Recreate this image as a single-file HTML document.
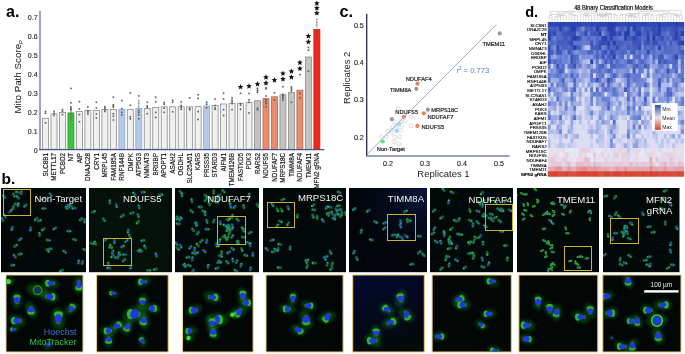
<!DOCTYPE html>
<html><head><meta charset="utf-8"><style>
html,body{margin:0;padding:0;background:#fff;width:685px;height:354px;overflow:hidden}
svg{display:block}
text{font-family:"Liberation Sans", Arial, sans-serif}
.t{stroke:#222;stroke-width:0.18px}
</style></head><body>
<svg width="685" height="354" viewBox="0 0 685 354">
<rect width="685" height="354" fill="#fff"/>
<defs><g id="c1"><ellipse rx="3.4" ry="2.0" fill="#22b022" opacity="0.45"/><ellipse cx="1.5" rx="1.1" ry="0.95" fill="#2ad82a"/><ellipse cx="-1.5" rx="0.8" ry="0.65" fill="#26c026"/><ellipse rx="1.4" ry="1.0" fill="#2a3cf4"/></g><g id="c2"><ellipse rx="3.4" ry="2.0" fill="#22b022" opacity="0.45"/><ellipse cx="1.5" rx="0.9" ry="0.8" fill="#2ad82a"/><ellipse cx="-1.5" rx="0.95" ry="0.8" fill="#26c026"/><ellipse rx="1.4" ry="1.0" fill="#2a3cf4"/></g><g id="c3"><ellipse rx="3.4" ry="2.0" fill="#22b022" opacity="0.45"/><ellipse cx="1.5" rx="1.25" ry="1.05" fill="#2ad82a"/><ellipse cx="-1.5" rx="0.5" ry="0.45" fill="#26c026"/><ellipse rx="1.4" ry="1.0" fill="#2a3cf4"/></g><g id="g"><ellipse rx="3.0" ry="1.6" fill="#22b022" opacity="0.4"/><ellipse rx="2.3" ry="1.15" fill="#2cc82c"/><ellipse rx="1.0" ry="0.85" fill="#2a40e0"/></g></defs>
<text x="1.6" y="184.2" font-size="15.5" font-weight="bold">b.</text>
<defs><filter id="bl05" x="-50%" y="-50%" width="200%" height="200%"><feGaussianBlur stdDeviation="0.4"/></filter><filter id="bl1" x="-50%" y="-50%" width="200%" height="200%"><feGaussianBlur stdDeviation="0.7"/></filter><filter id="bl2" x="-50%" y="-50%" width="200%" height="200%"><feGaussianBlur stdDeviation="1.6"/></filter></defs>
<defs><radialGradient id="tmg" cx="0.9" cy="0.05" r="0.8"><stop offset="0" stop-color="#0a1438"/><stop offset="0.5" stop-color="#040a1c"/><stop offset="1" stop-color="#02060a"/></radialGradient><linearGradient id="tmg2" x1="0" y1="0" x2="0.3" y2="1"><stop offset="0" stop-color="#040a30"/><stop offset="0.6" stop-color="#03081c"/><stop offset="1" stop-color="#030a0c"/></linearGradient></defs>
<defs><radialGradient id="gg"><stop offset="0" stop-color="#3cff3c" stop-opacity="0.9"/><stop offset="1" stop-color="#20c020" stop-opacity="0"/></radialGradient></defs>
<rect x="1" y="188" width="85.0" height="84.2" fill="#030808"/>
<g clip-path="url(#ct0)">
<use href="#c1" transform="translate(15.7,245.7) rotate(324) scale(0.85)"/>
<use href="#c1" transform="translate(54.7,228.4) rotate(147) scale(0.85)"/>
<use href="#c3" transform="translate(19.9,254.2) rotate(346) scale(0.85)"/>
<use href="#c2" transform="translate(69.1,231.1) rotate(5) scale(0.85)"/>
<use href="#c2" transform="translate(43.9,208.4) rotate(177) scale(0.85)"/>
<use href="#c1" transform="translate(2.3,219.5) rotate(240) scale(0.85)"/>
<use href="#c1" transform="translate(50.6,194.7) rotate(58) scale(0.85)"/>
<use href="#c2" transform="translate(67.9,208.1) rotate(158) scale(0.85)"/>
<use href="#c2" transform="translate(21.3,192.5) rotate(279) scale(0.85)"/>
<use href="#c2" transform="translate(84.8,249.7) rotate(21) scale(0.85)"/>
<use href="#c2" transform="translate(74.6,239.6) rotate(19) scale(0.85)"/>
<use href="#c1" transform="translate(4.8,216.0) rotate(237) scale(0.85)"/>
<use href="#c1" transform="translate(43.3,198.5) rotate(151) scale(0.85)"/>
<use href="#c2" transform="translate(81.0,219.3) rotate(142) scale(0.85)"/>
<use href="#c1" transform="translate(14.8,256.2) rotate(232) scale(0.85)"/>
<use href="#c3" transform="translate(12.4,265.3) rotate(354) scale(0.85)"/>
<use href="#c1" transform="translate(39.6,234.4) rotate(262) scale(0.85)"/>
<use href="#c3" transform="translate(30.5,228.8) rotate(91) scale(0.85)"/>
<use href="#c3" transform="translate(17.5,192.1) rotate(189) scale(0.85)"/>
<use href="#c1" transform="translate(73.9,208.3) rotate(172) scale(0.85)"/>
<use href="#c2" transform="translate(66.8,206.1) rotate(324) scale(0.85)"/>
<use href="#c2" transform="translate(82.4,262.5) rotate(286) scale(0.85)"/>
<use href="#c2" transform="translate(64.6,251.7) rotate(216) scale(0.85)"/>
<use href="#c2" transform="translate(50.2,249.0) rotate(174) scale(0.85)"/>
<use href="#c3" transform="translate(12.2,228.2) rotate(111) scale(0.85)"/>
<use href="#c1" transform="translate(70.6,205.5) rotate(212) scale(0.85)"/>
<use href="#c1" transform="translate(78.6,262.0) rotate(277) scale(0.85)"/>
<use href="#c1" transform="translate(36.0,219.0) rotate(138) scale(0.85)"/>
<use href="#c1" transform="translate(39.5,220.7) rotate(343) scale(0.85)"/>
<use href="#c2" transform="translate(84.6,220.8) rotate(95) scale(0.85)"/>
<use href="#c3" transform="translate(4.2,196.7) rotate(232) scale(0.85)"/>
<use href="#c3" transform="translate(61.6,270.6) rotate(152) scale(0.85)"/>
<use href="#c1" transform="translate(43.2,229.4) rotate(146) scale(0.85)"/>
<use href="#c1" transform="translate(47.7,250.5) rotate(48) scale(0.85)"/>
<use href="#c1" transform="translate(20.4,239.1) rotate(143) scale(0.85)"/>
<use href="#c2" transform="translate(48.2,240.2) rotate(9) scale(0.85)"/>
<use href="#c1" transform="translate(18.3,204.8) rotate(283) scale(0.85)"/>
<use href="#c3" transform="translate(10.4,211.3) rotate(312) scale(0.85)"/>
<use href="#c2" transform="translate(13.2,207.5) rotate(101) scale(0.85)"/>
<use href="#c2" transform="translate(16.2,204.2) rotate(194) scale(0.85)"/>
<use href="#c1" transform="translate(25.4,205.7) rotate(143) scale(0.85)"/>
<use href="#c1" transform="translate(17.8,197.2) rotate(224) scale(0.85)"/>
<use href="#c2" transform="translate(13.9,195.1) rotate(66) scale(0.85)"/>
</g>
<clipPath id="ct0"><rect x="1" y="188" width="85.0" height="84.2"/></clipPath>
<rect x="3.5" y="189.5" width="27" height="26" fill="none" stroke="#c9b230" stroke-width="1"/>
<rect x="6" y="275" width="77.0" height="77.0" fill="#020705" stroke="#e8cf78" stroke-width="1"/>
<clipPath id="cb0"><rect x="6.5" y="275.5" width="76.0" height="76.0"/></clipPath>
<g clip-path="url(#cb0)">
<ellipse cx="8.3" cy="281.5" rx="6.8" ry="4.2" fill="#1c9c1c" opacity="0.3" filter="url(#bl2)" transform="rotate(-18,8.3,281.5)"/>
<circle cx="8.3" cy="281.5" r="2.6" fill="#36e036" filter="url(#bl1)"/>
<ellipse cx="50.7" cy="283.3" rx="8.6" ry="5.3" fill="#1c9c1c" opacity="0.3" filter="url(#bl2)" transform="rotate(195,50.7,283.3)"/>
<ellipse cx="47.6" cy="283.3" rx="2.5" ry="3.5" fill="#36d036" opacity="0.85" filter="url(#bl1)" transform="rotate(180,47.6,283.3)"/>
<ellipse cx="54.0" cy="283.3" rx="1.2" ry="2.0" fill="#2cc02c" opacity="0.55" filter="url(#bl1)" transform="rotate(180,54.0,283.3)"/>
<ellipse cx="50.7" cy="283.3" rx="3.3" ry="2.2" fill="#2434e8" transform="rotate(0,50.7,283.3)" filter="url(#bl05)"/>
<ellipse cx="37.6" cy="290.2" rx="10.9" ry="6.7" fill="#1c9c1c" opacity="0.3" filter="url(#bl2)" transform="rotate(15,37.6,290.2)"/>
<circle cx="37.6" cy="290.2" r="4.2" fill="none" stroke="#30c830" stroke-width="1.6" opacity="0.6" filter="url(#bl1)"/>
<circle cx="37.6" cy="290.2" r="2.3" fill="#1a2a90"/>
<ellipse cx="78.9" cy="284.8" rx="9.1" ry="5.6" fill="#1c9c1c" opacity="0.3" filter="url(#bl2)" transform="rotate(96,78.9,284.8)"/>
<ellipse cx="78.9" cy="288.1" rx="2.6" ry="3.7" fill="#36d036" opacity="0.85" filter="url(#bl1)" transform="rotate(90,78.9,288.1)"/>
<ellipse cx="78.9" cy="281.3" rx="1.2" ry="2.1" fill="#2cc02c" opacity="0.55" filter="url(#bl1)" transform="rotate(90,78.9,281.3)"/>
<ellipse cx="78.9" cy="284.8" rx="2.5" ry="3.5" fill="#2434e8" transform="rotate(0,78.9,284.8)" filter="url(#bl05)"/>
<ellipse cx="17.0" cy="300.0" rx="8.6" ry="5.3" fill="#1c9c1c" opacity="0.3" filter="url(#bl2)" transform="rotate(-90,17.0,300.0)"/>
<ellipse cx="17.0" cy="297.1" rx="2.5" ry="3.5" fill="#36d036" opacity="0.85" filter="url(#bl1)" transform="rotate(-90,17.0,297.1)"/>
<ellipse cx="17.0" cy="303.0" rx="1.2" ry="2.0" fill="#2cc02c" opacity="0.55" filter="url(#bl1)" transform="rotate(-90,17.0,303.0)"/>
<ellipse cx="17.0" cy="300.0" rx="3.3" ry="3.0" fill="#2434e8" transform="rotate(0,17.0,300.0)" filter="url(#bl05)"/>
<ellipse cx="49.6" cy="296.7" rx="9.1" ry="5.6" fill="#1c9c1c" opacity="0.3" filter="url(#bl2)" transform="rotate(15,49.6,296.7)"/>
<ellipse cx="52.9" cy="296.7" rx="2.6" ry="3.7" fill="#36d036" opacity="0.85" filter="url(#bl1)" transform="rotate(0,52.9,296.7)"/>
<ellipse cx="46.1" cy="296.7" rx="1.2" ry="2.1" fill="#2cc02c" opacity="0.55" filter="url(#bl1)" transform="rotate(0,46.1,296.7)"/>
<ellipse cx="49.6" cy="296.7" rx="3.5" ry="3.0" fill="#2434e8" transform="rotate(0,49.6,296.7)" filter="url(#bl05)"/>
<ellipse cx="31.1" cy="309.8" rx="9.1" ry="5.6" fill="#1c9c1c" opacity="0.3" filter="url(#bl2)" transform="rotate(63,31.1,309.8)"/>
<ellipse cx="31.1" cy="312.2" rx="2.6" ry="3.7" fill="#36d036" opacity="0.85" filter="url(#bl1)" transform="rotate(90,31.1,312.2)"/>
<ellipse cx="31.1" cy="307.3" rx="1.2" ry="2.1" fill="#2cc02c" opacity="0.55" filter="url(#bl1)" transform="rotate(90,31.1,307.3)"/>
<ellipse cx="31.1" cy="309.8" rx="3.5" ry="2.5" fill="#2434e8" transform="rotate(0,31.1,309.8)" filter="url(#bl05)"/>
<ellipse cx="71.3" cy="308.7" rx="7.8" ry="4.8" fill="#1c9c1c" opacity="0.3" filter="url(#bl2)" transform="rotate(-34,71.3,308.7)"/>
<ellipse cx="72.5" cy="306.2" rx="2.2" ry="3.2" fill="#36d036" opacity="0.85" filter="url(#bl1)" transform="rotate(-60,72.5,306.2)"/>
<ellipse cx="70.0" cy="311.3" rx="1.0" ry="1.8" fill="#2cc02c" opacity="0.55" filter="url(#bl1)" transform="rotate(-60,70.0,311.3)"/>
<ellipse cx="71.3" cy="308.7" rx="2.5" ry="3.0" fill="#2434e8" transform="rotate(20,71.3,308.7)" filter="url(#bl05)"/>
<ellipse cx="58.3" cy="318.5" rx="11.2" ry="6.9" fill="#1c9c1c" opacity="0.3" filter="url(#bl2)" transform="rotate(-97,58.3,318.5)"/>
<ellipse cx="58.3" cy="314.4" rx="3.2" ry="4.5" fill="#36d036" opacity="0.85" filter="url(#bl1)" transform="rotate(-90,58.3,314.4)"/>
<ellipse cx="58.3" cy="322.8" rx="1.5" ry="2.6" fill="#2cc02c" opacity="0.55" filter="url(#bl1)" transform="rotate(-90,58.3,322.8)"/>
<ellipse cx="58.3" cy="318.5" rx="3.5" ry="4.3" fill="#2434e8" transform="rotate(0,58.3,318.5)" filter="url(#bl05)"/>
<ellipse cx="17.0" cy="320.7" rx="9.1" ry="5.6" fill="#1c9c1c" opacity="0.3" filter="url(#bl2)" transform="rotate(202,17.0,320.7)"/>
<ellipse cx="13.7" cy="320.7" rx="2.6" ry="3.7" fill="#36d036" opacity="0.85" filter="url(#bl1)" transform="rotate(180,13.7,320.7)"/>
<ellipse cx="20.5" cy="320.7" rx="1.2" ry="2.1" fill="#2cc02c" opacity="0.55" filter="url(#bl1)" transform="rotate(180,20.5,320.7)"/>
<ellipse cx="17.0" cy="320.7" rx="3.5" ry="3.0" fill="#2434e8" transform="rotate(0,17.0,320.7)" filter="url(#bl05)"/>
<ellipse cx="13.7" cy="329.3" rx="5.2" ry="3.2" fill="#1c9c1c" opacity="0.3" filter="url(#bl2)" transform="rotate(174,13.7,329.3)"/>
<ellipse cx="11.8" cy="329.3" rx="1.5" ry="2.1" fill="#36d036" opacity="0.85" filter="url(#bl1)" transform="rotate(180,11.8,329.3)"/>
<ellipse cx="15.7" cy="329.3" rx="0.7" ry="1.2" fill="#2cc02c" opacity="0.55" filter="url(#bl1)" transform="rotate(180,15.7,329.3)"/>
<ellipse cx="13.7" cy="329.3" rx="2.0" ry="1.5" fill="#2434e8" transform="rotate(0,13.7,329.3)" filter="url(#bl05)"/>
<ellipse cx="48.5" cy="344.6" rx="6.5" ry="4.0" fill="#1c9c1c" opacity="0.3" filter="url(#bl2)" transform="rotate(123,48.5,344.6)"/>
<ellipse cx="48.5" cy="344.6" rx="2.5" ry="2.0" fill="#2434e8" transform="rotate(0,48.5,344.6)" filter="url(#bl05)"/>
</g>
<rect x="89" y="188" width="83.0" height="84.2" fill="#051008"/>
<g clip-path="url(#ct1)">
<use href="#c3" transform="translate(108.9,268.2) rotate(188) scale(0.85)"/>
<use href="#c3" transform="translate(139.0,250.3) rotate(340) scale(0.85)"/>
<use href="#c1" transform="translate(109.8,201.8) rotate(267) scale(0.85)"/>
<use href="#c1" transform="translate(148.8,270.4) rotate(357) scale(0.85)"/>
<use href="#c1" transform="translate(156.2,255.0) rotate(253) scale(0.85)"/>
<use href="#c2" transform="translate(129.7,236.1) rotate(244) scale(0.85)"/>
<use href="#c3" transform="translate(134.2,193.9) rotate(231) scale(0.85)"/>
<use href="#c1" transform="translate(138.2,215.6) rotate(68) scale(0.85)"/>
<use href="#c2" transform="translate(131.9,213.0) rotate(342) scale(0.85)"/>
<use href="#c1" transform="translate(140.6,251.3) rotate(185) scale(0.85)"/>
<use href="#c3" transform="translate(105.4,239.7) rotate(324) scale(0.85)"/>
<use href="#c3" transform="translate(116.4,205.5) rotate(72) scale(0.85)"/>
<use href="#c3" transform="translate(95.3,243.1) rotate(248) scale(0.85)"/>
<use href="#c2" transform="translate(124.0,260.3) rotate(136) scale(0.85)"/>
<use href="#c2" transform="translate(142.8,240.5) rotate(168) scale(0.85)"/>
<use href="#c3" transform="translate(155.4,269.3) rotate(166) scale(0.85)"/>
<use href="#c1" transform="translate(130.9,266.8) rotate(101) scale(0.85)"/>
<use href="#c3" transform="translate(145.1,247.0) rotate(240) scale(0.85)"/>
<use href="#c1" transform="translate(128.1,231.2) rotate(98) scale(0.85)"/>
<use href="#c1" transform="translate(160.9,194.8) rotate(351) scale(0.85)"/>
<use href="#c3" transform="translate(92.0,243.4) rotate(12) scale(0.85)"/>
<use href="#c3" transform="translate(93.4,211.7) rotate(337) scale(0.85)"/>
<use href="#c1" transform="translate(137.7,222.3) rotate(132) scale(0.85)"/>
<use href="#c1" transform="translate(124.6,254.6) rotate(180) scale(0.85)"/>
<use href="#c2" transform="translate(122.3,215.9) rotate(143) scale(0.85)"/>
<use href="#c1" transform="translate(108.5,264.2) rotate(252) scale(0.85)"/>
<use href="#c3" transform="translate(143.0,192.1) rotate(357) scale(0.85)"/>
<use href="#c2" transform="translate(104.0,219.7) rotate(53) scale(0.85)"/>
<use href="#c2" transform="translate(139.0,206.7) rotate(69) scale(0.85)"/>
<use href="#c2" transform="translate(126.4,241.0) rotate(322) scale(0.85)"/>
<use href="#c3" transform="translate(111.1,246.5) rotate(60) scale(0.85)"/>
<use href="#c2" transform="translate(109.7,246.3) rotate(285) scale(0.85)"/>
<use href="#c1" transform="translate(116.6,257.7) rotate(191) scale(0.85)"/>
<use href="#c2" transform="translate(112.7,252.0) rotate(111) scale(0.85)"/>
<use href="#c3" transform="translate(112.5,256.1) rotate(145) scale(0.85)"/>
<use href="#c3" transform="translate(114.4,241.4) rotate(88) scale(0.85)"/>
<use href="#c3" transform="translate(118.8,254.9) rotate(289) scale(0.85)"/>
<use href="#c1" transform="translate(122.6,246.4) rotate(333) scale(0.85)"/>
<use href="#c1" transform="translate(119.6,253.7) rotate(237) scale(0.85)"/>
</g>
<clipPath id="ct1"><rect x="89" y="188" width="83.0" height="84.2"/></clipPath>
<rect x="103.5" y="238.5" width="28" height="27" fill="none" stroke="#c9b230" stroke-width="1"/>
<rect x="96.6" y="275" width="71.6" height="77.0" fill="#020705" stroke="#e8cf78" stroke-width="1"/>
<clipPath id="cb1"><rect x="97.1" y="275.5" width="70.6" height="76.0"/></clipPath>
<g clip-path="url(#cb1)">
<ellipse cx="143.2" cy="281.7" rx="7.8" ry="4.8" fill="#1c9c1c" opacity="0.3" filter="url(#bl2)" transform="rotate(155,143.2,281.7)"/>
<ellipse cx="140.3" cy="281.7" rx="2.2" ry="3.2" fill="#36d036" opacity="0.85" filter="url(#bl1)" transform="rotate(180,140.3,281.7)"/>
<ellipse cx="146.2" cy="281.7" rx="1.0" ry="1.8" fill="#2cc02c" opacity="0.55" filter="url(#bl1)" transform="rotate(180,146.2,281.7)"/>
<ellipse cx="143.2" cy="281.7" rx="3.0" ry="2.0" fill="#2434e8" transform="rotate(0,143.2,281.7)" filter="url(#bl05)"/>
<ellipse cx="113.1" cy="293.3" rx="5.7" ry="3.5" fill="#1c9c1c" opacity="0.3" filter="url(#bl2)" transform="rotate(204,113.1,293.3)"/>
<ellipse cx="111.0" cy="293.3" rx="1.7" ry="2.3" fill="#36d036" opacity="0.85" filter="url(#bl1)" transform="rotate(180,111.0,293.3)"/>
<ellipse cx="115.3" cy="293.3" rx="0.8" ry="1.3" fill="#2cc02c" opacity="0.55" filter="url(#bl1)" transform="rotate(180,115.3,293.3)"/>
<ellipse cx="113.1" cy="293.3" rx="2.2" ry="1.8" fill="#2434e8" transform="rotate(0,113.1,293.3)" filter="url(#bl05)"/>
<ellipse cx="142.4" cy="302.1" rx="8.3" ry="5.1" fill="#1c9c1c" opacity="0.3" filter="url(#bl2)" transform="rotate(-75,142.4,302.1)"/>
<ellipse cx="142.4" cy="300.1" rx="2.4" ry="3.4" fill="#36d036" opacity="0.85" filter="url(#bl1)" transform="rotate(-90,142.4,300.1)"/>
<ellipse cx="142.4" cy="304.2" rx="1.1" ry="1.9" fill="#2cc02c" opacity="0.55" filter="url(#bl1)" transform="rotate(-90,142.4,304.2)"/>
<ellipse cx="142.4" cy="302.1" rx="3.2" ry="2.1" fill="#2434e8" transform="rotate(0,142.4,302.1)" filter="url(#bl05)"/>
<ellipse cx="152.3" cy="308.4" rx="8.3" ry="5.1" fill="#1c9c1c" opacity="0.3" filter="url(#bl2)" transform="rotate(16,152.3,308.4)"/>
<ellipse cx="154.7" cy="308.4" rx="2.4" ry="3.4" fill="#36d036" opacity="0.85" filter="url(#bl1)" transform="rotate(0,154.7,308.4)"/>
<ellipse cx="149.8" cy="308.4" rx="1.1" ry="1.9" fill="#2cc02c" opacity="0.55" filter="url(#bl1)" transform="rotate(0,149.8,308.4)"/>
<ellipse cx="152.3" cy="308.4" rx="2.5" ry="3.2" fill="#2434e8" transform="rotate(0,152.3,308.4)" filter="url(#bl05)"/>
<ellipse cx="134.6" cy="314.1" rx="13.0" ry="8.0" fill="#1c9c1c" opacity="0.3" filter="url(#bl2)" transform="rotate(161,134.6,314.1)"/>
<ellipse cx="130.6" cy="314.1" rx="3.8" ry="5.2" fill="#36d036" opacity="0.85" filter="url(#bl1)" transform="rotate(180,130.6,314.1)"/>
<ellipse cx="138.8" cy="314.1" rx="1.8" ry="3.0" fill="#2cc02c" opacity="0.55" filter="url(#bl1)" transform="rotate(180,138.8,314.1)"/>
<ellipse cx="134.6" cy="314.1" rx="4.2" ry="5.0" fill="#2434e8" transform="rotate(30,134.6,314.1)" filter="url(#bl05)"/>
<ellipse cx="143.8" cy="320.4" rx="9.1" ry="5.6" fill="#1c9c1c" opacity="0.3" filter="url(#bl2)" transform="rotate(74,143.8,320.4)"/>
<ellipse cx="143.2" cy="322.7" rx="2.6" ry="3.7" fill="#36d036" opacity="0.85" filter="url(#bl1)" transform="rotate(100,143.2,322.7)"/>
<ellipse cx="144.4" cy="317.9" rx="1.2" ry="2.1" fill="#2cc02c" opacity="0.55" filter="url(#bl1)" transform="rotate(100,144.4,317.9)"/>
<ellipse cx="143.8" cy="320.4" rx="3.5" ry="2.5" fill="#2434e8" transform="rotate(0,143.8,320.4)" filter="url(#bl05)"/>
<ellipse cx="117.0" cy="326.0" rx="8.3" ry="5.1" fill="#1c9c1c" opacity="0.3" filter="url(#bl2)" transform="rotate(-26,117.0,326.0)"/>
<ellipse cx="119.1" cy="324.3" rx="2.4" ry="3.4" fill="#36d036" opacity="0.85" filter="url(#bl1)" transform="rotate(-45,119.1,324.3)"/>
<ellipse cx="114.7" cy="327.8" rx="1.1" ry="1.9" fill="#2cc02c" opacity="0.55" filter="url(#bl1)" transform="rotate(-45,114.7,327.8)"/>
<ellipse cx="117.0" cy="326.0" rx="3.2" ry="2.5" fill="#2434e8" transform="rotate(0,117.0,326.0)" filter="url(#bl05)"/>
<ellipse cx="127.5" cy="326.8" rx="8.3" ry="5.1" fill="#1c9c1c" opacity="0.3" filter="url(#bl2)" transform="rotate(116,127.5,326.8)"/>
<ellipse cx="126.5" cy="329.0" rx="2.4" ry="3.4" fill="#36d036" opacity="0.85" filter="url(#bl1)" transform="rotate(110,126.5,329.0)"/>
<ellipse cx="128.6" cy="324.5" rx="1.1" ry="1.9" fill="#2cc02c" opacity="0.55" filter="url(#bl1)" transform="rotate(110,128.6,324.5)"/>
<ellipse cx="127.5" cy="326.8" rx="3.2" ry="2.5" fill="#2434e8" transform="rotate(-20,127.5,326.8)" filter="url(#bl05)"/>
<ellipse cx="108.5" cy="331.0" rx="8.3" ry="5.1" fill="#1c9c1c" opacity="0.3" filter="url(#bl2)" transform="rotate(187,108.5,331.0)"/>
<ellipse cx="106.1" cy="331.0" rx="2.4" ry="3.4" fill="#36d036" opacity="0.85" filter="url(#bl1)" transform="rotate(180,106.1,331.0)"/>
<ellipse cx="111.0" cy="331.0" rx="1.1" ry="1.9" fill="#2cc02c" opacity="0.55" filter="url(#bl1)" transform="rotate(180,111.0,331.0)"/>
<ellipse cx="108.5" cy="331.0" rx="2.5" ry="3.2" fill="#2434e8" transform="rotate(0,108.5,331.0)" filter="url(#bl05)"/>
<ellipse cx="108.5" cy="339.5" rx="8.3" ry="5.1" fill="#1c9c1c" opacity="0.3" filter="url(#bl2)" transform="rotate(88,108.5,339.5)"/>
<ellipse cx="108.5" cy="341.5" rx="2.4" ry="3.4" fill="#36d036" opacity="0.85" filter="url(#bl1)" transform="rotate(90,108.5,341.5)"/>
<ellipse cx="108.5" cy="337.4" rx="1.1" ry="1.9" fill="#2cc02c" opacity="0.55" filter="url(#bl1)" transform="rotate(90,108.5,337.4)"/>
<ellipse cx="108.5" cy="339.5" rx="3.2" ry="2.1" fill="#2434e8" transform="rotate(0,108.5,339.5)" filter="url(#bl05)"/>
<ellipse cx="142.4" cy="340.9" rx="6.5" ry="4.0" fill="#1c9c1c" opacity="0.3" filter="url(#bl2)" transform="rotate(-102,142.4,340.9)"/>
<ellipse cx="141.2" cy="339.3" rx="1.9" ry="2.6" fill="#36d036" opacity="0.85" filter="url(#bl1)" transform="rotate(-120,141.2,339.3)"/>
<ellipse cx="143.7" cy="342.6" rx="0.9" ry="1.5" fill="#2cc02c" opacity="0.55" filter="url(#bl1)" transform="rotate(-120,143.7,342.6)"/>
<ellipse cx="142.4" cy="340.9" rx="2.5" ry="2.0" fill="#2434e8" transform="rotate(30,142.4,340.9)" filter="url(#bl05)"/>
</g>
<rect x="175" y="188" width="84.0" height="84.2" fill="#030808"/>
<g clip-path="url(#ct2)">
<use href="#c1" transform="translate(203.7,211.2) rotate(17) scale(0.85)"/>
<use href="#c1" transform="translate(205.0,213.5) rotate(73) scale(0.85)"/>
<use href="#c1" transform="translate(227.4,262.2) rotate(225) scale(0.85)"/>
<use href="#c1" transform="translate(181.8,194.6) rotate(80) scale(0.85)"/>
<use href="#c3" transform="translate(218.0,244.7) rotate(60) scale(0.85)"/>
<use href="#c2" transform="translate(191.6,211.2) rotate(42) scale(0.85)"/>
<use href="#c1" transform="translate(180.8,192.1) rotate(44) scale(0.85)"/>
<use href="#c3" transform="translate(216.6,245.0) rotate(73) scale(0.85)"/>
<use href="#c1" transform="translate(229.6,202.0) rotate(75) scale(0.85)"/>
<use href="#c1" transform="translate(184.5,265.5) rotate(31) scale(0.85)"/>
<use href="#c3" transform="translate(220.2,222.6) rotate(79) scale(0.85)"/>
<use href="#c1" transform="translate(232.7,248.8) rotate(35) scale(0.85)"/>
<use href="#c3" transform="translate(219.0,195.4) rotate(155) scale(0.85)"/>
<use href="#c1" transform="translate(243.8,206.6) rotate(251) scale(0.85)"/>
<use href="#c2" transform="translate(179.3,218.0) rotate(144) scale(0.85)"/>
<use href="#c3" transform="translate(219.7,240.6) rotate(290) scale(0.85)"/>
<use href="#c2" transform="translate(190.3,247.3) rotate(129) scale(0.85)"/>
<use href="#c2" transform="translate(216.5,202.3) rotate(12) scale(0.85)"/>
<use href="#c2" transform="translate(245.8,255.3) rotate(17) scale(0.85)"/>
<use href="#c3" transform="translate(250.3,244.9) rotate(278) scale(0.85)"/>
<use href="#c1" transform="translate(193.8,252.9) rotate(174) scale(0.85)"/>
<use href="#c1" transform="translate(250.0,232.8) rotate(333) scale(0.85)"/>
<use href="#c2" transform="translate(250.5,268.7) rotate(280) scale(0.85)"/>
<use href="#c3" transform="translate(208.0,266.4) rotate(279) scale(0.85)"/>
<use href="#c1" transform="translate(252.8,254.3) rotate(94) scale(0.85)"/>
<use href="#c2" transform="translate(176.9,217.9) rotate(104) scale(0.85)"/>
<use href="#c3" transform="translate(226.3,238.9) rotate(239) scale(0.85)"/>
<use href="#c2" transform="translate(238.0,242.2) rotate(95) scale(0.85)"/>
<use href="#c2" transform="translate(189.2,265.5) rotate(19) scale(0.85)"/>
<use href="#c2" transform="translate(220.0,261.5) rotate(211) scale(0.85)"/>
<use href="#c1" transform="translate(193.0,271.0) rotate(117) scale(0.85)"/>
<use href="#c1" transform="translate(221.5,252.8) rotate(271) scale(0.85)"/>
<use href="#c2" transform="translate(236.7,261.6) rotate(112) scale(0.85)"/>
<use href="#c3" transform="translate(205.7,195.8) rotate(40) scale(0.85)"/>
<use href="#c1" transform="translate(209.3,203.7) rotate(244) scale(0.85)"/>
<use href="#c3" transform="translate(220.3,256.0) rotate(18) scale(0.85)"/>
<use href="#c2" transform="translate(205.7,199.8) rotate(311) scale(0.85)"/>
<use href="#c1" transform="translate(178.2,223.8) rotate(185) scale(0.85)"/>
<use href="#c2" transform="translate(223.6,191.2) rotate(226) scale(0.85)"/>
<use href="#c2" transform="translate(230.6,206.3) rotate(78) scale(0.85)"/>
<use href="#c1" transform="translate(184.8,265.3) rotate(261) scale(0.85)"/>
<use href="#c2" transform="translate(218.9,262.6) rotate(178) scale(0.85)"/>
<use href="#c2" transform="translate(218.1,199.1) rotate(219) scale(0.85)"/>
<use href="#c1" transform="translate(195.7,223.9) rotate(67) scale(0.85)"/>
<use href="#c1" transform="translate(228.6,252.4) rotate(153) scale(0.85)"/>
<use href="#c1" transform="translate(237.6,242.5) rotate(59) scale(0.85)"/>
<use href="#c2" transform="translate(196.7,224.4) rotate(77) scale(0.85)"/>
<use href="#c1" transform="translate(207.0,229.2) rotate(5) scale(0.85)"/>
<use href="#c2" transform="translate(197.8,233.2) rotate(306) scale(0.85)"/>
<use href="#c2" transform="translate(213.6,191.9) rotate(90) scale(0.85)"/>
<use href="#c2" transform="translate(243.5,237.2) rotate(190) scale(0.85)"/>
<use href="#c3" transform="translate(241.8,249.5) rotate(68) scale(0.85)"/>
<use href="#c1" transform="translate(235.9,270.7) rotate(214) scale(0.85)"/>
<use href="#c2" transform="translate(206.9,221.4) rotate(249) scale(0.85)"/>
<use href="#c2" transform="translate(176.3,243.6) rotate(52) scale(0.85)"/>
<use href="#c3" transform="translate(223.7,236.4) rotate(321) scale(0.85)"/>
<use href="#c3" transform="translate(257.8,205.2) rotate(52) scale(0.85)"/>
<use href="#c3" transform="translate(194.6,249.3) rotate(270) scale(0.85)"/>
<use href="#c1" transform="translate(242.6,228.7) rotate(243) scale(0.85)"/>
<use href="#c1" transform="translate(180.5,219.4) rotate(316) scale(0.85)"/>
<use href="#c2" transform="translate(243.8,230.1) rotate(259) scale(0.85)"/>
<use href="#c2" transform="translate(213.8,221.0) rotate(118) scale(0.85)"/>
<use href="#c1" transform="translate(227.5,238.2) rotate(296) scale(0.85)"/>
<use href="#c1" transform="translate(232.8,260.1) rotate(260) scale(0.85)"/>
<use href="#c2" transform="translate(237.6,219.8) rotate(225) scale(0.85)"/>
<use href="#c1" transform="translate(196.5,253.3) rotate(330) scale(0.85)"/>
<use href="#c3" transform="translate(241.0,265.3) rotate(286) scale(0.85)"/>
<use href="#c1" transform="translate(192.3,258.7) rotate(276) scale(0.85)"/>
<use href="#c1" transform="translate(249.0,195.3) rotate(284) scale(0.85)"/>
<use href="#c2" transform="translate(201.3,241.1) rotate(322) scale(0.85)"/>
<use href="#c2" transform="translate(188.0,257.3) rotate(352) scale(0.85)"/>
<use href="#c3" transform="translate(197.7,245.1) rotate(234) scale(0.85)"/>
<use href="#c1" transform="translate(200.3,206.9) rotate(185) scale(0.85)"/>
<use href="#c2" transform="translate(193.0,229.9) rotate(236) scale(0.85)"/>
<use href="#c2" transform="translate(234.5,206.9) rotate(137) scale(0.85)"/>
<use href="#c3" transform="translate(232.3,216.5) rotate(277) scale(0.85)"/>
<use href="#c1" transform="translate(229.2,219.3) rotate(139) scale(0.85)"/>
<use href="#c1" transform="translate(191.8,200.6) rotate(257) scale(0.85)"/>
<use href="#c1" transform="translate(180.7,246.2) rotate(60) scale(0.85)"/>
<use href="#c1" transform="translate(209.9,199.1) rotate(275) scale(0.85)"/>
<use href="#c2" transform="translate(248.2,242.8) rotate(27) scale(0.85)"/>
<use href="#c3" transform="translate(177.7,248.6) rotate(40) scale(0.85)"/>
<use href="#c3" transform="translate(224.8,225.5) rotate(210) scale(0.85)"/>
<use href="#c3" transform="translate(217.1,268.1) rotate(161) scale(0.85)"/>
<use href="#c2" transform="translate(206.7,241.3) rotate(105) scale(0.85)"/>
<use href="#c3" transform="translate(228.1,219.1) rotate(342) scale(0.85)"/>
<use href="#c2" transform="translate(204.4,251.1) rotate(42) scale(0.85)"/>
<use href="#c2" transform="translate(228.1,226.6) rotate(2) scale(0.85)"/>
<use href="#c2" transform="translate(227.5,229.7) rotate(301) scale(0.85)"/>
<use href="#c2" transform="translate(231.2,229.0) rotate(167) scale(0.85)"/>
<use href="#c2" transform="translate(227.6,225.7) rotate(317) scale(0.85)"/>
<use href="#c1" transform="translate(232.2,236.5) rotate(305) scale(0.85)"/>
<use href="#c3" transform="translate(229.2,228.9) rotate(191) scale(0.85)"/>
<use href="#c2" transform="translate(228.0,230.2) rotate(337) scale(0.85)"/>
<use href="#c1" transform="translate(232.4,225.8) rotate(74) scale(0.85)"/>
<use href="#c2" transform="translate(229.4,233.1) rotate(295) scale(0.85)"/>
</g>
<clipPath id="ct2"><rect x="175" y="188" width="84.0" height="84.2"/></clipPath>
<rect x="217.5" y="216.5" width="28" height="28" fill="none" stroke="#c9b230" stroke-width="1"/>
<rect x="182.5" y="275" width="70.6" height="77.0" fill="#020705" stroke="#e8cf78" stroke-width="1"/>
<clipPath id="cb2"><rect x="183.0" y="275.5" width="69.6" height="76.0"/></clipPath>
<g clip-path="url(#cb2)">
<ellipse cx="212.4" cy="297.2" rx="9.1" ry="5.6" fill="#1c9c1c" opacity="0.3" filter="url(#bl2)" transform="rotate(18,212.4,297.2)"/>
<ellipse cx="215.7" cy="297.2" rx="2.6" ry="3.7" fill="#36d036" opacity="0.85" filter="url(#bl1)" transform="rotate(0,215.7,297.2)"/>
<ellipse cx="208.9" cy="297.2" rx="1.2" ry="2.1" fill="#2cc02c" opacity="0.55" filter="url(#bl1)" transform="rotate(0,208.9,297.2)"/>
<ellipse cx="212.4" cy="297.2" rx="3.5" ry="2.5" fill="#2434e8" transform="rotate(0,212.4,297.2)" filter="url(#bl05)"/>
<ellipse cx="242.9" cy="295.7" rx="8.3" ry="5.1" fill="#1c9c1c" opacity="0.3" filter="url(#bl2)" transform="rotate(-110,242.9,295.7)"/>
<ellipse cx="242.9" cy="293.0" rx="2.4" ry="3.4" fill="#36d036" opacity="0.85" filter="url(#bl1)" transform="rotate(-90,242.9,293.0)"/>
<ellipse cx="242.9" cy="298.5" rx="1.1" ry="1.9" fill="#2cc02c" opacity="0.55" filter="url(#bl1)" transform="rotate(-90,242.9,298.5)"/>
<ellipse cx="242.9" cy="295.7" rx="3.2" ry="2.8" fill="#2434e8" transform="rotate(0,242.9,295.7)" filter="url(#bl05)"/>
<ellipse cx="246.1" cy="302.8" rx="8.3" ry="5.1" fill="#1c9c1c" opacity="0.3" filter="url(#bl2)" transform="rotate(28,246.1,302.8)"/>
<ellipse cx="248.6" cy="302.8" rx="2.4" ry="3.4" fill="#36d036" opacity="0.85" filter="url(#bl1)" transform="rotate(0,248.6,302.8)"/>
<ellipse cx="243.5" cy="302.8" rx="1.1" ry="1.9" fill="#2cc02c" opacity="0.55" filter="url(#bl1)" transform="rotate(0,243.5,302.8)"/>
<ellipse cx="246.1" cy="302.8" rx="2.6" ry="3.2" fill="#2434e8" transform="rotate(0,246.1,302.8)" filter="url(#bl05)"/>
<ellipse cx="194.0" cy="310.2" rx="8.3" ry="5.1" fill="#1c9c1c" opacity="0.3" filter="url(#bl2)" transform="rotate(153,194.0,310.2)"/>
<ellipse cx="191.2" cy="310.2" rx="2.4" ry="3.4" fill="#36d036" opacity="0.85" filter="url(#bl1)" transform="rotate(180,191.2,310.2)"/>
<ellipse cx="197.0" cy="310.2" rx="1.1" ry="1.9" fill="#2cc02c" opacity="0.55" filter="url(#bl1)" transform="rotate(180,197.0,310.2)"/>
<ellipse cx="194.0" cy="310.2" rx="3.0" ry="3.2" fill="#2434e8" transform="rotate(0,194.0,310.2)" filter="url(#bl05)"/>
<ellipse cx="239.0" cy="312.0" rx="9.1" ry="5.6" fill="#1c9c1c" opacity="0.3" filter="url(#bl2)" transform="rotate(152,239.0,312.0)"/>
<ellipse cx="237.1" cy="314.4" rx="2.6" ry="3.7" fill="#36d036" opacity="0.85" filter="url(#bl1)" transform="rotate(135,237.1,314.4)"/>
<ellipse cx="241.0" cy="309.5" rx="1.2" ry="2.1" fill="#2cc02c" opacity="0.55" filter="url(#bl1)" transform="rotate(135,241.0,309.5)"/>
<ellipse cx="239.0" cy="312.0" rx="2.8" ry="3.5" fill="#2434e8" transform="rotate(0,239.0,312.0)" filter="url(#bl05)"/>
<ellipse cx="232.4" cy="314.8" rx="5.7" ry="3.5" fill="#1c9c1c" opacity="0.3" filter="url(#bl2)" transform="rotate(12,232.4,314.8)"/>
<circle cx="232.4" cy="314.8" r="2.2" fill="#36e036" filter="url(#bl1)"/>
<ellipse cx="217.2" cy="319.6" rx="11.7" ry="7.2" fill="#1c9c1c" opacity="0.3" filter="url(#bl2)" transform="rotate(0,217.2,319.6)"/>
<ellipse cx="219.6" cy="319.6" rx="3.4" ry="4.7" fill="#36d036" opacity="0.85" filter="url(#bl1)" transform="rotate(0,219.6,319.6)"/>
<ellipse cx="214.7" cy="319.6" rx="1.6" ry="2.7" fill="#2cc02c" opacity="0.55" filter="url(#bl1)" transform="rotate(0,214.7,319.6)"/>
<ellipse cx="217.2" cy="319.6" rx="2.5" ry="4.5" fill="#2434e8" transform="rotate(0,217.2,319.6)" filter="url(#bl05)"/>
<ellipse cx="212.0" cy="323.3" rx="7.8" ry="4.8" fill="#1c9c1c" opacity="0.3" filter="url(#bl2)" transform="rotate(-117,212.0,323.3)"/>
<ellipse cx="212.0" cy="320.6" rx="2.2" ry="3.2" fill="#36d036" opacity="0.85" filter="url(#bl1)" transform="rotate(-90,212.0,320.6)"/>
<ellipse cx="212.0" cy="326.1" rx="1.0" ry="1.8" fill="#2cc02c" opacity="0.55" filter="url(#bl1)" transform="rotate(-90,212.0,326.1)"/>
<ellipse cx="212.0" cy="323.3" rx="3.0" ry="2.8" fill="#2434e8" transform="rotate(0,212.0,323.3)" filter="url(#bl05)"/>
<ellipse cx="213.1" cy="332.0" rx="8.3" ry="5.1" fill="#1c9c1c" opacity="0.3" filter="url(#bl2)" transform="rotate(62,213.1,332.0)"/>
<ellipse cx="213.1" cy="334.7" rx="2.4" ry="3.4" fill="#36d036" opacity="0.85" filter="url(#bl1)" transform="rotate(90,213.1,334.7)"/>
<ellipse cx="213.1" cy="329.2" rx="1.1" ry="1.9" fill="#2cc02c" opacity="0.55" filter="url(#bl1)" transform="rotate(90,213.1,329.2)"/>
<ellipse cx="213.1" cy="332.0" rx="3.2" ry="2.8" fill="#2434e8" transform="rotate(0,213.1,332.0)" filter="url(#bl05)"/>
<ellipse cx="189.6" cy="331.1" rx="7.8" ry="4.8" fill="#1c9c1c" opacity="0.3" filter="url(#bl2)" transform="rotate(169,189.6,331.1)"/>
<ellipse cx="187.7" cy="331.1" rx="2.2" ry="3.2" fill="#36d036" opacity="0.85" filter="url(#bl1)" transform="rotate(180,187.7,331.1)"/>
<ellipse cx="191.6" cy="331.1" rx="1.0" ry="1.8" fill="#2cc02c" opacity="0.55" filter="url(#bl1)" transform="rotate(180,191.6,331.1)"/>
<ellipse cx="189.6" cy="331.1" rx="2.0" ry="3.0" fill="#2434e8" transform="rotate(0,189.6,331.1)" filter="url(#bl05)"/>
<ellipse cx="188.5" cy="338.0" rx="5.7" ry="3.5" fill="#1c9c1c" opacity="0.3" filter="url(#bl2)" transform="rotate(11,188.5,338.0)"/>
<circle cx="188.5" cy="338.0" r="2.2" fill="#36e036" filter="url(#bl1)"/>
</g>
<rect x="263" y="188" width="83.0" height="84.2" fill="#030808"/>
<g clip-path="url(#ct3)">
<use href="#c1" transform="translate(282.8,199.5) rotate(340) scale(0.85)"/>
<use href="#c2" transform="translate(290.1,248.0) rotate(96) scale(0.85)"/>
<use href="#c3" transform="translate(313.2,205.3) rotate(152) scale(0.85)"/>
<use href="#c3" transform="translate(278.1,249.2) rotate(97) scale(0.85)"/>
<use href="#c3" transform="translate(297.4,215.8) rotate(93) scale(0.85)"/>
<use href="#c3" transform="translate(322.9,220.6) rotate(232) scale(0.85)"/>
<use href="#c2" transform="translate(328.4,213.4) rotate(328) scale(0.85)"/>
<use href="#c1" transform="translate(339.2,192.4) rotate(203) scale(0.85)"/>
<use href="#c3" transform="translate(288.2,207.7) rotate(73) scale(0.85)"/>
<use href="#c1" transform="translate(330.5,252.3) rotate(61) scale(0.85)"/>
<use href="#c3" transform="translate(279.3,267.6) rotate(184) scale(0.85)"/>
<use href="#c3" transform="translate(314.1,263.0) rotate(182) scale(0.85)"/>
<use href="#c2" transform="translate(317.2,217.5) rotate(85) scale(0.85)"/>
<use href="#c3" transform="translate(332.1,213.2) rotate(251) scale(0.85)"/>
<use href="#c2" transform="translate(326.6,207.6) rotate(305) scale(0.85)"/>
<use href="#c3" transform="translate(334.5,217.1) rotate(94) scale(0.85)"/>
<use href="#c1" transform="translate(313.0,216.2) rotate(65) scale(0.85)"/>
<use href="#c2" transform="translate(313.7,209.8) rotate(5) scale(0.85)"/>
<use href="#c2" transform="translate(339.8,209.7) rotate(349) scale(0.85)"/>
<use href="#c3" transform="translate(336.2,209.8) rotate(71) scale(0.85)"/>
<use href="#c2" transform="translate(339.9,215.7) rotate(236) scale(0.85)"/>
<use href="#c3" transform="translate(336.5,214.4) rotate(335) scale(0.85)"/>
<use href="#c2" transform="translate(327.9,214.6) rotate(239) scale(0.85)"/>
<use href="#c3" transform="translate(338.8,205.8) rotate(177) scale(0.85)"/>
<use href="#c1" transform="translate(345.7,213.5) rotate(264) scale(0.85)"/>
<use href="#c2" transform="translate(334.0,218.8) rotate(21) scale(0.85)"/>
<use href="#c2" transform="translate(341.9,213.6) rotate(91) scale(0.85)"/>
<use href="#c3" transform="translate(329.9,207.1) rotate(191) scale(0.85)"/>
<use href="#c3" transform="translate(280.4,221.4) rotate(21) scale(0.85)"/>
<use href="#c1" transform="translate(272.4,204.7) rotate(58) scale(0.85)"/>
<use href="#c1" transform="translate(277.3,225.8) rotate(311) scale(0.85)"/>
<use href="#c1" transform="translate(288.0,223.7) rotate(120) scale(0.85)"/>
<use href="#c3" transform="translate(277.4,209.7) rotate(62) scale(0.85)"/>
<use href="#c3" transform="translate(281.6,210.0) rotate(62) scale(0.85)"/>
<use href="#c3" transform="translate(279.8,244.3) rotate(190) scale(0.85)"/>
<use href="#c1" transform="translate(266.8,249.1) rotate(218) scale(0.85)"/>
<use href="#c3" transform="translate(272.1,240.2) rotate(344) scale(0.85)"/>
<use href="#c3" transform="translate(273.4,251.7) rotate(173) scale(0.85)"/>
<use href="#c1" transform="translate(275.6,249.6) rotate(216) scale(0.85)"/>
<use href="#c2" transform="translate(326.2,256.7) rotate(346) scale(0.85)"/>
<use href="#c2" transform="translate(332.2,264.1) rotate(295) scale(0.85)"/>
<use href="#c1" transform="translate(327.3,264.1) rotate(283) scale(0.85)"/>
<use href="#c3" transform="translate(324.8,258.5) rotate(53) scale(0.85)"/>
<use href="#c3" transform="translate(331.4,268.6) rotate(137) scale(0.85)"/>
<use href="#c2" transform="translate(306.8,260.0) rotate(161) scale(0.85)"/>
<use href="#c2" transform="translate(307.1,266.5) rotate(289) scale(0.85)"/>
<use href="#c3" transform="translate(307.3,261.4) rotate(123) scale(0.85)"/>
</g>
<clipPath id="ct3"><rect x="263" y="188" width="83.0" height="84.2"/></clipPath>
<rect x="267.5" y="202.5" width="27" height="25" fill="none" stroke="#c9b230" stroke-width="1"/>
<rect x="266" y="275" width="77.1" height="77.0" fill="#020705" stroke="#e8cf78" stroke-width="1"/>
<clipPath id="cb3"><rect x="266.5" y="275.5" width="76.1" height="76.0"/></clipPath>
<g clip-path="url(#cb3)">
<ellipse cx="292.8" cy="298.6" rx="7.3" ry="4.5" fill="#1c9c1c" opacity="0.3" filter="url(#bl2)" transform="rotate(-80,292.8,298.6)"/>
<ellipse cx="292.8" cy="295.9" rx="2.1" ry="2.9" fill="#36d036" opacity="0.85" filter="url(#bl1)" transform="rotate(-90,292.8,295.9)"/>
<ellipse cx="292.8" cy="301.4" rx="1.0" ry="1.7" fill="#2cc02c" opacity="0.55" filter="url(#bl1)" transform="rotate(-90,292.8,301.4)"/>
<ellipse cx="292.8" cy="298.6" rx="2.5" ry="2.8" fill="#2434e8" transform="rotate(0,292.8,298.6)" filter="url(#bl05)"/>
<ellipse cx="287.5" cy="309.0" rx="8.3" ry="5.1" fill="#1c9c1c" opacity="0.3" filter="url(#bl2)" transform="rotate(189,287.5,309.0)"/>
<ellipse cx="285.1" cy="309.0" rx="2.4" ry="3.4" fill="#36d036" opacity="0.85" filter="url(#bl1)" transform="rotate(180,285.1,309.0)"/>
<ellipse cx="290.0" cy="309.0" rx="1.1" ry="1.9" fill="#2cc02c" opacity="0.55" filter="url(#bl1)" transform="rotate(180,290.0,309.0)"/>
<ellipse cx="287.5" cy="309.0" rx="2.5" ry="3.2" fill="#2434e8" transform="rotate(0,287.5,309.0)" filter="url(#bl05)"/>
<ellipse cx="308.3" cy="305.6" rx="7.8" ry="4.8" fill="#1c9c1c" opacity="0.3" filter="url(#bl2)" transform="rotate(20,308.3,305.6)"/>
<ellipse cx="311.2" cy="305.6" rx="2.2" ry="3.2" fill="#36d036" opacity="0.85" filter="url(#bl1)" transform="rotate(0,311.2,305.6)"/>
<ellipse cx="305.3" cy="305.6" rx="1.0" ry="1.8" fill="#2cc02c" opacity="0.55" filter="url(#bl1)" transform="rotate(0,305.3,305.6)"/>
<ellipse cx="308.3" cy="305.6" rx="3.0" ry="2.5" fill="#2434e8" transform="rotate(0,308.3,305.6)" filter="url(#bl05)"/>
<ellipse cx="306.0" cy="319.5" rx="9.9" ry="6.1" fill="#1c9c1c" opacity="0.3" filter="url(#bl2)" transform="rotate(66,306.0,319.5)"/>
<ellipse cx="306.0" cy="322.5" rx="2.8" ry="4.0" fill="#36d036" opacity="0.85" filter="url(#bl1)" transform="rotate(90,306.0,322.5)"/>
<ellipse cx="306.0" cy="316.3" rx="1.3" ry="2.3" fill="#2cc02c" opacity="0.55" filter="url(#bl1)" transform="rotate(90,306.0,316.3)"/>
<ellipse cx="306.0" cy="319.5" rx="3.8" ry="3.2" fill="#2434e8" transform="rotate(0,306.0,319.5)" filter="url(#bl05)"/>
<ellipse cx="327.3" cy="317.1" rx="9.1" ry="5.6" fill="#1c9c1c" opacity="0.3" filter="url(#bl2)" transform="rotate(164,327.3,317.1)"/>
<ellipse cx="325.4" cy="319.5" rx="2.6" ry="3.7" fill="#36d036" opacity="0.85" filter="url(#bl1)" transform="rotate(135,325.4,319.5)"/>
<ellipse cx="329.3" cy="314.6" rx="1.2" ry="2.1" fill="#2cc02c" opacity="0.55" filter="url(#bl1)" transform="rotate(135,329.3,314.6)"/>
<ellipse cx="327.3" cy="317.1" rx="2.8" ry="3.5" fill="#2434e8" transform="rotate(20,327.3,317.1)" filter="url(#bl05)"/>
<ellipse cx="298.6" cy="329.9" rx="8.3" ry="5.1" fill="#1c9c1c" opacity="0.3" filter="url(#bl2)" transform="rotate(17,298.6,329.9)"/>
<ellipse cx="300.7" cy="331.6" rx="2.4" ry="3.4" fill="#36d036" opacity="0.85" filter="url(#bl1)" transform="rotate(45,300.7,331.6)"/>
<ellipse cx="296.3" cy="328.1" rx="1.1" ry="1.9" fill="#2cc02c" opacity="0.55" filter="url(#bl1)" transform="rotate(45,296.3,328.1)"/>
<ellipse cx="298.6" cy="329.9" rx="3.2" ry="2.5" fill="#2434e8" transform="rotate(0,298.6,329.9)" filter="url(#bl05)"/>
</g>
<rect x="349" y="188" width="78.0" height="84.2" fill="url(#tmg)"/>
<g clip-path="url(#ct4)">
<use href="#c2" transform="translate(423.4,254.8) rotate(227) scale(0.85)"/>
<use href="#c1" transform="translate(375.6,222.0) rotate(25) scale(0.85)"/>
<use href="#c3" transform="translate(405.5,211.4) rotate(327) scale(0.85)"/>
<use href="#c2" transform="translate(411.7,264.2) rotate(169) scale(0.85)"/>
<use href="#c1" transform="translate(354.1,252.0) rotate(119) scale(0.85)"/>
<use href="#c1" transform="translate(419.5,236.3) rotate(189) scale(0.85)"/>
<use href="#c1" transform="translate(361.2,231.4) rotate(282) scale(0.85)"/>
<use href="#c3" transform="translate(356.7,258.3) rotate(64) scale(0.85)"/>
<use href="#c1" transform="translate(384.7,222.9) rotate(335) scale(0.85)"/>
<use href="#c2" transform="translate(384.3,228.4) rotate(134) scale(0.85)"/>
<use href="#c3" transform="translate(371.5,239.8) rotate(191) scale(0.85)"/>
<use href="#c1" transform="translate(354.3,209.0) rotate(144) scale(0.85)"/>
<use href="#c1" transform="translate(419.1,252.4) rotate(325) scale(0.85)"/>
<use href="#c3" transform="translate(406.3,236.2) rotate(31) scale(0.85)"/>
<use href="#c3" transform="translate(368.3,210.7) rotate(144) scale(0.85)"/>
<use href="#c2" transform="translate(393.6,235.0) rotate(347) scale(0.85)"/>
<use href="#c1" transform="translate(402.3,238.8) rotate(69) scale(0.85)"/>
<use href="#c1" transform="translate(400.6,221.7) rotate(82) scale(0.85)"/>
<use href="#c3" transform="translate(409.2,220.5) rotate(7) scale(0.85)"/>
<use href="#c1" transform="translate(407.5,220.7) rotate(263) scale(0.85)"/>
<use href="#c2" transform="translate(397.3,235.8) rotate(120) scale(0.85)"/>
<use href="#c3" transform="translate(399.0,236.1) rotate(215) scale(0.85)"/>
<use href="#c1" transform="translate(400.5,225.9) rotate(71) scale(0.85)"/>
</g>
<clipPath id="ct4"><rect x="349" y="188" width="78.0" height="84.2"/></clipPath>
<rect x="387.5" y="214.5" width="28" height="26" fill="none" stroke="#c9b230" stroke-width="1"/>
<rect x="352.7" y="275" width="71.6" height="77.0" fill="url(#tmg2)" stroke="#e8cf78" stroke-width="1"/>
<clipPath id="cb4"><rect x="353.2" y="275.5" width="70.6" height="76.0"/></clipPath>
<g clip-path="url(#cb4)">
<ellipse cx="400.6" cy="298.5" rx="9.1" ry="5.6" fill="#1c9c1c" opacity="0.3" filter="url(#bl2)" transform="rotate(-74,400.6,298.5)"/>
<ellipse cx="400.0" cy="295.9" rx="2.6" ry="3.7" fill="#36d036" opacity="0.85" filter="url(#bl1)" transform="rotate(-100,400.0,295.9)"/>
<ellipse cx="401.2" cy="301.3" rx="1.2" ry="2.1" fill="#2cc02c" opacity="0.55" filter="url(#bl1)" transform="rotate(-100,401.2,301.3)"/>
<ellipse cx="400.6" cy="298.5" rx="3.5" ry="2.8" fill="#2434e8" transform="rotate(0,400.6,298.5)" filter="url(#bl05)"/>
<ellipse cx="387.0" cy="309.2" rx="8.3" ry="5.1" fill="#1c9c1c" opacity="0.3" filter="url(#bl2)" transform="rotate(-148,387.0,309.2)"/>
<ellipse cx="384.9" cy="307.7" rx="2.4" ry="3.4" fill="#36d036" opacity="0.85" filter="url(#bl1)" transform="rotate(-135,384.9,307.7)"/>
<ellipse cx="389.3" cy="310.8" rx="1.1" ry="1.9" fill="#2cc02c" opacity="0.55" filter="url(#bl1)" transform="rotate(-135,389.3,310.8)"/>
<ellipse cx="387.0" cy="309.2" rx="3.2" ry="2.2" fill="#2434e8" transform="rotate(0,387.0,309.2)" filter="url(#bl05)"/>
<ellipse cx="406.5" cy="314.7" rx="9.1" ry="5.6" fill="#1c9c1c" opacity="0.3" filter="url(#bl2)" transform="rotate(36,406.5,314.7)"/>
<ellipse cx="407.7" cy="317.6" rx="2.6" ry="3.7" fill="#36d036" opacity="0.85" filter="url(#bl1)" transform="rotate(60,407.7,317.6)"/>
<ellipse cx="405.2" cy="311.7" rx="1.2" ry="2.1" fill="#2cc02c" opacity="0.55" filter="url(#bl1)" transform="rotate(60,405.2,311.7)"/>
<ellipse cx="406.5" cy="314.7" rx="2.5" ry="3.5" fill="#2434e8" transform="rotate(30,406.5,314.7)" filter="url(#bl05)"/>
<ellipse cx="390.6" cy="322.3" rx="9.1" ry="5.6" fill="#1c9c1c" opacity="0.3" filter="url(#bl2)" transform="rotate(-25,390.6,322.3)"/>
<ellipse cx="393.5" cy="321.3" rx="2.6" ry="3.7" fill="#36d036" opacity="0.85" filter="url(#bl1)" transform="rotate(-30,393.5,321.3)"/>
<ellipse cx="387.6" cy="323.4" rx="1.2" ry="2.1" fill="#2cc02c" opacity="0.55" filter="url(#bl1)" transform="rotate(-30,387.6,323.4)"/>
<ellipse cx="390.6" cy="322.3" rx="3.5" ry="2.2" fill="#2434e8" transform="rotate(0,390.6,322.3)" filter="url(#bl05)"/>
<ellipse cx="376.1" cy="333.0" rx="8.3" ry="5.1" fill="#1c9c1c" opacity="0.3" filter="url(#bl2)" transform="rotate(-104,376.1,333.0)"/>
<ellipse cx="376.1" cy="330.9" rx="2.4" ry="3.4" fill="#36d036" opacity="0.85" filter="url(#bl1)" transform="rotate(-90,376.1,330.9)"/>
<ellipse cx="376.1" cy="335.2" rx="1.1" ry="1.9" fill="#2cc02c" opacity="0.55" filter="url(#bl1)" transform="rotate(-90,376.1,335.2)"/>
<ellipse cx="376.1" cy="333.0" rx="3.2" ry="2.2" fill="#2434e8" transform="rotate(0,376.1,333.0)" filter="url(#bl05)"/>
<ellipse cx="372.8" cy="340.8" rx="9.1" ry="5.6" fill="#1c9c1c" opacity="0.3" filter="url(#bl2)" transform="rotate(209,372.8,340.8)"/>
<ellipse cx="369.5" cy="340.8" rx="2.6" ry="3.7" fill="#36d036" opacity="0.85" filter="url(#bl1)" transform="rotate(180,369.5,340.8)"/>
<ellipse cx="376.3" cy="340.8" rx="1.2" ry="2.1" fill="#2cc02c" opacity="0.55" filter="url(#bl1)" transform="rotate(180,376.3,340.8)"/>
<ellipse cx="372.8" cy="340.8" rx="3.5" ry="2.8" fill="#2434e8" transform="rotate(0,372.8,340.8)" filter="url(#bl05)"/>
</g>
<rect x="430" y="188" width="83.0" height="84.2" fill="#030808"/>
<g clip-path="url(#ct5)">
<use href="#c3" transform="translate(505.7,245.5) rotate(177) scale(0.85)"/>
<use href="#c1" transform="translate(498.5,209.1) rotate(29) scale(0.85)"/>
<use href="#c1" transform="translate(470.3,220.5) rotate(27) scale(0.85)"/>
<use href="#c3" transform="translate(459.0,219.7) rotate(291) scale(0.85)"/>
<use href="#c3" transform="translate(469.7,242.8) rotate(309) scale(0.85)"/>
<use href="#c2" transform="translate(433.0,233.3) rotate(326) scale(0.85)"/>
<use href="#c2" transform="translate(441.4,268.6) rotate(138) scale(0.85)"/>
<use href="#c2" transform="translate(475.7,237.4) rotate(29) scale(0.85)"/>
<use href="#c3" transform="translate(456.5,247.0) rotate(112) scale(0.85)"/>
<use href="#c3" transform="translate(488.5,263.8) rotate(295) scale(0.85)"/>
<use href="#c2" transform="translate(478.0,211.2) rotate(21) scale(0.85)"/>
<use href="#c3" transform="translate(481.9,193.1) rotate(135) scale(0.85)"/>
<use href="#c2" transform="translate(491.3,214.2) rotate(193) scale(0.85)"/>
<use href="#c1" transform="translate(489.3,199.8) rotate(216) scale(0.85)"/>
<use href="#c1" transform="translate(479.4,202.9) rotate(62) scale(0.85)"/>
<use href="#c2" transform="translate(434.0,210.7) rotate(140) scale(0.85)"/>
<use href="#c1" transform="translate(499.7,220.9) rotate(41) scale(0.85)"/>
<use href="#c3" transform="translate(473.3,254.0) rotate(247) scale(0.85)"/>
<use href="#c1" transform="translate(510.2,210.3) rotate(26) scale(0.85)"/>
<use href="#c3" transform="translate(487.2,253.3) rotate(86) scale(0.85)"/>
<use href="#c1" transform="translate(495.3,217.5) rotate(333) scale(0.85)"/>
<use href="#c3" transform="translate(469.4,253.4) rotate(351) scale(0.85)"/>
<use href="#c3" transform="translate(451.3,228.9) rotate(143) scale(0.85)"/>
<use href="#c2" transform="translate(482.3,259.0) rotate(73) scale(0.85)"/>
<use href="#c1" transform="translate(450.7,243.7) rotate(6) scale(0.85)"/>
<use href="#c3" transform="translate(448.6,201.9) rotate(282) scale(0.85)"/>
<use href="#c3" transform="translate(469.6,242.2) rotate(177) scale(0.85)"/>
<use href="#c2" transform="translate(482.9,266.9) rotate(13) scale(0.85)"/>
<use href="#c3" transform="translate(444.3,232.6) rotate(247) scale(0.85)"/>
<use href="#c3" transform="translate(469.9,210.3) rotate(71) scale(0.85)"/>
<use href="#c1" transform="translate(505.3,200.8) rotate(305) scale(0.85)"/>
<use href="#c3" transform="translate(452.1,192.3) rotate(204) scale(0.85)"/>
<use href="#c1" transform="translate(483.1,243.1) rotate(264) scale(0.85)"/>
<use href="#c2" transform="translate(449.1,264.8) rotate(281) scale(0.85)"/>
<use href="#c3" transform="translate(482.4,205.6) rotate(280) scale(0.85)"/>
<use href="#c3" transform="translate(507.3,259.1) rotate(274) scale(0.85)"/>
<use href="#c1" transform="translate(456.4,260.1) rotate(35) scale(0.85)"/>
<use href="#c3" transform="translate(441.6,217.6) rotate(148) scale(0.85)"/>
<use href="#c3" transform="translate(464.9,267.5) rotate(143) scale(0.85)"/>
<use href="#c3" transform="translate(455.2,220.7) rotate(213) scale(0.85)"/>
<use href="#c2" transform="translate(447.8,256.4) rotate(194) scale(0.85)"/>
<use href="#c3" transform="translate(445.9,258.7) rotate(110) scale(0.85)"/>
<use href="#c1" transform="translate(458.6,234.2) rotate(15) scale(0.85)"/>
<use href="#c1" transform="translate(502.0,210.9) rotate(353) scale(0.85)"/>
<use href="#c2" transform="translate(473.8,241.3) rotate(110) scale(0.85)"/>
<use href="#c2" transform="translate(477.8,222.5) rotate(229) scale(0.85)"/>
<use href="#c2" transform="translate(483.3,214.9) rotate(305) scale(0.85)"/>
<use href="#c3" transform="translate(443.6,189.7) rotate(233) scale(0.85)"/>
<use href="#c3" transform="translate(480.1,236.2) rotate(126) scale(0.85)"/>
<use href="#c1" transform="translate(495.8,201.9) rotate(227) scale(0.85)"/>
<use href="#c1" transform="translate(485.5,226.3) rotate(216) scale(0.85)"/>
<use href="#c2" transform="translate(473.5,257.3) rotate(112) scale(0.85)"/>
<use href="#c2" transform="translate(473.0,224.8) rotate(95) scale(0.85)"/>
<use href="#c2" transform="translate(483.3,201.2) rotate(315) scale(0.85)"/>
<use href="#c1" transform="translate(501.7,231.5) rotate(3) scale(0.85)"/>
<use href="#c2" transform="translate(434.4,228.6) rotate(122) scale(0.85)"/>
<use href="#c3" transform="translate(460.7,234.4) rotate(6) scale(0.85)"/>
<use href="#c1" transform="translate(440.8,242.1) rotate(250) scale(0.85)"/>
<use href="#c2" transform="translate(449.5,238.1) rotate(292) scale(0.85)"/>
<use href="#c2" transform="translate(449.5,240.5) rotate(45) scale(0.85)"/>
<use href="#c2" transform="translate(436.2,241.6) rotate(37) scale(0.85)"/>
<use href="#c1" transform="translate(449.9,242.2) rotate(22) scale(0.85)"/>
<use href="#c1" transform="translate(444.2,234.5) rotate(263) scale(0.85)"/>
<use href="#c3" transform="translate(449.3,248.4) rotate(165) scale(0.85)"/>
<use href="#c2" transform="translate(491.9,220.0) rotate(216) scale(0.85)"/>
<use href="#c2" transform="translate(489.9,217.9) rotate(183) scale(0.85)"/>
<use href="#c3" transform="translate(485.5,216.0) rotate(161) scale(0.85)"/>
<use href="#c1" transform="translate(502.1,209.6) rotate(58) scale(0.85)"/>
</g>
<clipPath id="ct5"><rect x="430" y="188" width="83.0" height="84.2"/></clipPath>
<rect x="485.5" y="204.5" width="27" height="26" fill="none" stroke="#c9b230" stroke-width="1"/>
<rect x="432.1" y="275" width="79.2" height="77.0" fill="#020705" stroke="#e8cf78" stroke-width="1"/>
<clipPath id="cb5"><rect x="432.6" y="275.5" width="78.2" height="76.0"/></clipPath>
<g clip-path="url(#cb5)">
<ellipse cx="491.7" cy="281.3" rx="7.8" ry="4.8" fill="#1c9c1c" opacity="0.3" filter="url(#bl2)" transform="rotate(209,491.7,281.3)"/>
<ellipse cx="488.8" cy="281.3" rx="2.2" ry="3.2" fill="#36d036" opacity="0.85" filter="url(#bl1)" transform="rotate(180,488.8,281.3)"/>
<ellipse cx="494.7" cy="281.3" rx="1.0" ry="1.8" fill="#2cc02c" opacity="0.55" filter="url(#bl1)" transform="rotate(180,494.7,281.3)"/>
<ellipse cx="491.7" cy="281.3" rx="3.0" ry="2.2" fill="#2434e8" transform="rotate(0,491.7,281.3)" filter="url(#bl05)"/>
<ellipse cx="459.3" cy="299.3" rx="8.3" ry="5.1" fill="#1c9c1c" opacity="0.3" filter="url(#bl2)" transform="rotate(-38,459.3,299.3)"/>
<ellipse cx="461.9" cy="298.1" rx="2.4" ry="3.4" fill="#36d036" opacity="0.85" filter="url(#bl1)" transform="rotate(-30,461.9,298.1)"/>
<ellipse cx="456.5" cy="300.6" rx="1.1" ry="1.9" fill="#2cc02c" opacity="0.55" filter="url(#bl1)" transform="rotate(-30,456.5,300.6)"/>
<ellipse cx="459.3" cy="299.3" rx="3.2" ry="2.6" fill="#2434e8" transform="rotate(0,459.3,299.3)" filter="url(#bl05)"/>
<ellipse cx="462.7" cy="304.9" rx="8.3" ry="5.1" fill="#1c9c1c" opacity="0.3" filter="url(#bl2)" transform="rotate(176,462.7,304.9)"/>
<ellipse cx="459.7" cy="304.9" rx="2.4" ry="3.4" fill="#36d036" opacity="0.85" filter="url(#bl1)" transform="rotate(180,459.7,304.9)"/>
<ellipse cx="465.9" cy="304.9" rx="1.1" ry="1.9" fill="#2cc02c" opacity="0.55" filter="url(#bl1)" transform="rotate(180,465.9,304.9)"/>
<ellipse cx="462.7" cy="304.9" rx="3.2" ry="2.6" fill="#2434e8" transform="rotate(0,462.7,304.9)" filter="url(#bl05)"/>
<ellipse cx="488.6" cy="313.7" rx="7.8" ry="4.8" fill="#1c9c1c" opacity="0.3" filter="url(#bl2)" transform="rotate(167,488.6,313.7)"/>
<ellipse cx="485.8" cy="313.7" rx="2.2" ry="3.2" fill="#36d036" opacity="0.85" filter="url(#bl1)" transform="rotate(180,485.8,313.7)"/>
<ellipse cx="491.6" cy="313.7" rx="1.0" ry="1.8" fill="#2cc02c" opacity="0.55" filter="url(#bl1)" transform="rotate(180,491.6,313.7)"/>
<ellipse cx="488.6" cy="313.7" rx="3.0" ry="2.5" fill="#2434e8" transform="rotate(0,488.6,313.7)" filter="url(#bl05)"/>
<ellipse cx="481.2" cy="324.8" rx="6.5" ry="4.0" fill="#1c9c1c" opacity="0.3" filter="url(#bl2)" transform="rotate(37,481.2,324.8)"/>
<ellipse cx="482.9" cy="326.1" rx="1.9" ry="2.6" fill="#36d036" opacity="0.85" filter="url(#bl1)" transform="rotate(45,482.9,326.1)"/>
<ellipse cx="479.4" cy="323.4" rx="0.9" ry="1.5" fill="#2cc02c" opacity="0.55" filter="url(#bl1)" transform="rotate(45,479.4,323.4)"/>
<ellipse cx="481.2" cy="324.8" rx="2.5" ry="2.0" fill="#2434e8" transform="rotate(0,481.2,324.8)" filter="url(#bl05)"/>
<ellipse cx="439.1" cy="336.4" rx="7.8" ry="4.8" fill="#1c9c1c" opacity="0.3" filter="url(#bl2)" transform="rotate(-13,439.1,336.4)"/>
<ellipse cx="442.0" cy="336.4" rx="2.2" ry="3.2" fill="#36d036" opacity="0.85" filter="url(#bl1)" transform="rotate(0,442.0,336.4)"/>
<ellipse cx="436.1" cy="336.4" rx="1.0" ry="1.8" fill="#2cc02c" opacity="0.55" filter="url(#bl1)" transform="rotate(0,436.1,336.4)"/>
<ellipse cx="439.1" cy="336.4" rx="3.0" ry="2.5" fill="#2434e8" transform="rotate(0,439.1,336.4)" filter="url(#bl05)"/>
<ellipse cx="495.1" cy="350.7" rx="7.8" ry="4.8" fill="#1c9c1c" opacity="0.3" filter="url(#bl2)" transform="rotate(201,495.1,350.7)"/>
<ellipse cx="492.2" cy="350.7" rx="2.2" ry="3.2" fill="#36d036" opacity="0.85" filter="url(#bl1)" transform="rotate(180,492.2,350.7)"/>
<ellipse cx="498.1" cy="350.7" rx="1.0" ry="1.8" fill="#2cc02c" opacity="0.55" filter="url(#bl1)" transform="rotate(180,498.1,350.7)"/>
<ellipse cx="495.1" cy="350.7" rx="3.0" ry="2.0" fill="#2434e8" transform="rotate(0,495.1,350.7)" filter="url(#bl05)"/>
</g>
<rect x="517" y="188" width="82.0" height="84.2" fill="#030808"/>
<g clip-path="url(#ct6)">
<use href="#g" transform="translate(523.7,219.0) rotate(331) scale(0.85)"/>
<use href="#g" transform="translate(565.8,228.4) rotate(250) scale(0.85)"/>
<use href="#g" transform="translate(544.0,228.8) rotate(168) scale(0.85)"/>
<use href="#g" transform="translate(523.0,214.3) rotate(36) scale(0.85)"/>
<use href="#g" transform="translate(552.8,252.0) rotate(190) scale(0.85)"/>
<use href="#g" transform="translate(552.4,223.1) rotate(40) scale(0.85)"/>
<use href="#g" transform="translate(570.3,211.7) rotate(117) scale(0.85)"/>
<use href="#g" transform="translate(562.0,205.0) rotate(13) scale(0.85)"/>
<use href="#g" transform="translate(567.4,233.3) rotate(185) scale(0.85)"/>
<use href="#g" transform="translate(570.3,260.9) rotate(168) scale(0.85)"/>
<use href="#g" transform="translate(530.7,177.7) rotate(102) scale(0.85)"/>
<use href="#g" transform="translate(527.8,204.3) rotate(80) scale(0.85)"/>
<use href="#g" transform="translate(522.0,193.6) rotate(24) scale(0.85)"/>
<use href="#g" transform="translate(515.7,195.1) rotate(10) scale(0.85)"/>
<use href="#g" transform="translate(535.2,189.4) rotate(46) scale(0.85)"/>
<use href="#g" transform="translate(525.7,194.4) rotate(354) scale(0.85)"/>
<use href="#g" transform="translate(525.3,210.3) rotate(12) scale(0.85)"/>
<use href="#g" transform="translate(523.7,204.9) rotate(258) scale(0.85)"/>
<use href="#g" transform="translate(533.8,206.2) rotate(164) scale(0.85)"/>
<use href="#g" transform="translate(548.9,213.7) rotate(212) scale(0.85)"/>
<use href="#g" transform="translate(546.9,212.7) rotate(110) scale(0.85)"/>
<use href="#g" transform="translate(553.4,204.1) rotate(353) scale(0.85)"/>
<use href="#g" transform="translate(537.8,201.6) rotate(291) scale(0.85)"/>
<use href="#g" transform="translate(553.4,215.4) rotate(146) scale(0.85)"/>
<use href="#g" transform="translate(552.2,202.7) rotate(155) scale(0.85)"/>
<use href="#g" transform="translate(543.9,214.5) rotate(330) scale(0.85)"/>
<use href="#g" transform="translate(537.7,200.5) rotate(56) scale(0.85)"/>
<use href="#g" transform="translate(564.8,207.0) rotate(315) scale(0.85)"/>
<use href="#g" transform="translate(553.7,211.5) rotate(223) scale(0.85)"/>
<use href="#g" transform="translate(563.0,214.3) rotate(204) scale(0.85)"/>
<use href="#g" transform="translate(550.2,220.5) rotate(192) scale(0.85)"/>
<use href="#g" transform="translate(531.5,215.7) rotate(213) scale(0.85)"/>
<use href="#g" transform="translate(546.5,213.3) rotate(33) scale(0.85)"/>
<use href="#g" transform="translate(589.8,219.2) rotate(90) scale(0.85)"/>
<use href="#g" transform="translate(588.7,211.5) rotate(127) scale(0.85)"/>
<use href="#g" transform="translate(590.8,212.3) rotate(80) scale(0.85)"/>
<use href="#g" transform="translate(544.1,240.6) rotate(31) scale(0.85)"/>
<use href="#g" transform="translate(548.6,242.5) rotate(257) scale(0.85)"/>
<use href="#g" transform="translate(551.3,248.2) rotate(152) scale(0.85)"/>
<use href="#g" transform="translate(548.1,242.9) rotate(267) scale(0.85)"/>
<use href="#g" transform="translate(547.5,242.2) rotate(141) scale(0.85)"/>
<use href="#g" transform="translate(542.0,250.7) rotate(339) scale(0.85)"/>
<use href="#g" transform="translate(545.8,252.8) rotate(88) scale(0.85)"/>
<use href="#g" transform="translate(551.5,245.3) rotate(184) scale(0.85)"/>
<use href="#g" transform="translate(552.3,263.5) rotate(152) scale(0.85)"/>
<use href="#g" transform="translate(548.4,269.9) rotate(285) scale(0.85)"/>
<use href="#g" transform="translate(551.6,266.4) rotate(47) scale(0.85)"/>
<use href="#g" transform="translate(553.4,264.4) rotate(197) scale(0.85)"/>
<use href="#g" transform="translate(545.9,256.6) rotate(163) scale(0.85)"/>
<use href="#g" transform="translate(551.2,269.1) rotate(225) scale(0.85)"/>
<use href="#g" transform="translate(575.5,262.5) rotate(84) scale(0.85)"/>
<use href="#g" transform="translate(581.4,256.6) rotate(195) scale(0.85)"/>
<use href="#g" transform="translate(578.9,267.6) rotate(355) scale(0.85)"/>
<use href="#g" transform="translate(577.4,264.3) rotate(37) scale(0.85)"/>
<use href="#g" transform="translate(578.6,256.9) rotate(350) scale(0.85)"/>
<use href="#g" transform="translate(586.9,258.4) rotate(348) scale(0.85)"/>
</g>
<clipPath id="ct6"><rect x="517" y="188" width="82.0" height="84.2"/></clipPath>
<rect x="564.5" y="246.5" width="27" height="24" fill="none" stroke="#c9b230" stroke-width="1"/>
<rect x="518.9" y="275" width="78.9" height="77.0" fill="#020705" stroke="#e8cf78" stroke-width="1"/>
<clipPath id="cb6"><rect x="519.4" y="275.5" width="77.9" height="76.0"/></clipPath>
<g clip-path="url(#cb6)">
<ellipse cx="538.1" cy="302.1" rx="8.3" ry="5.1" fill="#1c9c1c" opacity="0.3" filter="url(#bl2)" transform="rotate(-93,538.1,302.1)"/>
<ellipse cx="538.1" cy="299.1" rx="2.4" ry="3.4" fill="#36d036" opacity="0.85" filter="url(#bl1)" transform="rotate(-90,538.1,299.1)"/>
<ellipse cx="538.1" cy="305.3" rx="1.1" ry="1.9" fill="#2cc02c" opacity="0.55" filter="url(#bl1)" transform="rotate(-90,538.1,305.3)"/>
<ellipse cx="538.1" cy="302.1" rx="3.0" ry="3.2" fill="#2434e8" transform="rotate(0,538.1,302.1)" filter="url(#bl05)"/>
<ellipse cx="549.7" cy="309.0" rx="8.3" ry="5.1" fill="#1c9c1c" opacity="0.3" filter="url(#bl2)" transform="rotate(-115,549.7,309.0)"/>
<ellipse cx="549.7" cy="306.3" rx="2.4" ry="3.4" fill="#36d036" opacity="0.85" filter="url(#bl1)" transform="rotate(-90,549.7,306.3)"/>
<ellipse cx="549.7" cy="311.8" rx="1.1" ry="1.9" fill="#2cc02c" opacity="0.55" filter="url(#bl1)" transform="rotate(-90,549.7,311.8)"/>
<ellipse cx="549.7" cy="309.0" rx="3.2" ry="2.8" fill="#2434e8" transform="rotate(0,549.7,309.0)" filter="url(#bl05)"/>
<ellipse cx="556.7" cy="312.5" rx="8.3" ry="5.1" fill="#1c9c1c" opacity="0.3" filter="url(#bl2)" transform="rotate(100,556.7,312.5)"/>
<ellipse cx="556.2" cy="314.8" rx="2.4" ry="3.4" fill="#36d036" opacity="0.85" filter="url(#bl1)" transform="rotate(100,556.2,314.8)"/>
<ellipse cx="557.3" cy="310.0" rx="1.1" ry="1.9" fill="#2cc02c" opacity="0.55" filter="url(#bl1)" transform="rotate(100,557.3,310.0)"/>
<ellipse cx="556.7" cy="312.5" rx="3.2" ry="2.5" fill="#2434e8" transform="rotate(0,556.7,312.5)" filter="url(#bl05)"/>
<ellipse cx="581.0" cy="317.1" rx="9.1" ry="5.6" fill="#1c9c1c" opacity="0.3" filter="url(#bl2)" transform="rotate(208,581.0,317.1)"/>
<ellipse cx="577.7" cy="317.1" rx="2.6" ry="3.7" fill="#36d036" opacity="0.85" filter="url(#bl1)" transform="rotate(180,577.7,317.1)"/>
<ellipse cx="584.5" cy="317.1" rx="1.2" ry="2.1" fill="#2cc02c" opacity="0.55" filter="url(#bl1)" transform="rotate(180,584.5,317.1)"/>
<ellipse cx="581.0" cy="317.1" rx="3.5" ry="2.5" fill="#2434e8" transform="rotate(0,581.0,317.1)" filter="url(#bl05)"/>
<ellipse cx="590.2" cy="310.9" rx="8.3" ry="5.1" fill="#1c9c1c" opacity="0.3" filter="url(#bl2)" transform="rotate(-120,590.2,310.9)"/>
<ellipse cx="590.2" cy="308.5" rx="2.4" ry="3.4" fill="#36d036" opacity="0.85" filter="url(#bl1)" transform="rotate(-90,590.2,308.5)"/>
<ellipse cx="590.2" cy="313.4" rx="1.1" ry="1.9" fill="#2cc02c" opacity="0.55" filter="url(#bl1)" transform="rotate(-90,590.2,313.4)"/>
<ellipse cx="590.2" cy="310.9" rx="3.2" ry="2.5" fill="#2434e8" transform="rotate(0,590.2,310.9)" filter="url(#bl05)"/>
<ellipse cx="526.6" cy="325.2" rx="9.1" ry="5.6" fill="#1c9c1c" opacity="0.3" filter="url(#bl2)" transform="rotate(195,526.6,325.2)"/>
<ellipse cx="523.3" cy="325.2" rx="2.6" ry="3.7" fill="#36d036" opacity="0.85" filter="url(#bl1)" transform="rotate(180,523.3,325.2)"/>
<ellipse cx="530.1" cy="325.2" rx="1.2" ry="2.1" fill="#2cc02c" opacity="0.55" filter="url(#bl1)" transform="rotate(180,530.1,325.2)"/>
<ellipse cx="526.6" cy="325.2" rx="3.5" ry="2.8" fill="#2434e8" transform="rotate(0,526.6,325.2)" filter="url(#bl05)"/>
<ellipse cx="526.6" cy="339.1" rx="7.8" ry="4.8" fill="#1c9c1c" opacity="0.3" filter="url(#bl2)" transform="rotate(17,526.6,339.1)"/>
<ellipse cx="529.5" cy="339.1" rx="2.2" ry="3.2" fill="#36d036" opacity="0.85" filter="url(#bl1)" transform="rotate(0,529.5,339.1)"/>
<ellipse cx="523.6" cy="339.1" rx="1.0" ry="1.8" fill="#2cc02c" opacity="0.55" filter="url(#bl1)" transform="rotate(0,523.6,339.1)"/>
<ellipse cx="526.6" cy="339.1" rx="3.0" ry="3.0" fill="#2434e8" transform="rotate(0,526.6,339.1)" filter="url(#bl05)"/>
</g>
<rect x="603" y="188" width="76.5" height="84.2" fill="#030808"/>
<g clip-path="url(#ct7)">
<use href="#c3" transform="translate(612.6,238.6) rotate(97) scale(0.85)"/>
<use href="#c1" transform="translate(615.1,197.2) rotate(309) scale(0.85)"/>
<use href="#c3" transform="translate(642.8,213.5) rotate(63) scale(0.85)"/>
<use href="#c1" transform="translate(653.1,232.3) rotate(352) scale(0.85)"/>
<use href="#c2" transform="translate(621.1,264.6) rotate(200) scale(0.85)"/>
<use href="#c2" transform="translate(604.5,254.9) rotate(147) scale(0.85)"/>
<use href="#c1" transform="translate(625.0,262.9) rotate(21) scale(0.85)"/>
<use href="#c1" transform="translate(649.2,226.7) rotate(169) scale(0.85)"/>
<use href="#c2" transform="translate(620.1,259.4) rotate(274) scale(0.85)"/>
<use href="#c1" transform="translate(667.9,268.0) rotate(330) scale(0.85)"/>
<use href="#c1" transform="translate(647.9,265.0) rotate(198) scale(0.85)"/>
<use href="#c3" transform="translate(670.7,243.8) rotate(103) scale(0.85)"/>
<use href="#c1" transform="translate(629.2,238.6) rotate(20) scale(0.85)"/>
<use href="#c2" transform="translate(629.6,255.9) rotate(37) scale(0.85)"/>
<use href="#c1" transform="translate(645.2,260.3) rotate(353) scale(0.85)"/>
<use href="#c2" transform="translate(670.4,251.0) rotate(72) scale(0.85)"/>
<use href="#c3" transform="translate(619.1,216.5) rotate(223) scale(0.85)"/>
<use href="#c1" transform="translate(610.4,216.5) rotate(203) scale(0.85)"/>
<use href="#c2" transform="translate(615.7,213.6) rotate(118) scale(0.85)"/>
<use href="#c2" transform="translate(663.2,198.8) rotate(295) scale(0.85)"/>
<use href="#c1" transform="translate(672.4,264.8) rotate(8) scale(0.85)"/>
<use href="#c1" transform="translate(661.5,208.6) rotate(23) scale(0.85)"/>
<use href="#c2" transform="translate(625.6,226.6) rotate(19) scale(0.85)"/>
<use href="#c3" transform="translate(650.1,265.1) rotate(105) scale(0.85)"/>
<use href="#c1" transform="translate(605.5,196.1) rotate(349) scale(0.85)"/>
<use href="#c3" transform="translate(665.3,190.8) rotate(153) scale(0.85)"/>
<use href="#c2" transform="translate(670.6,204.3) rotate(56) scale(0.85)"/>
<use href="#c3" transform="translate(676.7,227.7) rotate(65) scale(0.85)"/>
<use href="#c1" transform="translate(649.1,256.8) rotate(169) scale(0.85)"/>
<use href="#c2" transform="translate(665.3,223.1) rotate(271) scale(0.85)"/>
<use href="#c2" transform="translate(615.5,233.2) rotate(182) scale(0.85)"/>
<use href="#c3" transform="translate(623.8,235.3) rotate(113) scale(0.85)"/>
<use href="#c3" transform="translate(631.1,223.5) rotate(45) scale(0.85)"/>
<use href="#c2" transform="translate(626.2,226.9) rotate(225) scale(0.85)"/>
<use href="#c2" transform="translate(622.7,233.0) rotate(226) scale(0.85)"/>
<use href="#c1" transform="translate(624.8,229.6) rotate(245) scale(0.85)"/>
<use href="#c1" transform="translate(624.4,232.0) rotate(348) scale(0.85)"/>
<use href="#c1" transform="translate(608.1,235.4) rotate(80) scale(0.85)"/>
<use href="#c2" transform="translate(627.4,232.6) rotate(261) scale(0.85)"/>
</g>
<clipPath id="ct7"><rect x="603" y="188" width="76.5" height="84.2"/></clipPath>
<rect x="610.5" y="218.5" width="28" height="25" fill="none" stroke="#c9b230" stroke-width="1"/>
<rect x="602.8" y="275" width="78.2" height="77.0" fill="#020705" stroke="#e8cf78" stroke-width="1"/>
<clipPath id="cb7"><rect x="603.3" y="275.5" width="77.2" height="76.0"/></clipPath>
<g clip-path="url(#cb7)">
<ellipse cx="628.1" cy="280.8" rx="8.3" ry="5.1" fill="#1c9c1c" opacity="0.3" filter="url(#bl2)" transform="rotate(68,628.1,280.8)"/>
<ellipse cx="628.1" cy="283.3" rx="2.4" ry="3.4" fill="#36d036" opacity="0.85" filter="url(#bl1)" transform="rotate(90,628.1,283.3)"/>
<ellipse cx="628.1" cy="278.2" rx="1.1" ry="1.9" fill="#2cc02c" opacity="0.55" filter="url(#bl1)" transform="rotate(90,628.1,278.2)"/>
<ellipse cx="628.1" cy="280.8" rx="3.2" ry="2.6" fill="#2434e8" transform="rotate(0,628.1,280.8)" filter="url(#bl05)"/>
<ellipse cx="606.8" cy="296.3" rx="7.8" ry="4.8" fill="#1c9c1c" opacity="0.3" filter="url(#bl2)" transform="rotate(154,606.8,296.3)"/>
<ellipse cx="603.9" cy="296.3" rx="2.2" ry="3.2" fill="#36d036" opacity="0.85" filter="url(#bl1)" transform="rotate(180,603.9,296.3)"/>
<ellipse cx="609.8" cy="296.3" rx="1.0" ry="1.8" fill="#2cc02c" opacity="0.55" filter="url(#bl1)" transform="rotate(180,609.8,296.3)"/>
<ellipse cx="606.8" cy="296.3" rx="3.0" ry="3.0" fill="#2434e8" transform="rotate(0,606.8,296.3)" filter="url(#bl05)"/>
<ellipse cx="662.8" cy="304.9" rx="9.1" ry="5.6" fill="#1c9c1c" opacity="0.3" filter="url(#bl2)" transform="rotate(3,662.8,304.9)"/>
<ellipse cx="666.1" cy="304.9" rx="2.6" ry="3.7" fill="#36d036" opacity="0.85" filter="url(#bl1)" transform="rotate(0,666.1,304.9)"/>
<ellipse cx="659.3" cy="304.9" rx="1.2" ry="2.1" fill="#2cc02c" opacity="0.55" filter="url(#bl1)" transform="rotate(0,659.3,304.9)"/>
<ellipse cx="662.8" cy="304.9" rx="3.5" ry="2.5" fill="#2434e8" transform="rotate(-20,662.8,304.9)" filter="url(#bl05)"/>
<ellipse cx="648.5" cy="310.2" rx="8.3" ry="5.1" fill="#1c9c1c" opacity="0.3" filter="url(#bl2)" transform="rotate(207,648.5,310.2)"/>
<ellipse cx="645.5" cy="310.2" rx="2.4" ry="3.4" fill="#36d036" opacity="0.85" filter="url(#bl1)" transform="rotate(180,645.5,310.2)"/>
<ellipse cx="651.7" cy="310.2" rx="1.1" ry="1.9" fill="#2cc02c" opacity="0.55" filter="url(#bl1)" transform="rotate(180,651.7,310.2)"/>
<ellipse cx="648.5" cy="310.2" rx="3.2" ry="3.0" fill="#2434e8" transform="rotate(0,648.5,310.2)" filter="url(#bl05)"/>
<ellipse cx="609.6" cy="313.2" rx="9.1" ry="5.6" fill="#1c9c1c" opacity="0.3" filter="url(#bl2)" transform="rotate(-14,609.6,313.2)"/>
<ellipse cx="612.5" cy="313.2" rx="2.6" ry="3.7" fill="#36d036" opacity="0.85" filter="url(#bl1)" transform="rotate(0,612.5,313.2)"/>
<ellipse cx="606.6" cy="313.2" rx="1.2" ry="2.1" fill="#2cc02c" opacity="0.55" filter="url(#bl1)" transform="rotate(0,606.6,313.2)"/>
<ellipse cx="609.6" cy="313.2" rx="3.0" ry="3.5" fill="#2434e8" transform="rotate(0,609.6,313.2)" filter="url(#bl05)"/>
<ellipse cx="657.0" cy="320.6" rx="10.9" ry="6.7" fill="#1c9c1c" opacity="0.3" filter="url(#bl2)" transform="rotate(175,657.0,320.6)"/>
<ellipse cx="657.0" cy="320.6" rx="5.3" ry="5.6" fill="none" stroke="#34d834" stroke-width="1.6" filter="url(#bl1)"/>
<ellipse cx="657.0" cy="320.6" rx="4.0" ry="4.2" fill="#2434e8" transform="rotate(0,657.0,320.6)" filter="url(#bl05)"/>
<ellipse cx="631.6" cy="321.1" rx="7.3" ry="4.5" fill="#1c9c1c" opacity="0.3" filter="url(#bl2)" transform="rotate(206,631.6,321.1)"/>
<ellipse cx="628.9" cy="321.1" rx="2.1" ry="2.9" fill="#36d036" opacity="0.85" filter="url(#bl1)" transform="rotate(180,628.9,321.1)"/>
<ellipse cx="634.4" cy="321.1" rx="1.0" ry="1.7" fill="#2cc02c" opacity="0.55" filter="url(#bl1)" transform="rotate(180,634.4,321.1)"/>
<ellipse cx="631.6" cy="321.1" rx="2.8" ry="2.8" fill="#2434e8" transform="rotate(0,631.6,321.1)" filter="url(#bl05)"/>
<ellipse cx="637.4" cy="321.1" rx="7.3" ry="4.5" fill="#1c9c1c" opacity="0.3" filter="url(#bl2)" transform="rotate(65,637.4,321.1)"/>
<ellipse cx="637.4" cy="323.8" rx="2.1" ry="2.9" fill="#36d036" opacity="0.85" filter="url(#bl1)" transform="rotate(90,637.4,323.8)"/>
<ellipse cx="637.4" cy="318.3" rx="1.0" ry="1.7" fill="#2cc02c" opacity="0.55" filter="url(#bl1)" transform="rotate(90,637.4,318.3)"/>
<ellipse cx="637.4" cy="321.1" rx="2.8" ry="2.8" fill="#2434e8" transform="rotate(0,637.4,321.1)" filter="url(#bl05)"/>
<ellipse cx="658.2" cy="335.7" rx="9.1" ry="5.6" fill="#1c9c1c" opacity="0.3" filter="url(#bl2)" transform="rotate(68,658.2,335.7)"/>
<ellipse cx="658.2" cy="338.6" rx="2.6" ry="3.7" fill="#36d036" opacity="0.85" filter="url(#bl1)" transform="rotate(90,658.2,338.6)"/>
<ellipse cx="658.2" cy="332.7" rx="1.2" ry="2.1" fill="#2cc02c" opacity="0.55" filter="url(#bl1)" transform="rotate(90,658.2,332.7)"/>
<ellipse cx="658.2" cy="335.7" rx="3.5" ry="3.0" fill="#2434e8" transform="rotate(0,658.2,335.7)" filter="url(#bl05)"/>
<ellipse cx="622.3" cy="346.5" rx="8.3" ry="5.1" fill="#1c9c1c" opacity="0.3" filter="url(#bl2)" transform="rotate(207,622.3,346.5)"/>
<ellipse cx="619.3" cy="346.5" rx="2.4" ry="3.4" fill="#36d036" opacity="0.85" filter="url(#bl1)" transform="rotate(180,619.3,346.5)"/>
<ellipse cx="625.5" cy="346.5" rx="1.1" ry="1.9" fill="#2cc02c" opacity="0.55" filter="url(#bl1)" transform="rotate(180,625.5,346.5)"/>
<ellipse cx="622.3" cy="346.5" rx="3.2" ry="2.6" fill="#2434e8" transform="rotate(0,622.3,346.5)" filter="url(#bl05)"/>
<ellipse cx="632.3" cy="345.6" rx="7.8" ry="4.8" fill="#1c9c1c" opacity="0.3" filter="url(#bl2)" transform="rotate(118,632.3,345.6)"/>
<ellipse cx="632.3" cy="348.5" rx="2.2" ry="3.2" fill="#36d036" opacity="0.85" filter="url(#bl1)" transform="rotate(90,632.3,348.5)"/>
<ellipse cx="632.3" cy="342.6" rx="1.0" ry="1.8" fill="#2cc02c" opacity="0.55" filter="url(#bl1)" transform="rotate(90,632.3,342.6)"/>
<ellipse cx="632.3" cy="345.6" rx="2.6" ry="3.0" fill="#2434e8" transform="rotate(0,632.3,345.6)" filter="url(#bl05)"/>
<ellipse cx="611.9" cy="338.0" rx="3.1" ry="1.9" fill="#1c9c1c" opacity="0.3" filter="url(#bl2)" transform="rotate(12,611.9,338.0)"/>
<ellipse cx="611.9" cy="338.0" rx="1.2" ry="1.2" fill="#2434e8" transform="rotate(0,611.9,338.0)" filter="url(#bl05)"/>
</g>
<text x="34.6" y="202" font-size="9.6" fill="#f4f4f4">Non-Target</text>
<text x="123.1" y="201.6" font-size="9.6" fill="#f4f4f4">NDUFS5</text>
<text x="207.2" y="202" font-size="9.6" fill="#f4f4f4">NDUFAF7</text>
<text x="297.9" y="201.4" font-size="9.6" fill="#f4f4f4">MRPS18C</text>
<text x="387.8" y="202.2" font-size="9.6" fill="#f4f4f4">TIMM8A</text>
<text x="468.5" y="202.6" font-size="9.6" fill="#f4f4f4">NDUFAF4</text>
<text x="556.9" y="202.6" font-size="9.6" fill="#f4f4f4">TMEM11</text>
<text x="646.1" y="202.6" font-size="9.6" fill="#f4f4f4">MFN2</text>
<text x="646.8" y="214.2" font-size="9.6" fill="#f4f4f4">gRNA</text>
<text x="76.6" y="334.9" font-size="8.95" fill="#3f74d4" text-anchor="end">Hoechst</text>
<text x="76.4" y="345.2" font-size="8.95" fill="#3cc040" text-anchor="end">MitoTracker</text>
<text x="650.6" y="286.6" font-size="6.9" fill="#f0f0f0" textLength="21.6" lengthAdjust="spacingAndGlyphs">100 µm</text>
<rect x="644.2" y="290.2" width="34.4" height="2.4" fill="#fff"/>
<text x="6" y="17" font-size="16" font-weight="bold">a.</text>
<text x="37.6" y="152.9" font-size="7" text-anchor="end" fill="#222" stroke="#222" stroke-width="0.12">0</text>
<text x="37.6" y="133.9" font-size="7" text-anchor="end" fill="#222" stroke="#222" stroke-width="0.12">0.1</text>
<text x="37.6" y="114.9" font-size="7" text-anchor="end" fill="#222" stroke="#222" stroke-width="0.12">0.2</text>
<text x="37.6" y="95.9" font-size="7" text-anchor="end" fill="#222" stroke="#222" stroke-width="0.12">0.3</text>
<text x="37.6" y="76.9" font-size="7" text-anchor="end" fill="#222" stroke="#222" stroke-width="0.12">0.4</text>
<text x="37.6" y="57.9" font-size="7" text-anchor="end" fill="#222" stroke="#222" stroke-width="0.12">0.5</text>
<text x="37.6" y="38.9" font-size="7" text-anchor="end" fill="#222" stroke="#222" stroke-width="0.12">0.6</text>
<text x="37.6" y="19.9" font-size="7" text-anchor="end" fill="#222" stroke="#222" stroke-width="0.12">0.7</text>
<text transform="translate(21.0,113.6) rotate(-90)" font-size="9.8" fill="#111">Mito Path Score<tspan font-size="5.8" dy="2">P</tspan></text>
<rect x="42.50" y="118.3" width="6.00" height="30.9" fill="#f0f0f0" stroke="#8c8c8c" stroke-width="0.8"/>
<text transform="translate(47.70,153) rotate(-90)" font-size="6.3" text-anchor="end" fill="#111" class="t">SLC8B1</text>
<rect x="50.98" y="113.9" width="6.00" height="35.3" fill="#f0f0f0" stroke="#8c8c8c" stroke-width="0.8"/>
<text transform="translate(56.18,153) rotate(-90)" font-size="6.3" text-anchor="end" fill="#111" class="t">METTL17</text>
<rect x="59.46" y="112.4" width="6.00" height="36.8" fill="#f0f0f0" stroke="#8c8c8c" stroke-width="0.8"/>
<text transform="translate(64.66,153) rotate(-90)" font-size="6.3" text-anchor="end" fill="#111" class="t">PCBD2</text>
<rect x="67.94" y="112.9" width="6.00" height="36.3" fill="#3ec23e" stroke="#2e9a2e" stroke-width="0.8"/>
<text transform="translate(73.14,153) rotate(-90)" font-size="6.3" text-anchor="end" fill="#111" class="t">NT</text>
<rect x="76.42" y="111.5" width="6.00" height="37.7" fill="#f0f0f0" stroke="#8c8c8c" stroke-width="0.8"/>
<text transform="translate(81.62,153) rotate(-90)" font-size="6.3" text-anchor="end" fill="#111" class="t">AIP</text>
<rect x="84.90" y="110.5" width="6.00" height="38.7" fill="#f0f0f0" stroke="#8c8c8c" stroke-width="0.8"/>
<text transform="translate(90.10,153) rotate(-90)" font-size="6.3" text-anchor="end" fill="#111" class="t">DNAJC28</text>
<rect x="93.38" y="110.4" width="6.00" height="38.8" fill="#f0f0f0" stroke="#8c8c8c" stroke-width="0.8"/>
<text transform="translate(98.58,153) rotate(-90)" font-size="6.3" text-anchor="end" fill="#111" class="t">CRY1</text>
<rect x="101.86" y="109.5" width="6.00" height="39.7" fill="#f0f0f0" stroke="#8c8c8c" stroke-width="0.8"/>
<text transform="translate(107.06,153) rotate(-90)" font-size="6.3" text-anchor="end" fill="#111" class="t">MRPL45</text>
<rect x="110.34" y="109.5" width="6.00" height="39.7" fill="#f0f0f0" stroke="#8c8c8c" stroke-width="0.8"/>
<text transform="translate(115.54,153) rotate(-90)" font-size="6.3" text-anchor="end" fill="#111" class="t">FAM185A</text>
<rect x="118.82" y="109.5" width="6.00" height="39.7" fill="#b4c9e8" stroke="#98a8c4" stroke-width="0.8"/>
<text transform="translate(124.02,153) rotate(-90)" font-size="6.3" text-anchor="end" fill="#111" class="t">RNF144B</text>
<rect x="127.30" y="109.5" width="6.00" height="39.7" fill="#f0f0f0" stroke="#8c8c8c" stroke-width="0.8"/>
<text transform="translate(132.50,153) rotate(-90)" font-size="6.3" text-anchor="end" fill="#111" class="t">DMPK</text>
<rect x="135.78" y="108.5" width="6.00" height="40.7" fill="#b4c9e8" stroke="#98a8c4" stroke-width="0.8"/>
<text transform="translate(140.98,153) rotate(-90)" font-size="6.3" text-anchor="end" fill="#111" class="t">ATP5G3</text>
<rect x="144.26" y="108.5" width="6.00" height="40.7" fill="#f0f0f0" stroke="#8c8c8c" stroke-width="0.8"/>
<text transform="translate(149.46,153) rotate(-90)" font-size="6.3" text-anchor="end" fill="#111" class="t">NMNAT3</text>
<rect x="152.74" y="107.5" width="6.00" height="41.7" fill="#f0f0f0" stroke="#8c8c8c" stroke-width="0.8"/>
<text transform="translate(157.94,153) rotate(-90)" font-size="6.3" text-anchor="end" fill="#111" class="t">BRI3BP</text>
<rect x="161.22" y="106.8" width="6.00" height="42.4" fill="#f0f0f0" stroke="#8c8c8c" stroke-width="0.8"/>
<text transform="translate(166.42,153) rotate(-90)" font-size="6.3" text-anchor="end" fill="#111" class="t">APOPT1</text>
<rect x="169.70" y="106.8" width="6.00" height="42.4" fill="#f0f0f0" stroke="#8c8c8c" stroke-width="0.8"/>
<text transform="translate(174.90,153) rotate(-90)" font-size="6.3" text-anchor="end" fill="#111" class="t">ASAH2</text>
<rect x="178.18" y="106.8" width="6.00" height="42.4" fill="#f0f0f0" stroke="#8c8c8c" stroke-width="0.8"/>
<text transform="translate(183.38,153) rotate(-90)" font-size="6.3" text-anchor="end" fill="#111" class="t">OGDHL</text>
<rect x="186.66" y="106.8" width="6.00" height="42.4" fill="#f0f0f0" stroke="#8c8c8c" stroke-width="0.8"/>
<text transform="translate(191.86,153) rotate(-90)" font-size="6.3" text-anchor="end" fill="#111" class="t">SLC25A51</text>
<rect x="195.14" y="106.6" width="6.00" height="42.6" fill="#f0f0f0" stroke="#8c8c8c" stroke-width="0.8"/>
<text transform="translate(200.34,153) rotate(-90)" font-size="6.3" text-anchor="end" fill="#111" class="t">KARS</text>
<rect x="203.62" y="105.9" width="6.00" height="43.3" fill="#b4c9e8" stroke="#98a8c4" stroke-width="0.8"/>
<text transform="translate(208.82,153) rotate(-90)" font-size="6.3" text-anchor="end" fill="#111" class="t">PRSS35</text>
<rect x="212.10" y="105.4" width="6.00" height="43.8" fill="#f0f0f0" stroke="#8c8c8c" stroke-width="0.8"/>
<text transform="translate(217.30,153) rotate(-90)" font-size="6.3" text-anchor="end" fill="#111" class="t">STARD3</text>
<rect x="220.58" y="104.0" width="6.00" height="45.2" fill="#f0f0f0" stroke="#8c8c8c" stroke-width="0.8"/>
<text transform="translate(225.78,153) rotate(-90)" font-size="6.3" text-anchor="end" fill="#111" class="t">AIFM1</text>
<rect x="229.06" y="103.3" width="6.00" height="45.9" fill="#f0f0f0" stroke="#8c8c8c" stroke-width="0.8"/>
<text transform="translate(234.26,153) rotate(-90)" font-size="6.3" text-anchor="end" fill="#111" class="t">TMEM126B</text>
<rect x="237.54" y="103.3" width="6.00" height="45.9" fill="#f0f0f0" stroke="#8c8c8c" stroke-width="0.8"/>
<text transform="translate(242.74,153) rotate(-90)" font-size="6.3" text-anchor="end" fill="#111" class="t">FASTKD5</text>
<rect x="246.02" y="102.5" width="6.00" height="46.7" fill="#f0f0f0" stroke="#8c8c8c" stroke-width="0.8"/>
<text transform="translate(251.22,153) rotate(-90)" font-size="6.3" text-anchor="end" fill="#111" class="t">PDK3</text>
<rect x="254.50" y="100.7" width="6.00" height="48.5" fill="#c3c3c3" stroke="#8c8c8c" stroke-width="0.8"/>
<text transform="translate(259.70,153) rotate(-90)" font-size="6.3" text-anchor="end" fill="#111" class="t">RARS2</text>
<rect x="262.98" y="98.6" width="6.00" height="50.6" fill="#e98b6c" stroke="#b06a50" stroke-width="0.8"/>
<text transform="translate(268.18,153) rotate(-90)" font-size="6.3" text-anchor="end" fill="#111" class="t">NDUFS5</text>
<rect x="271.46" y="96.8" width="6.00" height="52.4" fill="#e98b6c" stroke="#b06a50" stroke-width="0.8"/>
<text transform="translate(276.66,153) rotate(-90)" font-size="6.3" text-anchor="end" fill="#111" class="t">NDUFAF7</text>
<rect x="279.94" y="94.7" width="6.00" height="54.5" fill="#c3c3c3" stroke="#8c8c8c" stroke-width="0.8"/>
<text transform="translate(285.14,153) rotate(-90)" font-size="6.3" text-anchor="end" fill="#111" class="t">MRPS18C</text>
<rect x="288.42" y="92.6" width="6.00" height="56.6" fill="#c3c3c3" stroke="#8c8c8c" stroke-width="0.8"/>
<text transform="translate(293.62,153) rotate(-90)" font-size="6.3" text-anchor="end" fill="#111" class="t">TIMM8A</text>
<rect x="296.90" y="90.2" width="6.00" height="59.0" fill="#e98b6c" stroke="#b06a50" stroke-width="0.8"/>
<text transform="translate(302.10,153) rotate(-90)" font-size="6.3" text-anchor="end" fill="#111" class="t">NDUFAF4</text>
<rect x="305.38" y="57.0" width="6.00" height="92.2" fill="#c3c3c3" stroke="#8c8c8c" stroke-width="0.8"/>
<text transform="translate(310.58,153) rotate(-90)" font-size="6.3" text-anchor="end" fill="#111" class="t">TMEM11</text>
<rect x="313.86" y="29.4" width="6.00" height="119.8" fill="#f2261a" stroke="#d02010" stroke-width="0.8"/>
<text transform="translate(319.06,153) rotate(-90)" font-size="6.3" text-anchor="end" fill="#111" class="t">MFN2 gRNA</text>
<line x1="70.94" y1="109" x2="70.94" y2="121" stroke="#6a6a6a" stroke-width="1.2" stroke-dasharray="1.1 0.5"/>
<line x1="138.78" y1="99.7" x2="138.78" y2="108.6" stroke="#6a6a6a" stroke-width="1.2" stroke-dasharray="1.1 0.5"/>
<line x1="257.50" y1="88" x2="257.50" y2="93" stroke="#6a6a6a" stroke-width="1.2" stroke-dasharray="1.1 0.5"/>
<line x1="291.42" y1="86.5" x2="291.42" y2="91.5" stroke="#6a6a6a" stroke-width="1.2" stroke-dasharray="1.1 0.5"/>
<line x1="316.86" y1="18.8" x2="316.86" y2="27.6" stroke="#6a6a6a" stroke-width="1.2" stroke-dasharray="1.1 0.5"/>
<line x1="282.94" y1="93.5" x2="282.94" y2="100" stroke="#6a6a6a" stroke-width="1.2" stroke-dasharray="1.1 0.5"/>
<rect x="44.70" y="110.7" width="1.6" height="1.6" fill="#5a5a5a"/>
<rect x="44.70" y="112.4" width="1.6" height="1.6" fill="#5a5a5a"/>
<rect x="44.70" y="122.0" width="1.6" height="1.6" fill="#5a5a5a"/>
<rect x="53.18" y="110.7" width="1.6" height="1.6" fill="#5a5a5a"/>
<rect x="53.18" y="112.7" width="1.6" height="1.6" fill="#5a5a5a"/>
<rect x="53.18" y="114.7" width="1.6" height="1.6" fill="#5a5a5a"/>
<rect x="61.66" y="108.8" width="1.6" height="1.6" fill="#5a5a5a"/>
<rect x="61.66" y="110.4" width="1.6" height="1.6" fill="#5a5a5a"/>
<rect x="61.66" y="113.8" width="1.6" height="1.6" fill="#5a5a5a"/>
<rect x="70.14" y="87.6" width="1.6" height="1.6" fill="#5a5a5a"/>
<rect x="70.14" y="102.0" width="1.6" height="1.6" fill="#5a5a5a"/>
<rect x="70.14" y="106.2" width="1.6" height="1.6" fill="#5a5a5a"/>
<rect x="70.14" y="107.3" width="1.6" height="1.6" fill="#5a5a5a"/>
<rect x="70.14" y="109.0" width="1.6" height="1.6" fill="#5a5a5a"/>
<path d="M78.32 101.7h2.2M79.42 100.6v2.2" stroke="#555" stroke-width="0.7"/>
<rect x="78.62" y="108.1" width="1.6" height="1.6" fill="#5a5a5a"/>
<path d="M78.32 114.6h2.2M79.42 113.5v2.2" stroke="#555" stroke-width="0.7"/>
<rect x="78.62" y="120.9" width="1.6" height="1.6" fill="#5a5a5a"/>
<rect x="87.10" y="106.2" width="1.6" height="1.6" fill="#5a5a5a"/>
<rect x="87.10" y="109.9" width="1.6" height="1.6" fill="#5a5a5a"/>
<rect x="87.10" y="111.3" width="1.6" height="1.6" fill="#5a5a5a"/>
<rect x="87.10" y="113.3" width="1.6" height="1.6" fill="#5a5a5a"/>
<path d="M95.28 102.2h2.2M96.38 101.1v2.2" stroke="#555" stroke-width="0.7"/>
<rect x="95.58" y="107.1" width="1.6" height="1.6" fill="#5a5a5a"/>
<rect x="95.58" y="113.0" width="1.6" height="1.6" fill="#5a5a5a"/>
<rect x="95.58" y="117.2" width="1.6" height="1.6" fill="#5a5a5a"/>
<rect x="104.06" y="105.9" width="1.6" height="1.6" fill="#5a5a5a"/>
<rect x="104.06" y="107.3" width="1.6" height="1.6" fill="#5a5a5a"/>
<rect x="104.06" y="109.2" width="1.6" height="1.6" fill="#5a5a5a"/>
<rect x="104.06" y="110.7" width="1.6" height="1.6" fill="#5a5a5a"/>
<path d="M112.24 97.2h2.2M113.34 96.1v2.2" stroke="#555" stroke-width="0.7"/>
<rect x="112.54" y="104.0" width="1.6" height="1.6" fill="#5a5a5a"/>
<rect x="112.54" y="105.2" width="1.6" height="1.6" fill="#5a5a5a"/>
<rect x="112.54" y="106.5" width="1.6" height="1.6" fill="#5a5a5a"/>
<rect x="112.54" y="112.9" width="1.6" height="1.6" fill="#5a5a5a"/>
<path d="M112.24 116.2h2.2M113.34 115.1v2.2" stroke="#555" stroke-width="0.7"/>
<path d="M112.24 120.0h2.2M113.34 118.9v2.2" stroke="#555" stroke-width="0.7"/>
<rect x="121.02" y="99.8" width="1.6" height="1.6" fill="#5a5a5a"/>
<rect x="121.02" y="107.8" width="1.6" height="1.6" fill="#5a5a5a"/>
<rect x="121.02" y="111.6" width="1.6" height="1.6" fill="#5a5a5a"/>
<rect x="121.02" y="114.1" width="1.6" height="1.6" fill="#5a5a5a"/>
<path d="M129.20 93.0h2.2M130.30 91.9v2.2" stroke="#555" stroke-width="0.7"/>
<path d="M129.20 105.2h2.2M130.30 104.1v2.2" stroke="#555" stroke-width="0.7"/>
<rect x="129.50" y="116.0" width="1.6" height="1.6" fill="#5a5a5a"/>
<rect x="129.50" y="118.0" width="1.6" height="1.6" fill="#5a5a5a"/>
<rect x="137.98" y="95.1" width="1.6" height="1.6" fill="#5a5a5a"/>
<rect x="137.98" y="109.7" width="1.6" height="1.6" fill="#5a5a5a"/>
<rect x="137.98" y="111.6" width="1.6" height="1.6" fill="#5a5a5a"/>
<rect x="137.98" y="114.1" width="1.6" height="1.6" fill="#5a5a5a"/>
<rect x="137.98" y="118.0" width="1.6" height="1.6" fill="#5a5a5a"/>
<path d="M146.16 102.2h2.2M147.26 101.1v2.2" stroke="#555" stroke-width="0.7"/>
<rect x="146.46" y="105.2" width="1.6" height="1.6" fill="#5a5a5a"/>
<rect x="146.46" y="106.5" width="1.6" height="1.6" fill="#5a5a5a"/>
<rect x="146.46" y="112.9" width="1.6" height="1.6" fill="#5a5a5a"/>
<path d="M154.64 97.2h2.2M155.74 96.1v2.2" stroke="#555" stroke-width="0.7"/>
<rect x="154.94" y="101.1" width="1.6" height="1.6" fill="#5a5a5a"/>
<rect x="154.94" y="111.6" width="1.6" height="1.6" fill="#5a5a5a"/>
<path d="M154.64 117.5h2.2M155.74 116.4v2.2" stroke="#555" stroke-width="0.7"/>
<rect x="163.42" y="101.8" width="1.6" height="1.6" fill="#5a5a5a"/>
<rect x="163.42" y="103.3" width="1.6" height="1.6" fill="#5a5a5a"/>
<rect x="163.42" y="107.4" width="1.6" height="1.6" fill="#5a5a5a"/>
<rect x="163.42" y="111.6" width="1.6" height="1.6" fill="#5a5a5a"/>
<rect x="171.90" y="99.6" width="1.6" height="1.6" fill="#5a5a5a"/>
<rect x="171.90" y="101.5" width="1.6" height="1.6" fill="#5a5a5a"/>
<rect x="171.90" y="111.0" width="1.6" height="1.6" fill="#5a5a5a"/>
<path d="M180.08 101.9h2.2M181.18 100.8v2.2" stroke="#555" stroke-width="0.7"/>
<rect x="180.38" y="104.7" width="1.6" height="1.6" fill="#5a5a5a"/>
<rect x="180.38" y="106.6" width="1.6" height="1.6" fill="#5a5a5a"/>
<rect x="180.38" y="108.5" width="1.6" height="1.6" fill="#5a5a5a"/>
<rect x="188.86" y="97.1" width="1.6" height="1.6" fill="#5a5a5a"/>
<rect x="188.86" y="107.5" width="1.6" height="1.6" fill="#5a5a5a"/>
<rect x="188.86" y="108.8" width="1.6" height="1.6" fill="#5a5a5a"/>
<rect x="197.34" y="93.9" width="1.6" height="1.6" fill="#5a5a5a"/>
<rect x="197.34" y="97.7" width="1.6" height="1.6" fill="#5a5a5a"/>
<rect x="197.34" y="110.8" width="1.6" height="1.6" fill="#5a5a5a"/>
<rect x="197.34" y="118.7" width="1.6" height="1.6" fill="#5a5a5a"/>
<rect x="205.82" y="101.5" width="1.6" height="1.6" fill="#5a5a5a"/>
<rect x="205.82" y="103.4" width="1.6" height="1.6" fill="#5a5a5a"/>
<rect x="205.82" y="107.0" width="1.6" height="1.6" fill="#5a5a5a"/>
<path d="M214.00 99.1h2.2M215.10 98.0v2.2" stroke="#555" stroke-width="0.7"/>
<rect x="214.30" y="104.7" width="1.6" height="1.6" fill="#5a5a5a"/>
<rect x="214.30" y="107.0" width="1.6" height="1.6" fill="#5a5a5a"/>
<rect x="214.30" y="108.5" width="1.6" height="1.6" fill="#5a5a5a"/>
<path d="M222.48 93.2h2.2M223.58 92.1v2.2" stroke="#555" stroke-width="0.7"/>
<rect x="222.78" y="98.1" width="1.6" height="1.6" fill="#5a5a5a"/>
<rect x="222.78" y="108.8" width="1.6" height="1.6" fill="#5a5a5a"/>
<path d="M222.48 115.4h2.2M223.58 114.3v2.2" stroke="#555" stroke-width="0.7"/>
<rect x="231.26" y="97.1" width="1.6" height="1.6" fill="#5a5a5a"/>
<rect x="231.26" y="99.4" width="1.6" height="1.6" fill="#5a5a5a"/>
<rect x="231.26" y="101.1" width="1.6" height="1.6" fill="#5a5a5a"/>
<rect x="231.26" y="102.8" width="1.6" height="1.6" fill="#5a5a5a"/>
<rect x="231.26" y="108.8" width="1.6" height="1.6" fill="#5a5a5a"/>
<path d="M239.44 93.4h2.2M240.54 92.3v2.2" stroke="#555" stroke-width="0.7"/>
<rect x="239.74" y="102.8" width="1.6" height="1.6" fill="#5a5a5a"/>
<rect x="239.74" y="104.4" width="1.6" height="1.6" fill="#5a5a5a"/>
<path d="M239.44 109.3h2.2M240.54 108.2v2.2" stroke="#555" stroke-width="0.7"/>
<rect x="248.22" y="92.6" width="1.6" height="1.6" fill="#5a5a5a"/>
<rect x="248.22" y="99.0" width="1.6" height="1.6" fill="#5a5a5a"/>
<rect x="248.22" y="101.5" width="1.6" height="1.6" fill="#5a5a5a"/>
<rect x="248.22" y="112.1" width="1.6" height="1.6" fill="#5a5a5a"/>
<rect x="256.70" y="87.5" width="1.6" height="1.6" fill="#5a5a5a"/>
<rect x="256.70" y="89.4" width="1.6" height="1.6" fill="#5a5a5a"/>
<rect x="256.70" y="91.4" width="1.6" height="1.6" fill="#5a5a5a"/>
<rect x="256.70" y="107.5" width="1.6" height="1.6" fill="#5a5a5a"/>
<rect x="256.70" y="109.1" width="1.6" height="1.6" fill="#5a5a5a"/>
<rect x="265.18" y="86.9" width="1.6" height="1.6" fill="#5a5a5a"/>
<rect x="265.18" y="88.2" width="1.6" height="1.6" fill="#5a5a5a"/>
<rect x="265.18" y="95.2" width="1.6" height="1.6" fill="#5a5a5a"/>
<rect x="265.18" y="99.0" width="1.6" height="1.6" fill="#5a5a5a"/>
<rect x="265.18" y="100.9" width="1.6" height="1.6" fill="#5a5a5a"/>
<rect x="265.18" y="102.8" width="1.6" height="1.6" fill="#5a5a5a"/>
<rect x="265.18" y="106.0" width="1.6" height="1.6" fill="#5a5a5a"/>
<rect x="273.66" y="92.0" width="1.6" height="1.6" fill="#5a5a5a"/>
<rect x="273.66" y="99.4" width="1.6" height="1.6" fill="#5a5a5a"/>
<rect x="282.14" y="85.9" width="1.6" height="1.6" fill="#5a5a5a"/>
<rect x="282.14" y="93.9" width="1.6" height="1.6" fill="#5a5a5a"/>
<rect x="282.14" y="95.2" width="1.6" height="1.6" fill="#5a5a5a"/>
<rect x="282.14" y="97.1" width="1.6" height="1.6" fill="#5a5a5a"/>
<rect x="282.14" y="99.4" width="1.6" height="1.6" fill="#5a5a5a"/>
<rect x="290.62" y="86.3" width="1.6" height="1.6" fill="#5a5a5a"/>
<rect x="290.62" y="88.2" width="1.6" height="1.6" fill="#5a5a5a"/>
<rect x="290.62" y="90.1" width="1.6" height="1.6" fill="#5a5a5a"/>
<rect x="290.62" y="101.5" width="1.6" height="1.6" fill="#5a5a5a"/>
<rect x="299.10" y="73.8" width="1.6" height="1.6" fill="#5a5a5a"/>
<rect x="299.10" y="92.5" width="1.6" height="1.6" fill="#5a5a5a"/>
<rect x="299.10" y="97.2" width="1.6" height="1.6" fill="#5a5a5a"/>
<rect x="307.58" y="46.7" width="1.6" height="1.6" fill="#5a5a5a"/>
<rect x="307.58" y="49.4" width="1.6" height="1.6" fill="#5a5a5a"/>
<rect x="307.58" y="70.4" width="1.6" height="1.6" fill="#5a5a5a"/>
<rect x="316.06" y="30.8" width="1.6" height="1.6" fill="#5a5a5a"/>
<rect x="316.06" y="34.2" width="1.6" height="1.6" fill="#5a5a5a"/>
<polygon points="240.54,84.00 241.33,85.91 243.39,86.07 241.82,87.42 242.30,89.43 240.54,88.35 238.78,89.43 239.26,87.42 237.69,86.07 239.75,85.91" fill="#111"/>
<polygon points="249.02,83.20 249.81,85.11 251.87,85.27 250.30,86.62 250.78,88.63 249.02,87.55 247.26,88.63 247.74,86.62 246.17,85.27 248.23,85.11" fill="#111"/>
<polygon points="257.50,81.10 258.29,83.01 260.35,83.17 258.78,84.52 259.26,86.53 257.50,85.45 255.74,86.53 256.22,84.52 254.65,83.17 256.71,83.01" fill="#111"/>
<polygon points="265.98,74.30 266.77,76.21 268.83,76.37 267.26,77.72 267.74,79.73 265.98,78.65 264.22,79.73 264.70,77.72 263.13,76.37 265.19,76.21" fill="#111"/>
<polygon points="265.98,80.10 266.77,82.01 268.83,82.17 267.26,83.52 267.74,85.53 265.98,84.45 264.22,85.53 264.70,83.52 263.13,82.17 265.19,82.01" fill="#111"/>
<polygon points="274.46,77.20 275.25,79.11 277.31,79.27 275.74,80.62 276.22,82.63 274.46,81.55 272.70,82.63 273.18,80.62 271.61,79.27 273.67,79.11" fill="#111"/>
<polygon points="282.94,70.50 283.73,72.41 285.79,72.57 284.22,73.92 284.70,75.93 282.94,74.85 281.18,75.93 281.66,73.92 280.09,72.57 282.15,72.41" fill="#111"/>
<polygon points="282.94,76.10 283.73,78.01 285.79,78.17 284.22,79.52 284.70,81.53 282.94,80.45 281.18,81.53 281.66,79.52 280.09,78.17 282.15,78.01" fill="#111"/>
<polygon points="291.42,68.40 292.21,70.31 294.27,70.47 292.70,71.82 293.18,73.83 291.42,72.75 289.66,73.83 290.14,71.82 288.57,70.47 290.63,70.31" fill="#111"/>
<polygon points="291.42,74.20 292.21,76.11 294.27,76.27 292.70,77.62 293.18,79.63 291.42,78.55 289.66,79.63 290.14,77.62 288.57,76.27 290.63,76.11" fill="#111"/>
<polygon points="299.90,59.70 300.69,61.61 302.75,61.77 301.18,63.12 301.66,65.13 299.90,64.05 298.14,65.13 298.62,63.12 297.05,61.77 299.11,61.61" fill="#111"/>
<polygon points="299.90,65.60 300.69,67.51 302.75,67.67 301.18,69.02 301.66,71.03 299.90,69.95 298.14,71.03 298.62,69.02 297.05,67.67 299.11,67.51" fill="#111"/>
<polygon points="308.38,33.20 309.17,35.11 311.23,35.27 309.66,36.62 310.14,38.63 308.38,37.55 306.62,38.63 307.10,36.62 305.53,35.27 307.59,35.11" fill="#111"/>
<polygon points="308.38,38.90 309.17,40.81 311.23,40.97 309.66,42.32 310.14,44.33 308.38,43.25 306.62,44.33 307.10,42.32 305.53,40.97 307.59,40.81" fill="#111"/>
<polygon points="316.86,0.40 317.65,2.31 319.71,2.47 318.14,3.82 318.62,5.83 316.86,4.75 315.10,5.83 315.58,3.82 314.01,2.47 316.07,2.31" fill="#111"/>
<polygon points="316.86,5.20 317.65,7.11 319.71,7.27 318.14,8.62 318.62,10.63 316.86,9.55 315.10,10.63 315.58,8.62 314.01,7.27 316.07,7.11" fill="#111"/>
<polygon points="316.86,10.10 317.65,12.01 319.71,12.17 318.14,13.52 318.62,15.53 316.86,14.45 315.10,15.53 315.58,13.52 314.01,12.17 316.07,12.01" fill="#111"/>
<line x1="40" y1="10.8" x2="40" y2="150.2" stroke="#8990ac" stroke-width="1.6"/>
<line x1="39.2" y1="149.6" x2="324.3" y2="149.6" stroke="#4d5383" stroke-width="1.4"/>
<text x="339.6" y="17" font-size="16.2" font-weight="bold">c.</text>
<text x="363.8" y="139.5" font-size="7.1" text-anchor="end" fill="#222" stroke="#222" stroke-width="0.12">0.2</text>
<text x="388.0" y="165.6" font-size="7.1" text-anchor="middle" fill="#222" stroke="#222" stroke-width="0.12">0.2</text>
<text x="363.8" y="102.4" font-size="7.1" text-anchor="end" fill="#222" stroke="#222" stroke-width="0.12">0.3</text>
<text x="425.0" y="165.6" font-size="7.1" text-anchor="middle" fill="#222" stroke="#222" stroke-width="0.12">0.3</text>
<text x="363.8" y="65.3" font-size="7.1" text-anchor="end" fill="#222" stroke="#222" stroke-width="0.12">0.4</text>
<text x="462.0" y="165.6" font-size="7.1" text-anchor="middle" fill="#222" stroke="#222" stroke-width="0.12">0.4</text>
<text x="363.8" y="28.2" font-size="7.1" text-anchor="end" fill="#222" stroke="#222" stroke-width="0.12">0.5</text>
<text x="499.0" y="165.6" font-size="7.1" text-anchor="middle" fill="#222" stroke="#222" stroke-width="0.12">0.5</text>
<text x="443.5" y="177" font-size="9.5" text-anchor="middle" fill="#222">Replicates 1</text>
<text transform="translate(349.9,77.8) rotate(-90)" font-size="9.5" text-anchor="middle" fill="#222">Replicates 2</text>
<circle cx="398.2" cy="108.5" r="1.9" fill="#fff" stroke="#c8c8c8" stroke-width="0.6"/>
<circle cx="411" cy="116.7" r="1.9" fill="#fff" stroke="#c8c8c8" stroke-width="0.6"/>
<circle cx="394" cy="121.9" r="1.9" fill="#fff" stroke="#c8c8c8" stroke-width="0.6"/>
<circle cx="400.4" cy="121.2" r="1.9" fill="#fff" stroke="#c8c8c8" stroke-width="0.6"/>
<circle cx="392.6" cy="126.8" r="1.9" fill="#fff" stroke="#c8c8c8" stroke-width="0.6"/>
<circle cx="397.5" cy="124.7" r="1.9" fill="#fff" stroke="#c8c8c8" stroke-width="0.6"/>
<circle cx="401.8" cy="125.4" r="1.9" fill="#fff" stroke="#c8c8c8" stroke-width="0.6"/>
<circle cx="391.2" cy="130.4" r="1.9" fill="#fff" stroke="#c8c8c8" stroke-width="0.6"/>
<circle cx="396.1" cy="129" r="1.9" fill="#fff" stroke="#c8c8c8" stroke-width="0.6"/>
<circle cx="400.4" cy="130.4" r="1.9" fill="#fff" stroke="#c8c8c8" stroke-width="0.6"/>
<circle cx="381.3" cy="136.7" r="1.9" fill="#fff" stroke="#c8c8c8" stroke-width="0.6"/>
<circle cx="386.2" cy="136.7" r="1.9" fill="#fff" stroke="#c8c8c8" stroke-width="0.6"/>
<circle cx="391.9" cy="133.2" r="1.9" fill="#fff" stroke="#c8c8c8" stroke-width="0.6"/>
<circle cx="394.7" cy="137.4" r="1.9" fill="#fff" stroke="#c8c8c8" stroke-width="0.6"/>
<circle cx="399.7" cy="136.7" r="1.9" fill="#fff" stroke="#c8c8c8" stroke-width="0.6"/>
<circle cx="394" cy="141.7" r="1.9" fill="#fff" stroke="#c8c8c8" stroke-width="0.6"/>
<circle cx="399" cy="143.8" r="1.9" fill="#fff" stroke="#c8c8c8" stroke-width="0.6"/>
<circle cx="411" cy="125.8" r="1.9" fill="#fff" stroke="#c8c8c8" stroke-width="0.6"/>
<circle cx="405" cy="121" r="1.9" fill="#fff" stroke="#c8c8c8" stroke-width="0.6"/>
<circle cx="388" cy="131" r="1.9" fill="#fff" stroke="#c8c8c8" stroke-width="0.6"/>
<line x1="367" y1="154.4" x2="496" y2="24.8" stroke="#8d9be0" stroke-width="0.9"/>
<circle cx="382.7" cy="141.5" r="2.1" fill="#5ee866"/>
<circle cx="399" cy="124" r="2.1" fill="#a8d0f0"/>
<circle cx="396.8" cy="130.8" r="2.1" fill="#a8d0f0"/>
<circle cx="391.9" cy="119.2" r="2.1" fill="#9a9a9a"/>
<circle cx="403.9" cy="116.8" r="2.1" fill="#e5835f"/>
<circle cx="417.4" cy="125.9" r="2.1" fill="#e5835f"/>
<circle cx="423.8" cy="113.3" r="2.1" fill="#e5835f"/>
<circle cx="427.9" cy="109.7" r="2.1" fill="#9a9a9a"/>
<circle cx="416.3" cy="88.9" r="2.1" fill="#9a9a9a"/>
<circle cx="417.5" cy="83.7" r="2.1" fill="#e5835f"/>
<circle cx="499.7" cy="33.4" r="2.1" fill="#9a9a9a"/>
<text x="405.7" y="80.5" font-size="5.7" fill="#111" class="t">NDUFAF4</text>
<text x="389.9" y="92.0" font-size="5.7" fill="#111" class="t">TIMM8A</text>
<text x="395.3" y="114.4" font-size="5.7" fill="#111" class="t">NDUFS5</text>
<text x="431.3" y="112.3" font-size="5.7" fill="#111" class="t">MRPS18C</text>
<text x="427.4" y="118.6" font-size="5.7" fill="#111" class="t">NDUFAF7</text>
<text x="421.5" y="128.8" font-size="5.7" fill="#111" class="t">NDUFS5</text>
<text x="376.8" y="150.6" font-size="5.7" fill="#111" class="t">Non-Target</text>
<text x="482.5" y="46.2" font-size="5.7" fill="#111" class="t">TMEM11</text>
<text x="456.4" y="73.2" font-size="7.6" fill="#4a7cc4">r<tspan font-size="4.6" dy="-2.8">2</tspan><tspan dy="2.8"> = 0.773</tspan></text>
<line x1="366.7" y1="13.8" x2="366.7" y2="156.4" stroke="#262c4e" stroke-width="1.3"/>
<line x1="367.3" y1="155.9" x2="509.6" y2="155.9" stroke="#7c82a4" stroke-width="1.5"/>
<text x="525.2" y="17" font-size="14.5" font-weight="bold">d.</text>
<text x="574.2" y="10.2" font-size="7" fill="#000" stroke="#000" stroke-width="0.2" transform="translate(574.2,0) scale(0.81,1) translate(-574.2,0)">48 Binary Classification Models</text>
<rect x="547.80" y="22.00" width="3.53" height="5.37" fill="#3046b1"/>
<rect x="550.63" y="22.00" width="3.53" height="5.37" fill="#2d43af"/>
<rect x="553.45" y="22.00" width="3.53" height="5.37" fill="#3147b1"/>
<rect x="556.28" y="22.00" width="3.53" height="5.37" fill="#2c42af"/>
<rect x="559.11" y="22.00" width="3.53" height="5.37" fill="#2d43af"/>
<rect x="561.94" y="22.00" width="3.53" height="5.37" fill="#2b42ae"/>
<rect x="564.76" y="22.00" width="3.53" height="5.37" fill="#3147b1"/>
<rect x="567.59" y="22.00" width="3.53" height="5.37" fill="#2f45b0"/>
<rect x="570.42" y="22.00" width="3.53" height="5.37" fill="#2e44b0"/>
<rect x="573.24" y="22.00" width="3.53" height="5.37" fill="#2c43af"/>
<rect x="576.07" y="22.00" width="3.53" height="5.37" fill="#2f45b0"/>
<rect x="578.90" y="22.00" width="3.53" height="5.37" fill="#2f45b0"/>
<rect x="581.72" y="22.00" width="3.53" height="5.37" fill="#354bb4"/>
<rect x="584.55" y="22.00" width="3.53" height="5.37" fill="#3349b3"/>
<rect x="587.38" y="22.00" width="3.53" height="5.37" fill="#344bb4"/>
<rect x="590.21" y="22.00" width="3.53" height="5.37" fill="#2c42ae"/>
<rect x="593.03" y="22.00" width="3.53" height="5.37" fill="#3349b3"/>
<rect x="595.86" y="22.00" width="3.53" height="5.37" fill="#2e44b0"/>
<rect x="598.69" y="22.00" width="3.53" height="5.37" fill="#2c43af"/>
<rect x="601.51" y="22.00" width="3.53" height="5.37" fill="#2c42ae"/>
<rect x="604.34" y="22.00" width="3.53" height="5.37" fill="#2e44b0"/>
<rect x="607.17" y="22.00" width="3.53" height="5.37" fill="#293fad"/>
<rect x="610.00" y="22.00" width="3.53" height="5.37" fill="#283eac"/>
<rect x="612.82" y="22.00" width="3.53" height="5.37" fill="#293fad"/>
<rect x="615.65" y="22.00" width="3.53" height="5.37" fill="#2f45b0"/>
<rect x="618.48" y="22.00" width="3.53" height="5.37" fill="#3249b2"/>
<rect x="621.30" y="22.00" width="3.53" height="5.37" fill="#3248b2"/>
<rect x="624.13" y="22.00" width="3.53" height="5.37" fill="#3046b1"/>
<rect x="626.96" y="22.00" width="3.53" height="5.37" fill="#2c42ae"/>
<rect x="629.79" y="22.00" width="3.53" height="5.37" fill="#3046b1"/>
<rect x="632.61" y="22.00" width="3.53" height="5.37" fill="#2b41ae"/>
<rect x="635.44" y="22.00" width="3.53" height="5.37" fill="#2f45b0"/>
<rect x="638.27" y="22.00" width="3.53" height="5.37" fill="#2f45b0"/>
<rect x="641.09" y="22.00" width="3.53" height="5.37" fill="#2c42af"/>
<rect x="643.92" y="22.00" width="3.53" height="5.37" fill="#2a40ad"/>
<rect x="646.75" y="22.00" width="3.53" height="5.37" fill="#3349b3"/>
<rect x="649.58" y="22.00" width="3.53" height="5.37" fill="#344ab3"/>
<rect x="652.40" y="22.00" width="3.53" height="5.37" fill="#3046b1"/>
<rect x="655.23" y="22.00" width="3.53" height="5.37" fill="#3147b2"/>
<rect x="658.06" y="22.00" width="3.53" height="5.37" fill="#283eac"/>
<rect x="660.88" y="22.00" width="3.53" height="5.37" fill="#3349b3"/>
<rect x="663.71" y="22.00" width="3.53" height="5.37" fill="#3349b3"/>
<rect x="666.54" y="22.00" width="3.53" height="5.37" fill="#2d44af"/>
<rect x="669.36" y="22.00" width="3.53" height="5.37" fill="#3046b1"/>
<rect x="672.19" y="22.00" width="3.53" height="5.37" fill="#2e44b0"/>
<rect x="675.02" y="22.00" width="3.53" height="5.37" fill="#293fad"/>
<rect x="677.85" y="22.00" width="3.53" height="5.37" fill="#2e44b0"/>
<rect x="680.67" y="22.00" width="3.53" height="5.37" fill="#2d43af"/>
<text x="546.6" y="26.77" font-size="4.4" text-anchor="end" fill="#000" stroke="#000" stroke-width="0.12" font-weight="normal">SLC8B1</text>
<rect x="547.80" y="26.67" width="3.53" height="5.37" fill="#4359bd"/>
<rect x="550.63" y="26.67" width="3.53" height="5.37" fill="#4b62c2"/>
<rect x="553.45" y="26.67" width="3.53" height="5.37" fill="#465dbf"/>
<rect x="556.28" y="26.67" width="3.53" height="5.37" fill="#4d64c3"/>
<rect x="559.11" y="26.67" width="3.53" height="5.37" fill="#283eac"/>
<rect x="561.94" y="26.67" width="3.53" height="5.37" fill="#485fc0"/>
<rect x="564.76" y="26.67" width="3.53" height="5.37" fill="#5269c6"/>
<rect x="567.59" y="26.67" width="3.53" height="5.37" fill="#4259bc"/>
<rect x="570.42" y="26.67" width="3.53" height="5.37" fill="#283eac"/>
<rect x="573.24" y="26.67" width="3.53" height="5.37" fill="#283eac"/>
<rect x="576.07" y="26.67" width="3.53" height="5.37" fill="#465dbf"/>
<rect x="578.90" y="26.67" width="3.53" height="5.37" fill="#5870ca"/>
<rect x="581.72" y="26.67" width="3.53" height="5.37" fill="#7b8fd9"/>
<rect x="584.55" y="26.67" width="3.53" height="5.37" fill="#455cbe"/>
<rect x="587.38" y="26.67" width="3.53" height="5.37" fill="#4b62c2"/>
<rect x="590.21" y="26.67" width="3.53" height="5.37" fill="#445bbd"/>
<rect x="593.03" y="26.67" width="3.53" height="5.37" fill="#5168c6"/>
<rect x="595.86" y="26.67" width="3.53" height="5.37" fill="#283eac"/>
<rect x="598.69" y="26.67" width="3.53" height="5.37" fill="#4259bc"/>
<rect x="601.51" y="26.67" width="3.53" height="5.37" fill="#566dc9"/>
<rect x="604.34" y="26.67" width="3.53" height="5.37" fill="#4d64c3"/>
<rect x="607.17" y="26.67" width="3.53" height="5.37" fill="#283eac"/>
<rect x="610.00" y="26.67" width="3.53" height="5.37" fill="#283eac"/>
<rect x="612.82" y="26.67" width="3.53" height="5.37" fill="#3349b3"/>
<rect x="615.65" y="26.67" width="3.53" height="5.37" fill="#657dd2"/>
<rect x="618.48" y="26.67" width="3.53" height="5.37" fill="#4c63c3"/>
<rect x="621.30" y="26.67" width="3.53" height="5.37" fill="#485fc0"/>
<rect x="624.13" y="26.67" width="3.53" height="5.37" fill="#566ec9"/>
<rect x="626.96" y="26.67" width="3.53" height="5.37" fill="#2b41ae"/>
<rect x="629.79" y="26.67" width="3.53" height="5.37" fill="#5f77cf"/>
<rect x="632.61" y="26.67" width="3.53" height="5.37" fill="#283eac"/>
<rect x="635.44" y="26.67" width="3.53" height="5.37" fill="#344ab3"/>
<rect x="638.27" y="26.67" width="3.53" height="5.37" fill="#3a51b7"/>
<rect x="641.09" y="26.67" width="3.53" height="5.37" fill="#526ac6"/>
<rect x="643.92" y="26.67" width="3.53" height="5.37" fill="#4056bb"/>
<rect x="646.75" y="26.67" width="3.53" height="5.37" fill="#435abd"/>
<rect x="649.58" y="26.67" width="3.53" height="5.37" fill="#3e55ba"/>
<rect x="652.40" y="26.67" width="3.53" height="5.37" fill="#3147b2"/>
<rect x="655.23" y="26.67" width="3.53" height="5.37" fill="#3b51b8"/>
<rect x="658.06" y="26.67" width="3.53" height="5.37" fill="#283eac"/>
<rect x="660.88" y="26.67" width="3.53" height="5.37" fill="#435abd"/>
<rect x="663.71" y="26.67" width="3.53" height="5.37" fill="#3d54b9"/>
<rect x="666.54" y="26.67" width="3.53" height="5.37" fill="#485fc0"/>
<rect x="669.36" y="26.67" width="3.53" height="5.37" fill="#4158bc"/>
<rect x="672.19" y="26.67" width="3.53" height="5.37" fill="#384fb6"/>
<rect x="675.02" y="26.67" width="3.53" height="5.37" fill="#354cb4"/>
<rect x="677.85" y="26.67" width="3.53" height="5.37" fill="#485fc0"/>
<rect x="680.67" y="26.67" width="3.53" height="5.37" fill="#4259bc"/>
<text x="546.6" y="31.43" font-size="4.4" text-anchor="end" fill="#000" stroke="#000" stroke-width="0.12" font-weight="normal">DNAJC28</text>
<rect x="547.80" y="31.33" width="3.53" height="5.37" fill="#2f45b0"/>
<rect x="550.63" y="31.33" width="3.53" height="5.37" fill="#4158bc"/>
<rect x="553.45" y="31.33" width="3.53" height="5.37" fill="#344ab3"/>
<rect x="556.28" y="31.33" width="3.53" height="5.37" fill="#586fca"/>
<rect x="559.11" y="31.33" width="3.53" height="5.37" fill="#4e65c4"/>
<rect x="561.94" y="31.33" width="3.53" height="5.37" fill="#3e55ba"/>
<rect x="564.76" y="31.33" width="3.53" height="5.37" fill="#3e55ba"/>
<rect x="567.59" y="31.33" width="3.53" height="5.37" fill="#374db5"/>
<rect x="570.42" y="31.33" width="3.53" height="5.37" fill="#3a50b7"/>
<rect x="573.24" y="31.33" width="3.53" height="5.37" fill="#3950b7"/>
<rect x="576.07" y="31.33" width="3.53" height="5.37" fill="#7087d6"/>
<rect x="578.90" y="31.33" width="3.53" height="5.37" fill="#5971cb"/>
<rect x="581.72" y="31.33" width="3.53" height="5.37" fill="#5269c6"/>
<rect x="584.55" y="31.33" width="3.53" height="5.37" fill="#3147b2"/>
<rect x="587.38" y="31.33" width="3.53" height="5.37" fill="#687fd4"/>
<rect x="590.21" y="31.33" width="3.53" height="5.37" fill="#4259bc"/>
<rect x="593.03" y="31.33" width="3.53" height="5.37" fill="#3e55ba"/>
<rect x="595.86" y="31.33" width="3.53" height="5.37" fill="#4259bc"/>
<rect x="598.69" y="31.33" width="3.53" height="5.37" fill="#283eac"/>
<rect x="601.51" y="31.33" width="3.53" height="5.37" fill="#7b8fd9"/>
<rect x="604.34" y="31.33" width="3.53" height="5.37" fill="#556cc8"/>
<rect x="607.17" y="31.33" width="3.53" height="5.37" fill="#4056bb"/>
<rect x="610.00" y="31.33" width="3.53" height="5.37" fill="#2f45b0"/>
<rect x="612.82" y="31.33" width="3.53" height="5.37" fill="#283eac"/>
<rect x="615.65" y="31.33" width="3.53" height="5.37" fill="#4259bc"/>
<rect x="618.48" y="31.33" width="3.53" height="5.37" fill="#2e44b0"/>
<rect x="621.30" y="31.33" width="3.53" height="5.37" fill="#556dc8"/>
<rect x="624.13" y="31.33" width="3.53" height="5.37" fill="#283eac"/>
<rect x="626.96" y="31.33" width="3.53" height="5.37" fill="#283eac"/>
<rect x="629.79" y="31.33" width="3.53" height="5.37" fill="#5c74cd"/>
<rect x="632.61" y="31.33" width="3.53" height="5.37" fill="#5067c5"/>
<rect x="635.44" y="31.33" width="3.53" height="5.37" fill="#2c43af"/>
<rect x="638.27" y="31.33" width="3.53" height="5.37" fill="#283eac"/>
<rect x="641.09" y="31.33" width="3.53" height="5.37" fill="#5068c5"/>
<rect x="643.92" y="31.33" width="3.53" height="5.37" fill="#4960c1"/>
<rect x="646.75" y="31.33" width="3.53" height="5.37" fill="#3349b3"/>
<rect x="649.58" y="31.33" width="3.53" height="5.37" fill="#546bc7"/>
<rect x="652.40" y="31.33" width="3.53" height="5.37" fill="#364cb5"/>
<rect x="655.23" y="31.33" width="3.53" height="5.37" fill="#354cb4"/>
<rect x="658.06" y="31.33" width="3.53" height="5.37" fill="#2a41ae"/>
<rect x="660.88" y="31.33" width="3.53" height="5.37" fill="#546bc7"/>
<rect x="663.71" y="31.33" width="3.53" height="5.37" fill="#536ac7"/>
<rect x="666.54" y="31.33" width="3.53" height="5.37" fill="#637bd1"/>
<rect x="669.36" y="31.33" width="3.53" height="5.37" fill="#435abd"/>
<rect x="672.19" y="31.33" width="3.53" height="5.37" fill="#4057bb"/>
<rect x="675.02" y="31.33" width="3.53" height="5.37" fill="#283eac"/>
<rect x="677.85" y="31.33" width="3.53" height="5.37" fill="#455bbe"/>
<rect x="680.67" y="31.33" width="3.53" height="5.37" fill="#283eac"/>
<text x="546.6" y="36.10" font-size="4.4" text-anchor="end" fill="#000" stroke="#000" stroke-width="0.12" font-weight="bold">NT</text>
<rect x="547.80" y="36.00" width="3.53" height="5.37" fill="#283eac"/>
<rect x="550.63" y="36.00" width="3.53" height="5.37" fill="#576ec9"/>
<rect x="553.45" y="36.00" width="3.53" height="5.37" fill="#6b82d5"/>
<rect x="556.28" y="36.00" width="3.53" height="5.37" fill="#5168c6"/>
<rect x="559.11" y="36.00" width="3.53" height="5.37" fill="#536ac7"/>
<rect x="561.94" y="36.00" width="3.53" height="5.37" fill="#4b62c2"/>
<rect x="564.76" y="36.00" width="3.53" height="5.37" fill="#3e55ba"/>
<rect x="567.59" y="36.00" width="3.53" height="5.37" fill="#5269c6"/>
<rect x="570.42" y="36.00" width="3.53" height="5.37" fill="#354cb4"/>
<rect x="573.24" y="36.00" width="3.53" height="5.37" fill="#283eac"/>
<rect x="576.07" y="36.00" width="3.53" height="5.37" fill="#2f45b0"/>
<rect x="578.90" y="36.00" width="3.53" height="5.37" fill="#4056bb"/>
<rect x="581.72" y="36.00" width="3.53" height="5.37" fill="#647cd1"/>
<rect x="584.55" y="36.00" width="3.53" height="5.37" fill="#6279d0"/>
<rect x="587.38" y="36.00" width="3.53" height="5.37" fill="#4d64c3"/>
<rect x="590.21" y="36.00" width="3.53" height="5.37" fill="#5e76ce"/>
<rect x="593.03" y="36.00" width="3.53" height="5.37" fill="#6179d0"/>
<rect x="595.86" y="36.00" width="3.53" height="5.37" fill="#4f66c4"/>
<rect x="598.69" y="36.00" width="3.53" height="5.37" fill="#566dc8"/>
<rect x="601.51" y="36.00" width="3.53" height="5.37" fill="#2e44b0"/>
<rect x="604.34" y="36.00" width="3.53" height="5.37" fill="#283eac"/>
<rect x="607.17" y="36.00" width="3.53" height="5.37" fill="#4960c0"/>
<rect x="610.00" y="36.00" width="3.53" height="5.37" fill="#2a41ae"/>
<rect x="612.82" y="36.00" width="3.53" height="5.37" fill="#5168c6"/>
<rect x="615.65" y="36.00" width="3.53" height="5.37" fill="#4f66c5"/>
<rect x="618.48" y="36.00" width="3.53" height="5.37" fill="#5f77ce"/>
<rect x="621.30" y="36.00" width="3.53" height="5.37" fill="#5e76ce"/>
<rect x="624.13" y="36.00" width="3.53" height="5.37" fill="#283eac"/>
<rect x="626.96" y="36.00" width="3.53" height="5.37" fill="#445abd"/>
<rect x="629.79" y="36.00" width="3.53" height="5.37" fill="#4158bc"/>
<rect x="632.61" y="36.00" width="3.53" height="5.37" fill="#2c43af"/>
<rect x="635.44" y="36.00" width="3.53" height="5.37" fill="#3d54b9"/>
<rect x="638.27" y="36.00" width="3.53" height="5.37" fill="#475ec0"/>
<rect x="641.09" y="36.00" width="3.53" height="5.37" fill="#576ec9"/>
<rect x="643.92" y="36.00" width="3.53" height="5.37" fill="#5269c6"/>
<rect x="646.75" y="36.00" width="3.53" height="5.37" fill="#2b41ae"/>
<rect x="649.58" y="36.00" width="3.53" height="5.37" fill="#5a71cb"/>
<rect x="652.40" y="36.00" width="3.53" height="5.37" fill="#283eac"/>
<rect x="655.23" y="36.00" width="3.53" height="5.37" fill="#4c64c3"/>
<rect x="658.06" y="36.00" width="3.53" height="5.37" fill="#465dbf"/>
<rect x="660.88" y="36.00" width="3.53" height="5.37" fill="#364db5"/>
<rect x="663.71" y="36.00" width="3.53" height="5.37" fill="#5168c6"/>
<rect x="666.54" y="36.00" width="3.53" height="5.37" fill="#4a61c1"/>
<rect x="669.36" y="36.00" width="3.53" height="5.37" fill="#5c74cd"/>
<rect x="672.19" y="36.00" width="3.53" height="5.37" fill="#394fb7"/>
<rect x="675.02" y="36.00" width="3.53" height="5.37" fill="#2f45b0"/>
<rect x="677.85" y="36.00" width="3.53" height="5.37" fill="#3e55ba"/>
<rect x="680.67" y="36.00" width="3.53" height="5.37" fill="#5f77ce"/>
<text x="546.6" y="40.77" font-size="4.4" text-anchor="end" fill="#000" stroke="#000" stroke-width="0.12" font-weight="normal">MRPL45</text>
<rect x="547.80" y="40.67" width="3.53" height="5.37" fill="#566dc9"/>
<rect x="550.63" y="40.67" width="3.53" height="5.37" fill="#4d64c3"/>
<rect x="553.45" y="40.67" width="3.53" height="5.37" fill="#5971cb"/>
<rect x="556.28" y="40.67" width="3.53" height="5.37" fill="#4960c1"/>
<rect x="559.11" y="40.67" width="3.53" height="5.37" fill="#445bbd"/>
<rect x="561.94" y="40.67" width="3.53" height="5.37" fill="#475ec0"/>
<rect x="564.76" y="40.67" width="3.53" height="5.37" fill="#4a61c1"/>
<rect x="567.59" y="40.67" width="3.53" height="5.37" fill="#3e54b9"/>
<rect x="570.42" y="40.67" width="3.53" height="5.37" fill="#354bb4"/>
<rect x="573.24" y="40.67" width="3.53" height="5.37" fill="#6078cf"/>
<rect x="576.07" y="40.67" width="3.53" height="5.37" fill="#5c74cd"/>
<rect x="578.90" y="40.67" width="3.53" height="5.37" fill="#6178cf"/>
<rect x="581.72" y="40.67" width="3.53" height="5.37" fill="#657dd2"/>
<rect x="584.55" y="40.67" width="3.53" height="5.37" fill="#657dd2"/>
<rect x="587.38" y="40.67" width="3.53" height="5.37" fill="#6179d0"/>
<rect x="590.21" y="40.67" width="3.53" height="5.37" fill="#3d54b9"/>
<rect x="593.03" y="40.67" width="3.53" height="5.37" fill="#677fd3"/>
<rect x="595.86" y="40.67" width="3.53" height="5.37" fill="#4e65c4"/>
<rect x="598.69" y="40.67" width="3.53" height="5.37" fill="#364db5"/>
<rect x="601.51" y="40.67" width="3.53" height="5.37" fill="#3249b3"/>
<rect x="604.34" y="40.67" width="3.53" height="5.37" fill="#3a50b7"/>
<rect x="607.17" y="40.67" width="3.53" height="5.37" fill="#2c42ae"/>
<rect x="610.00" y="40.67" width="3.53" height="5.37" fill="#4d64c3"/>
<rect x="612.82" y="40.67" width="3.53" height="5.37" fill="#283eac"/>
<rect x="615.65" y="40.67" width="3.53" height="5.37" fill="#4960c1"/>
<rect x="618.48" y="40.67" width="3.53" height="5.37" fill="#465dbf"/>
<rect x="621.30" y="40.67" width="3.53" height="5.37" fill="#4a61c1"/>
<rect x="624.13" y="40.67" width="3.53" height="5.37" fill="#5067c5"/>
<rect x="626.96" y="40.67" width="3.53" height="5.37" fill="#5169c6"/>
<rect x="629.79" y="40.67" width="3.53" height="5.37" fill="#546bc7"/>
<rect x="632.61" y="40.67" width="3.53" height="5.37" fill="#3c53b9"/>
<rect x="635.44" y="40.67" width="3.53" height="5.37" fill="#3f55ba"/>
<rect x="638.27" y="40.67" width="3.53" height="5.37" fill="#3c53b9"/>
<rect x="641.09" y="40.67" width="3.53" height="5.37" fill="#5d75cd"/>
<rect x="643.92" y="40.67" width="3.53" height="5.37" fill="#3d54b9"/>
<rect x="646.75" y="40.67" width="3.53" height="5.37" fill="#384eb6"/>
<rect x="649.58" y="40.67" width="3.53" height="5.37" fill="#5168c6"/>
<rect x="652.40" y="40.67" width="3.53" height="5.37" fill="#364db5"/>
<rect x="655.23" y="40.67" width="3.53" height="5.37" fill="#394fb6"/>
<rect x="658.06" y="40.67" width="3.53" height="5.37" fill="#556cc8"/>
<rect x="660.88" y="40.67" width="3.53" height="5.37" fill="#5067c5"/>
<rect x="663.71" y="40.67" width="3.53" height="5.37" fill="#4d64c3"/>
<rect x="666.54" y="40.67" width="3.53" height="5.37" fill="#677fd3"/>
<rect x="669.36" y="40.67" width="3.53" height="5.37" fill="#4359bd"/>
<rect x="672.19" y="40.67" width="3.53" height="5.37" fill="#5b73cc"/>
<rect x="675.02" y="40.67" width="3.53" height="5.37" fill="#526ac6"/>
<rect x="677.85" y="40.67" width="3.53" height="5.37" fill="#334ab3"/>
<rect x="680.67" y="40.67" width="3.53" height="5.37" fill="#283eac"/>
<text x="546.6" y="45.43" font-size="4.4" text-anchor="end" fill="#000" stroke="#000" stroke-width="0.12" font-weight="normal">CRY1</text>
<rect x="547.80" y="45.33" width="3.53" height="5.37" fill="#344bb4"/>
<rect x="550.63" y="45.33" width="3.53" height="5.37" fill="#667ed3"/>
<rect x="553.45" y="45.33" width="3.53" height="5.37" fill="#7e92da"/>
<rect x="556.28" y="45.33" width="3.53" height="5.37" fill="#354bb4"/>
<rect x="559.11" y="45.33" width="3.53" height="5.37" fill="#5971cb"/>
<rect x="561.94" y="45.33" width="3.53" height="5.37" fill="#4960c1"/>
<rect x="564.76" y="45.33" width="3.53" height="5.37" fill="#4e65c4"/>
<rect x="567.59" y="45.33" width="3.53" height="5.37" fill="#5067c5"/>
<rect x="570.42" y="45.33" width="3.53" height="5.37" fill="#4057bb"/>
<rect x="573.24" y="45.33" width="3.53" height="5.37" fill="#283eac"/>
<rect x="576.07" y="45.33" width="3.53" height="5.37" fill="#445bbe"/>
<rect x="578.90" y="45.33" width="3.53" height="5.37" fill="#4d64c3"/>
<rect x="581.72" y="45.33" width="3.53" height="5.37" fill="#8799dd"/>
<rect x="584.55" y="45.33" width="3.53" height="5.37" fill="#bac4eb"/>
<rect x="587.38" y="45.33" width="3.53" height="5.37" fill="#c0c8ed"/>
<rect x="590.21" y="45.33" width="3.53" height="5.37" fill="#485fc0"/>
<rect x="593.03" y="45.33" width="3.53" height="5.37" fill="#475ebf"/>
<rect x="595.86" y="45.33" width="3.53" height="5.37" fill="#475ebf"/>
<rect x="598.69" y="45.33" width="3.53" height="5.37" fill="#384eb6"/>
<rect x="601.51" y="45.33" width="3.53" height="5.37" fill="#7288d7"/>
<rect x="604.34" y="45.33" width="3.53" height="5.37" fill="#5d74cd"/>
<rect x="607.17" y="45.33" width="3.53" height="5.37" fill="#374eb6"/>
<rect x="610.00" y="45.33" width="3.53" height="5.37" fill="#536ac7"/>
<rect x="612.82" y="45.33" width="3.53" height="5.37" fill="#4e65c4"/>
<rect x="615.65" y="45.33" width="3.53" height="5.37" fill="#344bb4"/>
<rect x="618.48" y="45.33" width="3.53" height="5.37" fill="#4d64c3"/>
<rect x="621.30" y="45.33" width="3.53" height="5.37" fill="#566ec9"/>
<rect x="624.13" y="45.33" width="3.53" height="5.37" fill="#536bc7"/>
<rect x="626.96" y="45.33" width="3.53" height="5.37" fill="#435abd"/>
<rect x="629.79" y="45.33" width="3.53" height="5.37" fill="#5168c5"/>
<rect x="632.61" y="45.33" width="3.53" height="5.37" fill="#485fc0"/>
<rect x="635.44" y="45.33" width="3.53" height="5.37" fill="#445bbe"/>
<rect x="638.27" y="45.33" width="3.53" height="5.37" fill="#3349b3"/>
<rect x="641.09" y="45.33" width="3.53" height="5.37" fill="#748ad7"/>
<rect x="643.92" y="45.33" width="3.53" height="5.37" fill="#5168c6"/>
<rect x="646.75" y="45.33" width="3.53" height="5.37" fill="#5b73cc"/>
<rect x="649.58" y="45.33" width="3.53" height="5.37" fill="#5067c5"/>
<rect x="652.40" y="45.33" width="3.53" height="5.37" fill="#4d65c3"/>
<rect x="655.23" y="45.33" width="3.53" height="5.37" fill="#6880d4"/>
<rect x="658.06" y="45.33" width="3.53" height="5.37" fill="#2c42af"/>
<rect x="660.88" y="45.33" width="3.53" height="5.37" fill="#637bd1"/>
<rect x="663.71" y="45.33" width="3.53" height="5.37" fill="#4f67c5"/>
<rect x="666.54" y="45.33" width="3.53" height="5.37" fill="#586fca"/>
<rect x="669.36" y="45.33" width="3.53" height="5.37" fill="#5269c6"/>
<rect x="672.19" y="45.33" width="3.53" height="5.37" fill="#566ec9"/>
<rect x="675.02" y="45.33" width="3.53" height="5.37" fill="#5f77ce"/>
<rect x="677.85" y="45.33" width="3.53" height="5.37" fill="#4e65c4"/>
<rect x="680.67" y="45.33" width="3.53" height="5.37" fill="#6880d4"/>
<text x="546.6" y="50.10" font-size="4.4" text-anchor="end" fill="#000" stroke="#000" stroke-width="0.12" font-weight="normal">NMNAT3</text>
<rect x="547.80" y="50.00" width="3.53" height="5.37" fill="#3c53b9"/>
<rect x="550.63" y="50.00" width="3.53" height="5.37" fill="#485fc0"/>
<rect x="553.45" y="50.00" width="3.53" height="5.37" fill="#7188d7"/>
<rect x="556.28" y="50.00" width="3.53" height="5.37" fill="#3d54b9"/>
<rect x="559.11" y="50.00" width="3.53" height="5.37" fill="#435abd"/>
<rect x="561.94" y="50.00" width="3.53" height="5.37" fill="#677fd3"/>
<rect x="564.76" y="50.00" width="3.53" height="5.37" fill="#7b90d9"/>
<rect x="567.59" y="50.00" width="3.53" height="5.37" fill="#3e55ba"/>
<rect x="570.42" y="50.00" width="3.53" height="5.37" fill="#556cc8"/>
<rect x="573.24" y="50.00" width="3.53" height="5.37" fill="#758bd8"/>
<rect x="576.07" y="50.00" width="3.53" height="5.37" fill="#7f93da"/>
<rect x="578.90" y="50.00" width="3.53" height="5.37" fill="#657dd2"/>
<rect x="581.72" y="50.00" width="3.53" height="5.37" fill="#6880d4"/>
<rect x="584.55" y="50.00" width="3.53" height="5.37" fill="#6981d4"/>
<rect x="587.38" y="50.00" width="3.53" height="5.37" fill="#4e66c4"/>
<rect x="590.21" y="50.00" width="3.53" height="5.37" fill="#4f66c4"/>
<rect x="593.03" y="50.00" width="3.53" height="5.37" fill="#6b82d5"/>
<rect x="595.86" y="50.00" width="3.53" height="5.37" fill="#5168c5"/>
<rect x="598.69" y="50.00" width="3.53" height="5.37" fill="#667ed3"/>
<rect x="601.51" y="50.00" width="3.53" height="5.37" fill="#475ec0"/>
<rect x="604.34" y="50.00" width="3.53" height="5.37" fill="#3b52b8"/>
<rect x="607.17" y="50.00" width="3.53" height="5.37" fill="#5f76ce"/>
<rect x="610.00" y="50.00" width="3.53" height="5.37" fill="#3248b2"/>
<rect x="612.82" y="50.00" width="3.53" height="5.37" fill="#4057bb"/>
<rect x="615.65" y="50.00" width="3.53" height="5.37" fill="#566dc9"/>
<rect x="618.48" y="50.00" width="3.53" height="5.37" fill="#566dc9"/>
<rect x="621.30" y="50.00" width="3.53" height="5.37" fill="#4d64c3"/>
<rect x="624.13" y="50.00" width="3.53" height="5.37" fill="#536bc7"/>
<rect x="626.96" y="50.00" width="3.53" height="5.37" fill="#788dd8"/>
<rect x="629.79" y="50.00" width="3.53" height="5.37" fill="#5168c5"/>
<rect x="632.61" y="50.00" width="3.53" height="5.37" fill="#475ebf"/>
<rect x="635.44" y="50.00" width="3.53" height="5.37" fill="#6c83d5"/>
<rect x="638.27" y="50.00" width="3.53" height="5.37" fill="#576fc9"/>
<rect x="641.09" y="50.00" width="3.53" height="5.37" fill="#657dd2"/>
<rect x="643.92" y="50.00" width="3.53" height="5.37" fill="#6077cf"/>
<rect x="646.75" y="50.00" width="3.53" height="5.37" fill="#3249b2"/>
<rect x="649.58" y="50.00" width="3.53" height="5.37" fill="#637bd1"/>
<rect x="652.40" y="50.00" width="3.53" height="5.37" fill="#5870ca"/>
<rect x="655.23" y="50.00" width="3.53" height="5.37" fill="#677fd4"/>
<rect x="658.06" y="50.00" width="3.53" height="5.37" fill="#637bd1"/>
<rect x="660.88" y="50.00" width="3.53" height="5.37" fill="#5d74cd"/>
<rect x="663.71" y="50.00" width="3.53" height="5.37" fill="#576fca"/>
<rect x="666.54" y="50.00" width="3.53" height="5.37" fill="#566dc9"/>
<rect x="669.36" y="50.00" width="3.53" height="5.37" fill="#556dc8"/>
<rect x="672.19" y="50.00" width="3.53" height="5.37" fill="#5c73cc"/>
<rect x="675.02" y="50.00" width="3.53" height="5.37" fill="#5a72cb"/>
<rect x="677.85" y="50.00" width="3.53" height="5.37" fill="#556cc8"/>
<rect x="680.67" y="50.00" width="3.53" height="5.37" fill="#3f56ba"/>
<text x="546.6" y="54.77" font-size="4.4" text-anchor="end" fill="#000" stroke="#000" stroke-width="0.12" font-weight="normal">OGDHL</text>
<rect x="547.80" y="54.67" width="3.53" height="5.37" fill="#4158bc"/>
<rect x="550.63" y="54.67" width="3.53" height="5.37" fill="#879add"/>
<rect x="553.45" y="54.67" width="3.53" height="5.37" fill="#9aa9e2"/>
<rect x="556.28" y="54.67" width="3.53" height="5.37" fill="#7389d7"/>
<rect x="559.11" y="54.67" width="3.53" height="5.37" fill="#637bd1"/>
<rect x="561.94" y="54.67" width="3.53" height="5.37" fill="#748ad8"/>
<rect x="564.76" y="54.67" width="3.53" height="5.37" fill="#627ad0"/>
<rect x="567.59" y="54.67" width="3.53" height="5.37" fill="#8296db"/>
<rect x="570.42" y="54.67" width="3.53" height="5.37" fill="#3d54b9"/>
<rect x="573.24" y="54.67" width="3.53" height="5.37" fill="#4e65c4"/>
<rect x="576.07" y="54.67" width="3.53" height="5.37" fill="#556cc8"/>
<rect x="578.90" y="54.67" width="3.53" height="5.37" fill="#99a8e2"/>
<rect x="581.72" y="54.67" width="3.53" height="5.37" fill="#768bd8"/>
<rect x="584.55" y="54.67" width="3.53" height="5.37" fill="#7f93db"/>
<rect x="587.38" y="54.67" width="3.53" height="5.37" fill="#8194db"/>
<rect x="590.21" y="54.67" width="3.53" height="5.37" fill="#8699dc"/>
<rect x="593.03" y="54.67" width="3.53" height="5.37" fill="#657cd2"/>
<rect x="595.86" y="54.67" width="3.53" height="5.37" fill="#485fc0"/>
<rect x="598.69" y="54.67" width="3.53" height="5.37" fill="#677fd4"/>
<rect x="601.51" y="54.67" width="3.53" height="5.37" fill="#3d54b9"/>
<rect x="604.34" y="54.67" width="3.53" height="5.37" fill="#6880d4"/>
<rect x="607.17" y="54.67" width="3.53" height="5.37" fill="#475ebf"/>
<rect x="610.00" y="54.67" width="3.53" height="5.37" fill="#4c63c2"/>
<rect x="612.82" y="54.67" width="3.53" height="5.37" fill="#2b41ae"/>
<rect x="615.65" y="54.67" width="3.53" height="5.37" fill="#768bd8"/>
<rect x="618.48" y="54.67" width="3.53" height="5.37" fill="#5a71cb"/>
<rect x="621.30" y="54.67" width="3.53" height="5.37" fill="#556dc8"/>
<rect x="624.13" y="54.67" width="3.53" height="5.37" fill="#acb8e7"/>
<rect x="626.96" y="54.67" width="3.53" height="5.37" fill="#5c74cd"/>
<rect x="629.79" y="54.67" width="3.53" height="5.37" fill="#dbdef4"/>
<rect x="632.61" y="54.67" width="3.53" height="5.37" fill="#5971cb"/>
<rect x="635.44" y="54.67" width="3.53" height="5.37" fill="#556dc8"/>
<rect x="638.27" y="54.67" width="3.53" height="5.37" fill="#536ac7"/>
<rect x="641.09" y="54.67" width="3.53" height="5.37" fill="#95a5e1"/>
<rect x="643.92" y="54.67" width="3.53" height="5.37" fill="#566ec9"/>
<rect x="646.75" y="54.67" width="3.53" height="5.37" fill="#6a81d5"/>
<rect x="649.58" y="54.67" width="3.53" height="5.37" fill="#a4b1e5"/>
<rect x="652.40" y="54.67" width="3.53" height="5.37" fill="#4b62c2"/>
<rect x="655.23" y="54.67" width="3.53" height="5.37" fill="#6880d4"/>
<rect x="658.06" y="54.67" width="3.53" height="5.37" fill="#485fc0"/>
<rect x="660.88" y="54.67" width="3.53" height="5.37" fill="#4258bc"/>
<rect x="663.71" y="54.67" width="3.53" height="5.37" fill="#8396dc"/>
<rect x="666.54" y="54.67" width="3.53" height="5.37" fill="#6d84d5"/>
<rect x="669.36" y="54.67" width="3.53" height="5.37" fill="#637ad1"/>
<rect x="672.19" y="54.67" width="3.53" height="5.37" fill="#4c63c3"/>
<rect x="675.02" y="54.67" width="3.53" height="5.37" fill="#2c42ae"/>
<rect x="677.85" y="54.67" width="3.53" height="5.37" fill="#7288d7"/>
<rect x="680.67" y="54.67" width="3.53" height="5.37" fill="#546cc8"/>
<text x="546.6" y="59.43" font-size="4.4" text-anchor="end" fill="#000" stroke="#000" stroke-width="0.12" font-weight="normal">BRI3BP</text>
<rect x="547.80" y="59.33" width="3.53" height="5.37" fill="#374db5"/>
<rect x="550.63" y="59.33" width="3.53" height="5.37" fill="#667ed3"/>
<rect x="553.45" y="59.33" width="3.53" height="5.37" fill="#4e65c4"/>
<rect x="556.28" y="59.33" width="3.53" height="5.37" fill="#5f77ce"/>
<rect x="559.11" y="59.33" width="3.53" height="5.37" fill="#5b73cc"/>
<rect x="561.94" y="59.33" width="3.53" height="5.37" fill="#6e85d6"/>
<rect x="564.76" y="59.33" width="3.53" height="5.37" fill="#7288d7"/>
<rect x="567.59" y="59.33" width="3.53" height="5.37" fill="#7b90d9"/>
<rect x="570.42" y="59.33" width="3.53" height="5.37" fill="#4259bc"/>
<rect x="573.24" y="59.33" width="3.53" height="5.37" fill="#5168c5"/>
<rect x="576.07" y="59.33" width="3.53" height="5.37" fill="#6078cf"/>
<rect x="578.90" y="59.33" width="3.53" height="5.37" fill="#7e92da"/>
<rect x="581.72" y="59.33" width="3.53" height="5.37" fill="#a6b3e5"/>
<rect x="584.55" y="59.33" width="3.53" height="5.37" fill="#aab6e7"/>
<rect x="587.38" y="59.33" width="3.53" height="5.37" fill="#c0c8ed"/>
<rect x="590.21" y="59.33" width="3.53" height="5.37" fill="#2d43af"/>
<rect x="593.03" y="59.33" width="3.53" height="5.37" fill="#9fade3"/>
<rect x="595.86" y="59.33" width="3.53" height="5.37" fill="#5e75cd"/>
<rect x="598.69" y="59.33" width="3.53" height="5.37" fill="#afbbe8"/>
<rect x="601.51" y="59.33" width="3.53" height="5.37" fill="#7288d7"/>
<rect x="604.34" y="59.33" width="3.53" height="5.37" fill="#435abd"/>
<rect x="607.17" y="59.33" width="3.53" height="5.37" fill="#6179d0"/>
<rect x="610.00" y="59.33" width="3.53" height="5.37" fill="#4a61c1"/>
<rect x="612.82" y="59.33" width="3.53" height="5.37" fill="#6e85d6"/>
<rect x="615.65" y="59.33" width="3.53" height="5.37" fill="#5168c6"/>
<rect x="618.48" y="59.33" width="3.53" height="5.37" fill="#6980d4"/>
<rect x="621.30" y="59.33" width="3.53" height="5.37" fill="#6f85d6"/>
<rect x="624.13" y="59.33" width="3.53" height="5.37" fill="#647cd2"/>
<rect x="626.96" y="59.33" width="3.53" height="5.37" fill="#485fc0"/>
<rect x="629.79" y="59.33" width="3.53" height="5.37" fill="#455cbe"/>
<rect x="632.61" y="59.33" width="3.53" height="5.37" fill="#6179d0"/>
<rect x="635.44" y="59.33" width="3.53" height="5.37" fill="#8699dc"/>
<rect x="638.27" y="59.33" width="3.53" height="5.37" fill="#566dc8"/>
<rect x="641.09" y="59.33" width="3.53" height="5.37" fill="#4f67c5"/>
<rect x="643.92" y="59.33" width="3.53" height="5.37" fill="#6179d0"/>
<rect x="646.75" y="59.33" width="3.53" height="5.37" fill="#7b90d9"/>
<rect x="649.58" y="59.33" width="3.53" height="5.37" fill="#94a4e0"/>
<rect x="652.40" y="59.33" width="3.53" height="5.37" fill="#637bd1"/>
<rect x="655.23" y="59.33" width="3.53" height="5.37" fill="#a9b5e6"/>
<rect x="658.06" y="59.33" width="3.53" height="5.37" fill="#4158bc"/>
<rect x="660.88" y="59.33" width="3.53" height="5.37" fill="#566ec9"/>
<rect x="663.71" y="59.33" width="3.53" height="5.37" fill="#435abd"/>
<rect x="666.54" y="59.33" width="3.53" height="5.37" fill="#556cc8"/>
<rect x="669.36" y="59.33" width="3.53" height="5.37" fill="#5870ca"/>
<rect x="672.19" y="59.33" width="3.53" height="5.37" fill="#5169c6"/>
<rect x="675.02" y="59.33" width="3.53" height="5.37" fill="#4d64c3"/>
<rect x="677.85" y="59.33" width="3.53" height="5.37" fill="#b4bee9"/>
<rect x="680.67" y="59.33" width="3.53" height="5.37" fill="#5970cb"/>
<text x="546.6" y="64.10" font-size="4.4" text-anchor="end" fill="#000" stroke="#000" stroke-width="0.12" font-weight="normal">AIP</text>
<rect x="547.80" y="64.00" width="3.53" height="5.37" fill="#5c74cc"/>
<rect x="550.63" y="64.00" width="3.53" height="5.37" fill="#cbd2f0"/>
<rect x="553.45" y="64.00" width="3.53" height="5.37" fill="#7a8fd9"/>
<rect x="556.28" y="64.00" width="3.53" height="5.37" fill="#4158bc"/>
<rect x="559.11" y="64.00" width="3.53" height="5.37" fill="#667ed3"/>
<rect x="561.94" y="64.00" width="3.53" height="5.37" fill="#566dc8"/>
<rect x="564.76" y="64.00" width="3.53" height="5.37" fill="#b6c0ea"/>
<rect x="567.59" y="64.00" width="3.53" height="5.37" fill="#5a71cb"/>
<rect x="570.42" y="64.00" width="3.53" height="5.37" fill="#526ac7"/>
<rect x="573.24" y="64.00" width="3.53" height="5.37" fill="#3d53b9"/>
<rect x="576.07" y="64.00" width="3.53" height="5.37" fill="#7b90d9"/>
<rect x="578.90" y="64.00" width="3.53" height="5.37" fill="#6880d4"/>
<rect x="581.72" y="64.00" width="3.53" height="5.37" fill="#a2b0e4"/>
<rect x="584.55" y="64.00" width="3.53" height="5.37" fill="#8b9dde"/>
<rect x="587.38" y="64.00" width="3.53" height="5.37" fill="#6e85d6"/>
<rect x="590.21" y="64.00" width="3.53" height="5.37" fill="#8c9ede"/>
<rect x="593.03" y="64.00" width="3.53" height="5.37" fill="#bfc7ec"/>
<rect x="595.86" y="64.00" width="3.53" height="5.37" fill="#6880d4"/>
<rect x="598.69" y="64.00" width="3.53" height="5.37" fill="#5067c5"/>
<rect x="601.51" y="64.00" width="3.53" height="5.37" fill="#4960c1"/>
<rect x="604.34" y="64.00" width="3.53" height="5.37" fill="#778dd8"/>
<rect x="607.17" y="64.00" width="3.53" height="5.37" fill="#b5c0ea"/>
<rect x="610.00" y="64.00" width="3.53" height="5.37" fill="#5067c5"/>
<rect x="612.82" y="64.00" width="3.53" height="5.37" fill="#4c63c2"/>
<rect x="615.65" y="64.00" width="3.53" height="5.37" fill="#5d75cd"/>
<rect x="618.48" y="64.00" width="3.53" height="5.37" fill="#5971cb"/>
<rect x="621.30" y="64.00" width="3.53" height="5.37" fill="#5f77ce"/>
<rect x="624.13" y="64.00" width="3.53" height="5.37" fill="#677fd3"/>
<rect x="626.96" y="64.00" width="3.53" height="5.37" fill="#8598dc"/>
<rect x="629.79" y="64.00" width="3.53" height="5.37" fill="#778cd8"/>
<rect x="632.61" y="64.00" width="3.53" height="5.37" fill="#5269c6"/>
<rect x="635.44" y="64.00" width="3.53" height="5.37" fill="#475ebf"/>
<rect x="638.27" y="64.00" width="3.53" height="5.37" fill="#6078cf"/>
<rect x="641.09" y="64.00" width="3.53" height="5.37" fill="#6981d4"/>
<rect x="643.92" y="64.00" width="3.53" height="5.37" fill="#4960c1"/>
<rect x="646.75" y="64.00" width="3.53" height="5.37" fill="#556cc8"/>
<rect x="649.58" y="64.00" width="3.53" height="5.37" fill="#a4b1e5"/>
<rect x="652.40" y="64.00" width="3.53" height="5.37" fill="#93a3e0"/>
<rect x="655.23" y="64.00" width="3.53" height="5.37" fill="#93a4e0"/>
<rect x="658.06" y="64.00" width="3.53" height="5.37" fill="#6279d0"/>
<rect x="660.88" y="64.00" width="3.53" height="5.37" fill="#6078cf"/>
<rect x="663.71" y="64.00" width="3.53" height="5.37" fill="#8497dc"/>
<rect x="666.54" y="64.00" width="3.53" height="5.37" fill="#6880d4"/>
<rect x="669.36" y="64.00" width="3.53" height="5.37" fill="#cad1f0"/>
<rect x="672.19" y="64.00" width="3.53" height="5.37" fill="#536ac7"/>
<rect x="675.02" y="64.00" width="3.53" height="5.37" fill="#5970ca"/>
<rect x="677.85" y="64.00" width="3.53" height="5.37" fill="#a9b5e6"/>
<rect x="680.67" y="64.00" width="3.53" height="5.37" fill="#5d74cd"/>
<text x="546.6" y="68.77" font-size="4.4" text-anchor="end" fill="#000" stroke="#000" stroke-width="0.12" font-weight="normal">PCBD2</text>
<rect x="547.80" y="68.67" width="3.53" height="5.37" fill="#97a6e1"/>
<rect x="550.63" y="68.67" width="3.53" height="5.37" fill="#778cd8"/>
<rect x="553.45" y="68.67" width="3.53" height="5.37" fill="#8a9cde"/>
<rect x="556.28" y="68.67" width="3.53" height="5.37" fill="#6179d0"/>
<rect x="559.11" y="68.67" width="3.53" height="5.37" fill="#455cbe"/>
<rect x="561.94" y="68.67" width="3.53" height="5.37" fill="#5970ca"/>
<rect x="564.76" y="68.67" width="3.53" height="5.37" fill="#d6daf3"/>
<rect x="567.59" y="68.67" width="3.53" height="5.37" fill="#a0aee4"/>
<rect x="570.42" y="68.67" width="3.53" height="5.37" fill="#758bd8"/>
<rect x="573.24" y="68.67" width="3.53" height="5.37" fill="#8295db"/>
<rect x="576.07" y="68.67" width="3.53" height="5.37" fill="#96a6e1"/>
<rect x="578.90" y="68.67" width="3.53" height="5.37" fill="#c3cbee"/>
<rect x="581.72" y="68.67" width="3.53" height="5.37" fill="#a2afe4"/>
<rect x="584.55" y="68.67" width="3.53" height="5.37" fill="#99a9e2"/>
<rect x="587.38" y="68.67" width="3.53" height="5.37" fill="#b7c1ea"/>
<rect x="590.21" y="68.67" width="3.53" height="5.37" fill="#637bd1"/>
<rect x="593.03" y="68.67" width="3.53" height="5.37" fill="#6a81d5"/>
<rect x="595.86" y="68.67" width="3.53" height="5.37" fill="#667ed3"/>
<rect x="598.69" y="68.67" width="3.53" height="5.37" fill="#5b73cc"/>
<rect x="601.51" y="68.67" width="3.53" height="5.37" fill="#778cd8"/>
<rect x="604.34" y="68.67" width="3.53" height="5.37" fill="#5f77cf"/>
<rect x="607.17" y="68.67" width="3.53" height="5.37" fill="#4c63c2"/>
<rect x="610.00" y="68.67" width="3.53" height="5.37" fill="#566ec9"/>
<rect x="612.82" y="68.67" width="3.53" height="5.37" fill="#97a7e1"/>
<rect x="615.65" y="68.67" width="3.53" height="5.37" fill="#758bd8"/>
<rect x="618.48" y="68.67" width="3.53" height="5.37" fill="#8598dc"/>
<rect x="621.30" y="68.67" width="3.53" height="5.37" fill="#8699dd"/>
<rect x="624.13" y="68.67" width="3.53" height="5.37" fill="#8295db"/>
<rect x="626.96" y="68.67" width="3.53" height="5.37" fill="#788dd9"/>
<rect x="629.79" y="68.67" width="3.53" height="5.37" fill="#b8c2ea"/>
<rect x="632.61" y="68.67" width="3.53" height="5.37" fill="#3f55ba"/>
<rect x="635.44" y="68.67" width="3.53" height="5.37" fill="#a7b4e6"/>
<rect x="638.27" y="68.67" width="3.53" height="5.37" fill="#6078cf"/>
<rect x="641.09" y="68.67" width="3.53" height="5.37" fill="#677fd3"/>
<rect x="643.92" y="68.67" width="3.53" height="5.37" fill="#c7ceef"/>
<rect x="646.75" y="68.67" width="3.53" height="5.37" fill="#6f86d6"/>
<rect x="649.58" y="68.67" width="3.53" height="5.37" fill="#dbdef4"/>
<rect x="652.40" y="68.67" width="3.53" height="5.37" fill="#99a8e2"/>
<rect x="655.23" y="68.67" width="3.53" height="5.37" fill="#6077cf"/>
<rect x="658.06" y="68.67" width="3.53" height="5.37" fill="#6f85d6"/>
<rect x="660.88" y="68.67" width="3.53" height="5.37" fill="#8b9dde"/>
<rect x="663.71" y="68.67" width="3.53" height="5.37" fill="#798ed9"/>
<rect x="666.54" y="68.67" width="3.53" height="5.37" fill="#3d53b9"/>
<rect x="669.36" y="68.67" width="3.53" height="5.37" fill="#6b82d5"/>
<rect x="672.19" y="68.67" width="3.53" height="5.37" fill="#6c83d5"/>
<rect x="675.02" y="68.67" width="3.53" height="5.37" fill="#4d65c3"/>
<rect x="677.85" y="68.67" width="3.53" height="5.37" fill="#c7ceef"/>
<rect x="680.67" y="68.67" width="3.53" height="5.37" fill="#6179d0"/>
<text x="546.6" y="73.43" font-size="4.4" text-anchor="end" fill="#000" stroke="#000" stroke-width="0.12" font-weight="normal">DMPK</text>
<rect x="547.80" y="73.33" width="3.53" height="5.37" fill="#5e76ce"/>
<rect x="550.63" y="73.33" width="3.53" height="5.37" fill="#748ad7"/>
<rect x="553.45" y="73.33" width="3.53" height="5.37" fill="#6c83d5"/>
<rect x="556.28" y="73.33" width="3.53" height="5.37" fill="#5c74cd"/>
<rect x="559.11" y="73.33" width="3.53" height="5.37" fill="#677fd3"/>
<rect x="561.94" y="73.33" width="3.53" height="5.37" fill="#8698dc"/>
<rect x="564.76" y="73.33" width="3.53" height="5.37" fill="#6e85d6"/>
<rect x="567.59" y="73.33" width="3.53" height="5.37" fill="#8a9cde"/>
<rect x="570.42" y="73.33" width="3.53" height="5.37" fill="#4a61c1"/>
<rect x="573.24" y="73.33" width="3.53" height="5.37" fill="#788dd9"/>
<rect x="576.07" y="73.33" width="3.53" height="5.37" fill="#6880d4"/>
<rect x="578.90" y="73.33" width="3.53" height="5.37" fill="#aab6e7"/>
<rect x="581.72" y="73.33" width="3.53" height="5.37" fill="#8fa0df"/>
<rect x="584.55" y="73.33" width="3.53" height="5.37" fill="#95a5e1"/>
<rect x="587.38" y="73.33" width="3.53" height="5.37" fill="#a0aee4"/>
<rect x="590.21" y="73.33" width="3.53" height="5.37" fill="#566dc9"/>
<rect x="593.03" y="73.33" width="3.53" height="5.37" fill="#dbdef4"/>
<rect x="595.86" y="73.33" width="3.53" height="5.37" fill="#7389d7"/>
<rect x="598.69" y="73.33" width="3.53" height="5.37" fill="#6981d4"/>
<rect x="601.51" y="73.33" width="3.53" height="5.37" fill="#586fca"/>
<rect x="604.34" y="73.33" width="3.53" height="5.37" fill="#bdc6ec"/>
<rect x="607.17" y="73.33" width="3.53" height="5.37" fill="#9caae3"/>
<rect x="610.00" y="73.33" width="3.53" height="5.37" fill="#677fd4"/>
<rect x="612.82" y="73.33" width="3.53" height="5.37" fill="#485fc0"/>
<rect x="615.65" y="73.33" width="3.53" height="5.37" fill="#6a82d5"/>
<rect x="618.48" y="73.33" width="3.53" height="5.37" fill="#a0aee4"/>
<rect x="621.30" y="73.33" width="3.53" height="5.37" fill="#798ed9"/>
<rect x="624.13" y="73.33" width="3.53" height="5.37" fill="#5b72cc"/>
<rect x="626.96" y="73.33" width="3.53" height="5.37" fill="#4960c0"/>
<rect x="629.79" y="73.33" width="3.53" height="5.37" fill="#677fd4"/>
<rect x="632.61" y="73.33" width="3.53" height="5.37" fill="#657cd2"/>
<rect x="635.44" y="73.33" width="3.53" height="5.37" fill="#627ad0"/>
<rect x="638.27" y="73.33" width="3.53" height="5.37" fill="#647cd2"/>
<rect x="641.09" y="73.33" width="3.53" height="5.37" fill="#dbdef4"/>
<rect x="643.92" y="73.33" width="3.53" height="5.37" fill="#b5bfea"/>
<rect x="646.75" y="73.33" width="3.53" height="5.37" fill="#5e75ce"/>
<rect x="649.58" y="73.33" width="3.53" height="5.37" fill="#c3cbee"/>
<rect x="652.40" y="73.33" width="3.53" height="5.37" fill="#7d91da"/>
<rect x="655.23" y="73.33" width="3.53" height="5.37" fill="#8396dc"/>
<rect x="658.06" y="73.33" width="3.53" height="5.37" fill="#8d9ede"/>
<rect x="660.88" y="73.33" width="3.53" height="5.37" fill="#6880d4"/>
<rect x="663.71" y="73.33" width="3.53" height="5.37" fill="#788ed9"/>
<rect x="666.54" y="73.33" width="3.53" height="5.37" fill="#6981d4"/>
<rect x="669.36" y="73.33" width="3.53" height="5.37" fill="#7c91da"/>
<rect x="672.19" y="73.33" width="3.53" height="5.37" fill="#b0bbe8"/>
<rect x="675.02" y="73.33" width="3.53" height="5.37" fill="#889add"/>
<rect x="677.85" y="73.33" width="3.53" height="5.37" fill="#5b72cc"/>
<rect x="680.67" y="73.33" width="3.53" height="5.37" fill="#6178cf"/>
<text x="546.6" y="78.10" font-size="4.4" text-anchor="end" fill="#000" stroke="#000" stroke-width="0.12" font-weight="normal">FAM185A</text>
<rect x="547.80" y="78.00" width="3.53" height="5.37" fill="#5971cb"/>
<rect x="550.63" y="78.00" width="3.53" height="5.37" fill="#aab6e7"/>
<rect x="553.45" y="78.00" width="3.53" height="5.37" fill="#9dabe3"/>
<rect x="556.28" y="78.00" width="3.53" height="5.37" fill="#9dabe3"/>
<rect x="559.11" y="78.00" width="3.53" height="5.37" fill="#6880d4"/>
<rect x="561.94" y="78.00" width="3.53" height="5.37" fill="#4d64c3"/>
<rect x="564.76" y="78.00" width="3.53" height="5.37" fill="#9dabe3"/>
<rect x="567.59" y="78.00" width="3.53" height="5.37" fill="#9fade3"/>
<rect x="570.42" y="78.00" width="3.53" height="5.37" fill="#8194db"/>
<rect x="573.24" y="78.00" width="3.53" height="5.37" fill="#4f66c4"/>
<rect x="576.07" y="78.00" width="3.53" height="5.37" fill="#92a2e0"/>
<rect x="578.90" y="78.00" width="3.53" height="5.37" fill="#8d9ede"/>
<rect x="581.72" y="78.00" width="3.53" height="5.37" fill="#a0aee4"/>
<rect x="584.55" y="78.00" width="3.53" height="5.37" fill="#c0c9ed"/>
<rect x="587.38" y="78.00" width="3.53" height="5.37" fill="#adb9e7"/>
<rect x="590.21" y="78.00" width="3.53" height="5.37" fill="#6078cf"/>
<rect x="593.03" y="78.00" width="3.53" height="5.37" fill="#6a81d4"/>
<rect x="595.86" y="78.00" width="3.53" height="5.37" fill="#4056bb"/>
<rect x="598.69" y="78.00" width="3.53" height="5.37" fill="#627ad0"/>
<rect x="601.51" y="78.00" width="3.53" height="5.37" fill="#9baae2"/>
<rect x="604.34" y="78.00" width="3.53" height="5.37" fill="#8195db"/>
<rect x="607.17" y="78.00" width="3.53" height="5.37" fill="#3b52b8"/>
<rect x="610.00" y="78.00" width="3.53" height="5.37" fill="#536bc7"/>
<rect x="612.82" y="78.00" width="3.53" height="5.37" fill="#788dd9"/>
<rect x="615.65" y="78.00" width="3.53" height="5.37" fill="#cbd1f0"/>
<rect x="618.48" y="78.00" width="3.53" height="5.37" fill="#bec6ec"/>
<rect x="621.30" y="78.00" width="3.53" height="5.37" fill="#a4b1e5"/>
<rect x="624.13" y="78.00" width="3.53" height="5.37" fill="#8d9fdf"/>
<rect x="626.96" y="78.00" width="3.53" height="5.37" fill="#4f66c4"/>
<rect x="629.79" y="78.00" width="3.53" height="5.37" fill="#7c90da"/>
<rect x="632.61" y="78.00" width="3.53" height="5.37" fill="#6179d0"/>
<rect x="635.44" y="78.00" width="3.53" height="5.37" fill="#637bd1"/>
<rect x="638.27" y="78.00" width="3.53" height="5.37" fill="#6a81d5"/>
<rect x="641.09" y="78.00" width="3.53" height="5.37" fill="#7288d7"/>
<rect x="643.92" y="78.00" width="3.53" height="5.37" fill="#8195db"/>
<rect x="646.75" y="78.00" width="3.53" height="5.37" fill="#c0c8ed"/>
<rect x="649.58" y="78.00" width="3.53" height="5.37" fill="#dbdef4"/>
<rect x="652.40" y="78.00" width="3.53" height="5.37" fill="#92a2e0"/>
<rect x="655.23" y="78.00" width="3.53" height="5.37" fill="#8799dd"/>
<rect x="658.06" y="78.00" width="3.53" height="5.37" fill="#4a61c1"/>
<rect x="660.88" y="78.00" width="3.53" height="5.37" fill="#788dd8"/>
<rect x="663.71" y="78.00" width="3.53" height="5.37" fill="#a4b1e5"/>
<rect x="666.54" y="78.00" width="3.53" height="5.37" fill="#5f77cf"/>
<rect x="669.36" y="78.00" width="3.53" height="5.37" fill="#bcc5ec"/>
<rect x="672.19" y="78.00" width="3.53" height="5.37" fill="#768bd8"/>
<rect x="675.02" y="78.00" width="3.53" height="5.37" fill="#7f93da"/>
<rect x="677.85" y="78.00" width="3.53" height="5.37" fill="#7e92da"/>
<rect x="680.67" y="78.00" width="3.53" height="5.37" fill="#546bc7"/>
<text x="546.6" y="82.77" font-size="4.4" text-anchor="end" fill="#000" stroke="#000" stroke-width="0.12" font-weight="normal">RNF144B</text>
<rect x="547.80" y="82.67" width="3.53" height="5.37" fill="#c5cdee"/>
<rect x="550.63" y="82.67" width="3.53" height="5.37" fill="#637bd1"/>
<rect x="553.45" y="82.67" width="3.53" height="5.37" fill="#bec7ec"/>
<rect x="556.28" y="82.67" width="3.53" height="5.37" fill="#677fd4"/>
<rect x="559.11" y="82.67" width="3.53" height="5.37" fill="#7a8fd9"/>
<rect x="561.94" y="82.67" width="3.53" height="5.37" fill="#667ed3"/>
<rect x="564.76" y="82.67" width="3.53" height="5.37" fill="#7e92da"/>
<rect x="567.59" y="82.67" width="3.53" height="5.37" fill="#c0c8ed"/>
<rect x="570.42" y="82.67" width="3.53" height="5.37" fill="#c1c9ed"/>
<rect x="573.24" y="82.67" width="3.53" height="5.37" fill="#5a72cc"/>
<rect x="576.07" y="82.67" width="3.53" height="5.37" fill="#94a4e0"/>
<rect x="578.90" y="82.67" width="3.53" height="5.37" fill="#d5d9f3"/>
<rect x="581.72" y="82.67" width="3.53" height="5.37" fill="#a7b4e6"/>
<rect x="584.55" y="82.67" width="3.53" height="5.37" fill="#d4d9f2"/>
<rect x="587.38" y="82.67" width="3.53" height="5.37" fill="#8397dc"/>
<rect x="590.21" y="82.67" width="3.53" height="5.37" fill="#9ba9e2"/>
<rect x="593.03" y="82.67" width="3.53" height="5.37" fill="#c7ceef"/>
<rect x="595.86" y="82.67" width="3.53" height="5.37" fill="#b3bee9"/>
<rect x="598.69" y="82.67" width="3.53" height="5.37" fill="#889add"/>
<rect x="601.51" y="82.67" width="3.53" height="5.37" fill="#556cc8"/>
<rect x="604.34" y="82.67" width="3.53" height="5.37" fill="#a4b1e5"/>
<rect x="607.17" y="82.67" width="3.53" height="5.37" fill="#556dc8"/>
<rect x="610.00" y="82.67" width="3.53" height="5.37" fill="#8698dc"/>
<rect x="612.82" y="82.67" width="3.53" height="5.37" fill="#aab6e7"/>
<rect x="615.65" y="82.67" width="3.53" height="5.37" fill="#a4b1e5"/>
<rect x="618.48" y="82.67" width="3.53" height="5.37" fill="#7c91da"/>
<rect x="621.30" y="82.67" width="3.53" height="5.37" fill="#cbd1f0"/>
<rect x="624.13" y="82.67" width="3.53" height="5.37" fill="#91a2e0"/>
<rect x="626.96" y="82.67" width="3.53" height="5.37" fill="#4e65c4"/>
<rect x="629.79" y="82.67" width="3.53" height="5.37" fill="#8598dc"/>
<rect x="632.61" y="82.67" width="3.53" height="5.37" fill="#a7b4e6"/>
<rect x="635.44" y="82.67" width="3.53" height="5.37" fill="#778cd8"/>
<rect x="638.27" y="82.67" width="3.53" height="5.37" fill="#7188d7"/>
<rect x="641.09" y="82.67" width="3.53" height="5.37" fill="#798ed9"/>
<rect x="643.92" y="82.67" width="3.53" height="5.37" fill="#4e65c4"/>
<rect x="646.75" y="82.67" width="3.53" height="5.37" fill="#768bd8"/>
<rect x="649.58" y="82.67" width="3.53" height="5.37" fill="#d0d6f1"/>
<rect x="652.40" y="82.67" width="3.53" height="5.37" fill="#8e9fdf"/>
<rect x="655.23" y="82.67" width="3.53" height="5.37" fill="#8fa0df"/>
<rect x="658.06" y="82.67" width="3.53" height="5.37" fill="#4057bb"/>
<rect x="660.88" y="82.67" width="3.53" height="5.37" fill="#b4bee9"/>
<rect x="663.71" y="82.67" width="3.53" height="5.37" fill="#b0bbe8"/>
<rect x="666.54" y="82.67" width="3.53" height="5.37" fill="#afbae8"/>
<rect x="669.36" y="82.67" width="3.53" height="5.37" fill="#c3caed"/>
<rect x="672.19" y="82.67" width="3.53" height="5.37" fill="#768cd8"/>
<rect x="675.02" y="82.67" width="3.53" height="5.37" fill="#627ad0"/>
<rect x="677.85" y="82.67" width="3.53" height="5.37" fill="#9eace3"/>
<rect x="680.67" y="82.67" width="3.53" height="5.37" fill="#bdc5ec"/>
<text x="546.6" y="87.43" font-size="4.4" text-anchor="end" fill="#000" stroke="#000" stroke-width="0.12" font-weight="normal">ATP5G3</text>
<rect x="547.80" y="87.33" width="3.53" height="5.37" fill="#4c64c3"/>
<rect x="550.63" y="87.33" width="3.53" height="5.37" fill="#899bdd"/>
<rect x="553.45" y="87.33" width="3.53" height="5.37" fill="#8094db"/>
<rect x="556.28" y="87.33" width="3.53" height="5.37" fill="#9aa9e2"/>
<rect x="559.11" y="87.33" width="3.53" height="5.37" fill="#b0bbe8"/>
<rect x="561.94" y="87.33" width="3.53" height="5.37" fill="#7f92da"/>
<rect x="564.76" y="87.33" width="3.53" height="5.37" fill="#657dd2"/>
<rect x="567.59" y="87.33" width="3.53" height="5.37" fill="#a2afe4"/>
<rect x="570.42" y="87.33" width="3.53" height="5.37" fill="#6a82d5"/>
<rect x="573.24" y="87.33" width="3.53" height="5.37" fill="#4f66c4"/>
<rect x="576.07" y="87.33" width="3.53" height="5.37" fill="#bdc6ec"/>
<rect x="578.90" y="87.33" width="3.53" height="5.37" fill="#9eace3"/>
<rect x="581.72" y="87.33" width="3.53" height="5.37" fill="#dbdef4"/>
<rect x="584.55" y="87.33" width="3.53" height="5.37" fill="#8699dd"/>
<rect x="587.38" y="87.33" width="3.53" height="5.37" fill="#d6daf3"/>
<rect x="590.21" y="87.33" width="3.53" height="5.37" fill="#5a72cb"/>
<rect x="593.03" y="87.33" width="3.53" height="5.37" fill="#dbdef4"/>
<rect x="595.86" y="87.33" width="3.53" height="5.37" fill="#526ac6"/>
<rect x="598.69" y="87.33" width="3.53" height="5.37" fill="#b6c0ea"/>
<rect x="601.51" y="87.33" width="3.53" height="5.37" fill="#6880d4"/>
<rect x="604.34" y="87.33" width="3.53" height="5.37" fill="#5b72cc"/>
<rect x="607.17" y="87.33" width="3.53" height="5.37" fill="#6b83d5"/>
<rect x="610.00" y="87.33" width="3.53" height="5.37" fill="#7a8fd9"/>
<rect x="612.82" y="87.33" width="3.53" height="5.37" fill="#5870ca"/>
<rect x="615.65" y="87.33" width="3.53" height="5.37" fill="#7d91da"/>
<rect x="618.48" y="87.33" width="3.53" height="5.37" fill="#a3b1e5"/>
<rect x="621.30" y="87.33" width="3.53" height="5.37" fill="#99a8e2"/>
<rect x="624.13" y="87.33" width="3.53" height="5.37" fill="#3d54b9"/>
<rect x="626.96" y="87.33" width="3.53" height="5.37" fill="#6179d0"/>
<rect x="629.79" y="87.33" width="3.53" height="5.37" fill="#aab6e7"/>
<rect x="632.61" y="87.33" width="3.53" height="5.37" fill="#7f93da"/>
<rect x="635.44" y="87.33" width="3.53" height="5.37" fill="#b2bde9"/>
<rect x="638.27" y="87.33" width="3.53" height="5.37" fill="#5f76ce"/>
<rect x="641.09" y="87.33" width="3.53" height="5.37" fill="#dbdef4"/>
<rect x="643.92" y="87.33" width="3.53" height="5.37" fill="#9fade3"/>
<rect x="646.75" y="87.33" width="3.53" height="5.37" fill="#9cabe3"/>
<rect x="649.58" y="87.33" width="3.53" height="5.37" fill="#dbdef4"/>
<rect x="652.40" y="87.33" width="3.53" height="5.37" fill="#b2bde9"/>
<rect x="655.23" y="87.33" width="3.53" height="5.37" fill="#9fade4"/>
<rect x="658.06" y="87.33" width="3.53" height="5.37" fill="#6179d0"/>
<rect x="660.88" y="87.33" width="3.53" height="5.37" fill="#b1bce8"/>
<rect x="663.71" y="87.33" width="3.53" height="5.37" fill="#a9b5e6"/>
<rect x="666.54" y="87.33" width="3.53" height="5.37" fill="#526ac6"/>
<rect x="669.36" y="87.33" width="3.53" height="5.37" fill="#677fd3"/>
<rect x="672.19" y="87.33" width="3.53" height="5.37" fill="#a1afe4"/>
<rect x="675.02" y="87.33" width="3.53" height="5.37" fill="#7e92da"/>
<rect x="677.85" y="87.33" width="3.53" height="5.37" fill="#a1afe4"/>
<rect x="680.67" y="87.33" width="3.53" height="5.37" fill="#98a7e1"/>
<text x="546.6" y="92.10" font-size="4.4" text-anchor="end" fill="#000" stroke="#000" stroke-width="0.12" font-weight="normal">METTL17</text>
<rect x="547.80" y="92.00" width="3.53" height="5.37" fill="#8194db"/>
<rect x="550.63" y="92.00" width="3.53" height="5.37" fill="#d9dcf4"/>
<rect x="553.45" y="92.00" width="3.53" height="5.37" fill="#8b9cde"/>
<rect x="556.28" y="92.00" width="3.53" height="5.37" fill="#778dd8"/>
<rect x="559.11" y="92.00" width="3.53" height="5.37" fill="#8699dd"/>
<rect x="561.94" y="92.00" width="3.53" height="5.37" fill="#aebae8"/>
<rect x="564.76" y="92.00" width="3.53" height="5.37" fill="#bac3eb"/>
<rect x="567.59" y="92.00" width="3.53" height="5.37" fill="#dbdef4"/>
<rect x="570.42" y="92.00" width="3.53" height="5.37" fill="#6880d4"/>
<rect x="573.24" y="92.00" width="3.53" height="5.37" fill="#aab6e6"/>
<rect x="576.07" y="92.00" width="3.53" height="5.37" fill="#b1bce8"/>
<rect x="578.90" y="92.00" width="3.53" height="5.37" fill="#8d9fdf"/>
<rect x="581.72" y="92.00" width="3.53" height="5.37" fill="#c6cdee"/>
<rect x="584.55" y="92.00" width="3.53" height="5.37" fill="#dbdef4"/>
<rect x="587.38" y="92.00" width="3.53" height="5.37" fill="#ced4f1"/>
<rect x="590.21" y="92.00" width="3.53" height="5.37" fill="#798ed9"/>
<rect x="593.03" y="92.00" width="3.53" height="5.37" fill="#627ad0"/>
<rect x="595.86" y="92.00" width="3.53" height="5.37" fill="#6e85d6"/>
<rect x="598.69" y="92.00" width="3.53" height="5.37" fill="#677fd3"/>
<rect x="601.51" y="92.00" width="3.53" height="5.37" fill="#8093db"/>
<rect x="604.34" y="92.00" width="3.53" height="5.37" fill="#dbdef4"/>
<rect x="607.17" y="92.00" width="3.53" height="5.37" fill="#99a8e2"/>
<rect x="610.00" y="92.00" width="3.53" height="5.37" fill="#7e92da"/>
<rect x="612.82" y="92.00" width="3.53" height="5.37" fill="#5c74cc"/>
<rect x="615.65" y="92.00" width="3.53" height="5.37" fill="#677fd3"/>
<rect x="618.48" y="92.00" width="3.53" height="5.37" fill="#95a5e1"/>
<rect x="621.30" y="92.00" width="3.53" height="5.37" fill="#91a2e0"/>
<rect x="624.13" y="92.00" width="3.53" height="5.37" fill="#dbdef4"/>
<rect x="626.96" y="92.00" width="3.53" height="5.37" fill="#647cd2"/>
<rect x="629.79" y="92.00" width="3.53" height="5.37" fill="#8497dc"/>
<rect x="632.61" y="92.00" width="3.53" height="5.37" fill="#a6b3e5"/>
<rect x="635.44" y="92.00" width="3.53" height="5.37" fill="#91a2e0"/>
<rect x="638.27" y="92.00" width="3.53" height="5.37" fill="#566dc9"/>
<rect x="641.09" y="92.00" width="3.53" height="5.37" fill="#c6cdee"/>
<rect x="643.92" y="92.00" width="3.53" height="5.37" fill="#768cd8"/>
<rect x="646.75" y="92.00" width="3.53" height="5.37" fill="#637bd1"/>
<rect x="649.58" y="92.00" width="3.53" height="5.37" fill="#d9ddf4"/>
<rect x="652.40" y="92.00" width="3.53" height="5.37" fill="#a4b1e5"/>
<rect x="655.23" y="92.00" width="3.53" height="5.37" fill="#92a3e0"/>
<rect x="658.06" y="92.00" width="3.53" height="5.37" fill="#96a6e1"/>
<rect x="660.88" y="92.00" width="3.53" height="5.37" fill="#adb9e8"/>
<rect x="663.71" y="92.00" width="3.53" height="5.37" fill="#798ed9"/>
<rect x="666.54" y="92.00" width="3.53" height="5.37" fill="#5269c6"/>
<rect x="669.36" y="92.00" width="3.53" height="5.37" fill="#4f66c4"/>
<rect x="672.19" y="92.00" width="3.53" height="5.37" fill="#8e9fdf"/>
<rect x="675.02" y="92.00" width="3.53" height="5.37" fill="#b1bce9"/>
<rect x="677.85" y="92.00" width="3.53" height="5.37" fill="#c4ccee"/>
<rect x="680.67" y="92.00" width="3.53" height="5.37" fill="#bbc4eb"/>
<text x="546.6" y="96.77" font-size="4.4" text-anchor="end" fill="#000" stroke="#000" stroke-width="0.12" font-weight="normal">SLC25A51</text>
<rect x="547.80" y="96.67" width="3.53" height="5.37" fill="#ccd2f0"/>
<rect x="550.63" y="96.67" width="3.53" height="5.37" fill="#9dace3"/>
<rect x="553.45" y="96.67" width="3.53" height="5.37" fill="#d3d8f2"/>
<rect x="556.28" y="96.67" width="3.53" height="5.37" fill="#5b73cc"/>
<rect x="559.11" y="96.67" width="3.53" height="5.37" fill="#9aa9e2"/>
<rect x="561.94" y="96.67" width="3.53" height="5.37" fill="#a5b2e5"/>
<rect x="564.76" y="96.67" width="3.53" height="5.37" fill="#9baae2"/>
<rect x="567.59" y="96.67" width="3.53" height="5.37" fill="#98a7e1"/>
<rect x="570.42" y="96.67" width="3.53" height="5.37" fill="#5d75cd"/>
<rect x="573.24" y="96.67" width="3.53" height="5.37" fill="#8598dc"/>
<rect x="576.07" y="96.67" width="3.53" height="5.37" fill="#d7dbf3"/>
<rect x="578.90" y="96.67" width="3.53" height="5.37" fill="#aebae8"/>
<rect x="581.72" y="96.67" width="3.53" height="5.37" fill="#dbdef4"/>
<rect x="584.55" y="96.67" width="3.53" height="5.37" fill="#abb7e7"/>
<rect x="587.38" y="96.67" width="3.53" height="5.37" fill="#bdc6ec"/>
<rect x="590.21" y="96.67" width="3.53" height="5.37" fill="#6880d4"/>
<rect x="593.03" y="96.67" width="3.53" height="5.37" fill="#d4d8f2"/>
<rect x="595.86" y="96.67" width="3.53" height="5.37" fill="#889add"/>
<rect x="598.69" y="96.67" width="3.53" height="5.37" fill="#95a5e1"/>
<rect x="601.51" y="96.67" width="3.53" height="5.37" fill="#6981d4"/>
<rect x="604.34" y="96.67" width="3.53" height="5.37" fill="#6880d4"/>
<rect x="607.17" y="96.67" width="3.53" height="5.37" fill="#7288d7"/>
<rect x="610.00" y="96.67" width="3.53" height="5.37" fill="#a1afe4"/>
<rect x="612.82" y="96.67" width="3.53" height="5.37" fill="#bcc5ec"/>
<rect x="615.65" y="96.67" width="3.53" height="5.37" fill="#8e9fdf"/>
<rect x="618.48" y="96.67" width="3.53" height="5.37" fill="#c3cbee"/>
<rect x="621.30" y="96.67" width="3.53" height="5.37" fill="#c9cfef"/>
<rect x="624.13" y="96.67" width="3.53" height="5.37" fill="#aab6e7"/>
<rect x="626.96" y="96.67" width="3.53" height="5.37" fill="#4f66c5"/>
<rect x="629.79" y="96.67" width="3.53" height="5.37" fill="#b0bbe8"/>
<rect x="632.61" y="96.67" width="3.53" height="5.37" fill="#5e76ce"/>
<rect x="635.44" y="96.67" width="3.53" height="5.37" fill="#c3cbee"/>
<rect x="638.27" y="96.67" width="3.53" height="5.37" fill="#9cabe3"/>
<rect x="641.09" y="96.67" width="3.53" height="5.37" fill="#afbbe8"/>
<rect x="643.92" y="96.67" width="3.53" height="5.37" fill="#445bbe"/>
<rect x="646.75" y="96.67" width="3.53" height="5.37" fill="#b3bee9"/>
<rect x="649.58" y="96.67" width="3.53" height="5.37" fill="#dbdef4"/>
<rect x="652.40" y="96.67" width="3.53" height="5.37" fill="#647cd2"/>
<rect x="655.23" y="96.67" width="3.53" height="5.37" fill="#cdd3f0"/>
<rect x="658.06" y="96.67" width="3.53" height="5.37" fill="#8195db"/>
<rect x="660.88" y="96.67" width="3.53" height="5.37" fill="#899bdd"/>
<rect x="663.71" y="96.67" width="3.53" height="5.37" fill="#8598dc"/>
<rect x="666.54" y="96.67" width="3.53" height="5.37" fill="#6b82d5"/>
<rect x="669.36" y="96.67" width="3.53" height="5.37" fill="#8b9dde"/>
<rect x="672.19" y="96.67" width="3.53" height="5.37" fill="#dbdef4"/>
<rect x="675.02" y="96.67" width="3.53" height="5.37" fill="#8c9ede"/>
<rect x="677.85" y="96.67" width="3.53" height="5.37" fill="#a9b5e6"/>
<rect x="680.67" y="96.67" width="3.53" height="5.37" fill="#6d84d5"/>
<text x="546.6" y="101.43" font-size="4.4" text-anchor="end" fill="#000" stroke="#000" stroke-width="0.12" font-weight="normal">STARD3</text>
<rect x="547.80" y="101.33" width="3.53" height="5.37" fill="#6c83d5"/>
<rect x="550.63" y="101.33" width="3.53" height="5.37" fill="#8b9dde"/>
<rect x="553.45" y="101.33" width="3.53" height="5.37" fill="#899bdd"/>
<rect x="556.28" y="101.33" width="3.53" height="5.37" fill="#b6c0ea"/>
<rect x="559.11" y="101.33" width="3.53" height="5.37" fill="#788dd9"/>
<rect x="561.94" y="101.33" width="3.53" height="5.37" fill="#bdc6ec"/>
<rect x="564.76" y="101.33" width="3.53" height="5.37" fill="#748ad8"/>
<rect x="567.59" y="101.33" width="3.53" height="5.37" fill="#d5d9f3"/>
<rect x="570.42" y="101.33" width="3.53" height="5.37" fill="#8497dc"/>
<rect x="573.24" y="101.33" width="3.53" height="5.37" fill="#9fade4"/>
<rect x="576.07" y="101.33" width="3.53" height="5.37" fill="#a4b1e5"/>
<rect x="578.90" y="101.33" width="3.53" height="5.37" fill="#9eace3"/>
<rect x="581.72" y="101.33" width="3.53" height="5.37" fill="#dbdef4"/>
<rect x="584.55" y="101.33" width="3.53" height="5.37" fill="#bac3eb"/>
<rect x="587.38" y="101.33" width="3.53" height="5.37" fill="#b2bde9"/>
<rect x="590.21" y="101.33" width="3.53" height="5.37" fill="#7288d7"/>
<rect x="593.03" y="101.33" width="3.53" height="5.37" fill="#d2d7f2"/>
<rect x="595.86" y="101.33" width="3.53" height="5.37" fill="#8699dc"/>
<rect x="598.69" y="101.33" width="3.53" height="5.37" fill="#99a8e2"/>
<rect x="601.51" y="101.33" width="3.53" height="5.37" fill="#95a5e1"/>
<rect x="604.34" y="101.33" width="3.53" height="5.37" fill="#8194db"/>
<rect x="607.17" y="101.33" width="3.53" height="5.37" fill="#5971cb"/>
<rect x="610.00" y="101.33" width="3.53" height="5.37" fill="#8d9ede"/>
<rect x="612.82" y="101.33" width="3.53" height="5.37" fill="#a6b3e5"/>
<rect x="615.65" y="101.33" width="3.53" height="5.37" fill="#bdc5ec"/>
<rect x="618.48" y="101.33" width="3.53" height="5.37" fill="#798ed9"/>
<rect x="621.30" y="101.33" width="3.53" height="5.37" fill="#c8ceef"/>
<rect x="624.13" y="101.33" width="3.53" height="5.37" fill="#afbae8"/>
<rect x="626.96" y="101.33" width="3.53" height="5.37" fill="#8799dd"/>
<rect x="629.79" y="101.33" width="3.53" height="5.37" fill="#b9c3eb"/>
<rect x="632.61" y="101.33" width="3.53" height="5.37" fill="#748ad8"/>
<rect x="635.44" y="101.33" width="3.53" height="5.37" fill="#a1afe4"/>
<rect x="638.27" y="101.33" width="3.53" height="5.37" fill="#a7b3e6"/>
<rect x="641.09" y="101.33" width="3.53" height="5.37" fill="#8799dd"/>
<rect x="643.92" y="101.33" width="3.53" height="5.37" fill="#5d75cd"/>
<rect x="646.75" y="101.33" width="3.53" height="5.37" fill="#9baae2"/>
<rect x="649.58" y="101.33" width="3.53" height="5.37" fill="#dbdef4"/>
<rect x="652.40" y="101.33" width="3.53" height="5.37" fill="#5b73cc"/>
<rect x="655.23" y="101.33" width="3.53" height="5.37" fill="#8fa0df"/>
<rect x="658.06" y="101.33" width="3.53" height="5.37" fill="#9caae3"/>
<rect x="660.88" y="101.33" width="3.53" height="5.37" fill="#90a1df"/>
<rect x="663.71" y="101.33" width="3.53" height="5.37" fill="#abb7e7"/>
<rect x="666.54" y="101.33" width="3.53" height="5.37" fill="#677fd3"/>
<rect x="669.36" y="101.33" width="3.53" height="5.37" fill="#c7ceef"/>
<rect x="672.19" y="101.33" width="3.53" height="5.37" fill="#dbdef4"/>
<rect x="675.02" y="101.33" width="3.53" height="5.37" fill="#8194db"/>
<rect x="677.85" y="101.33" width="3.53" height="5.37" fill="#879add"/>
<rect x="680.67" y="101.33" width="3.53" height="5.37" fill="#637ad1"/>
<text x="546.6" y="106.10" font-size="4.4" text-anchor="end" fill="#000" stroke="#000" stroke-width="0.12" font-weight="normal">ASAH2</text>
<rect x="547.80" y="106.00" width="3.53" height="5.37" fill="#b1bce9"/>
<rect x="550.63" y="106.00" width="3.53" height="5.37" fill="#aeb9e8"/>
<rect x="553.45" y="106.00" width="3.53" height="5.37" fill="#94a4e0"/>
<rect x="556.28" y="106.00" width="3.53" height="5.37" fill="#cbd2f0"/>
<rect x="559.11" y="106.00" width="3.53" height="5.37" fill="#aab6e7"/>
<rect x="561.94" y="106.00" width="3.53" height="5.37" fill="#bac4eb"/>
<rect x="564.76" y="106.00" width="3.53" height="5.37" fill="#667ed3"/>
<rect x="567.59" y="106.00" width="3.53" height="5.37" fill="#b2bde9"/>
<rect x="570.42" y="106.00" width="3.53" height="5.37" fill="#a7b3e6"/>
<rect x="573.24" y="106.00" width="3.53" height="5.37" fill="#6179cf"/>
<rect x="576.07" y="106.00" width="3.53" height="5.37" fill="#d6daf3"/>
<rect x="578.90" y="106.00" width="3.53" height="5.37" fill="#dbdef4"/>
<rect x="581.72" y="106.00" width="3.53" height="5.37" fill="#dbdef4"/>
<rect x="584.55" y="106.00" width="3.53" height="5.37" fill="#b6c0ea"/>
<rect x="587.38" y="106.00" width="3.53" height="5.37" fill="#a3b0e5"/>
<rect x="590.21" y="106.00" width="3.53" height="5.37" fill="#c5ccee"/>
<rect x="593.03" y="106.00" width="3.53" height="5.37" fill="#dbdef4"/>
<rect x="595.86" y="106.00" width="3.53" height="5.37" fill="#d0d5f1"/>
<rect x="598.69" y="106.00" width="3.53" height="5.37" fill="#c6cdee"/>
<rect x="601.51" y="106.00" width="3.53" height="5.37" fill="#8a9cde"/>
<rect x="604.34" y="106.00" width="3.53" height="5.37" fill="#94a4e0"/>
<rect x="607.17" y="106.00" width="3.53" height="5.37" fill="#546bc7"/>
<rect x="610.00" y="106.00" width="3.53" height="5.37" fill="#a3b1e5"/>
<rect x="612.82" y="106.00" width="3.53" height="5.37" fill="#dbdef4"/>
<rect x="615.65" y="106.00" width="3.53" height="5.37" fill="#95a5e1"/>
<rect x="618.48" y="106.00" width="3.53" height="5.37" fill="#9caae3"/>
<rect x="621.30" y="106.00" width="3.53" height="5.37" fill="#d1d6f2"/>
<rect x="624.13" y="106.00" width="3.53" height="5.37" fill="#b6c0ea"/>
<rect x="626.96" y="106.00" width="3.53" height="5.37" fill="#5971cb"/>
<rect x="629.79" y="106.00" width="3.53" height="5.37" fill="#92a3e0"/>
<rect x="632.61" y="106.00" width="3.53" height="5.37" fill="#627ad0"/>
<rect x="635.44" y="106.00" width="3.53" height="5.37" fill="#dbdef4"/>
<rect x="638.27" y="106.00" width="3.53" height="5.37" fill="#6b83d5"/>
<rect x="641.09" y="106.00" width="3.53" height="5.37" fill="#c6cdee"/>
<rect x="643.92" y="106.00" width="3.53" height="5.37" fill="#dbdef4"/>
<rect x="646.75" y="106.00" width="3.53" height="5.37" fill="#dbdef4"/>
<rect x="649.58" y="106.00" width="3.53" height="5.37" fill="#dbdef4"/>
<rect x="652.40" y="106.00" width="3.53" height="5.37" fill="#dbdef4"/>
<rect x="655.23" y="106.00" width="3.53" height="5.37" fill="#7f93db"/>
<rect x="658.06" y="106.00" width="3.53" height="5.37" fill="#7d91da"/>
<rect x="660.88" y="106.00" width="3.53" height="5.37" fill="#8094db"/>
<rect x="663.71" y="106.00" width="3.53" height="5.37" fill="#a3b0e5"/>
<rect x="666.54" y="106.00" width="3.53" height="5.37" fill="#dbdef4"/>
<rect x="669.36" y="106.00" width="3.53" height="5.37" fill="#667ed3"/>
<rect x="672.19" y="106.00" width="3.53" height="5.37" fill="#bcc5ec"/>
<rect x="675.02" y="106.00" width="3.53" height="5.37" fill="#637bd1"/>
<rect x="677.85" y="106.00" width="3.53" height="5.37" fill="#dbdef4"/>
<rect x="680.67" y="106.00" width="3.53" height="5.37" fill="#cad0ef"/>
<text x="546.6" y="110.77" font-size="4.4" text-anchor="end" fill="#000" stroke="#000" stroke-width="0.12" font-weight="normal">PDK3</text>
<rect x="547.80" y="110.67" width="3.53" height="5.37" fill="#8194db"/>
<rect x="550.63" y="110.67" width="3.53" height="5.37" fill="#dbdef4"/>
<rect x="553.45" y="110.67" width="3.53" height="5.37" fill="#bfc8ed"/>
<rect x="556.28" y="110.67" width="3.53" height="5.37" fill="#d3d8f2"/>
<rect x="559.11" y="110.67" width="3.53" height="5.37" fill="#9fade3"/>
<rect x="561.94" y="110.67" width="3.53" height="5.37" fill="#94a4e0"/>
<rect x="564.76" y="110.67" width="3.53" height="5.37" fill="#a5b2e5"/>
<rect x="567.59" y="110.67" width="3.53" height="5.37" fill="#bac3eb"/>
<rect x="570.42" y="110.67" width="3.53" height="5.37" fill="#acb8e7"/>
<rect x="573.24" y="110.67" width="3.53" height="5.37" fill="#98a8e2"/>
<rect x="576.07" y="110.67" width="3.53" height="5.37" fill="#dbdef4"/>
<rect x="578.90" y="110.67" width="3.53" height="5.37" fill="#cad1f0"/>
<rect x="581.72" y="110.67" width="3.53" height="5.37" fill="#d3d8f2"/>
<rect x="584.55" y="110.67" width="3.53" height="5.37" fill="#bfc8ed"/>
<rect x="587.38" y="110.67" width="3.53" height="5.37" fill="#aab6e6"/>
<rect x="590.21" y="110.67" width="3.53" height="5.37" fill="#6e85d6"/>
<rect x="593.03" y="110.67" width="3.53" height="5.37" fill="#b3bde9"/>
<rect x="595.86" y="110.67" width="3.53" height="5.37" fill="#c8cfef"/>
<rect x="598.69" y="110.67" width="3.53" height="5.37" fill="#9fade3"/>
<rect x="601.51" y="110.67" width="3.53" height="5.37" fill="#90a0df"/>
<rect x="604.34" y="110.67" width="3.53" height="5.37" fill="#bac3eb"/>
<rect x="607.17" y="110.67" width="3.53" height="5.37" fill="#bdc5ec"/>
<rect x="610.00" y="110.67" width="3.53" height="5.37" fill="#a2b0e4"/>
<rect x="612.82" y="110.67" width="3.53" height="5.37" fill="#aeb9e8"/>
<rect x="615.65" y="110.67" width="3.53" height="5.37" fill="#9aa9e2"/>
<rect x="618.48" y="110.67" width="3.53" height="5.37" fill="#adb9e7"/>
<rect x="621.30" y="110.67" width="3.53" height="5.37" fill="#a0aee4"/>
<rect x="624.13" y="110.67" width="3.53" height="5.37" fill="#abb7e7"/>
<rect x="626.96" y="110.67" width="3.53" height="5.37" fill="#6b83d5"/>
<rect x="629.79" y="110.67" width="3.53" height="5.37" fill="#a9b5e6"/>
<rect x="632.61" y="110.67" width="3.53" height="5.37" fill="#8a9cde"/>
<rect x="635.44" y="110.67" width="3.53" height="5.37" fill="#9fade4"/>
<rect x="638.27" y="110.67" width="3.53" height="5.37" fill="#8699dc"/>
<rect x="641.09" y="110.67" width="3.53" height="5.37" fill="#98a7e1"/>
<rect x="643.92" y="110.67" width="3.53" height="5.37" fill="#cfd4f1"/>
<rect x="646.75" y="110.67" width="3.53" height="5.37" fill="#a1afe4"/>
<rect x="649.58" y="110.67" width="3.53" height="5.37" fill="#bfc7ec"/>
<rect x="652.40" y="110.67" width="3.53" height="5.37" fill="#b1bce9"/>
<rect x="655.23" y="110.67" width="3.53" height="5.37" fill="#90a1df"/>
<rect x="658.06" y="110.67" width="3.53" height="5.37" fill="#6a81d4"/>
<rect x="660.88" y="110.67" width="3.53" height="5.37" fill="#a9b5e6"/>
<rect x="663.71" y="110.67" width="3.53" height="5.37" fill="#768cd8"/>
<rect x="666.54" y="110.67" width="3.53" height="5.37" fill="#4b62c2"/>
<rect x="669.36" y="110.67" width="3.53" height="5.37" fill="#bcc5ec"/>
<rect x="672.19" y="110.67" width="3.53" height="5.37" fill="#d4d9f2"/>
<rect x="675.02" y="110.67" width="3.53" height="5.37" fill="#6078cf"/>
<rect x="677.85" y="110.67" width="3.53" height="5.37" fill="#92a3e0"/>
<rect x="680.67" y="110.67" width="3.53" height="5.37" fill="#b2bde9"/>
<text x="546.6" y="115.43" font-size="4.4" text-anchor="end" fill="#000" stroke="#000" stroke-width="0.12" font-weight="normal">KARS</text>
<rect x="547.80" y="115.33" width="3.53" height="5.37" fill="#5c74cc"/>
<rect x="550.63" y="115.33" width="3.53" height="5.37" fill="#97a7e1"/>
<rect x="553.45" y="115.33" width="3.53" height="5.37" fill="#96a6e1"/>
<rect x="556.28" y="115.33" width="3.53" height="5.37" fill="#a1afe4"/>
<rect x="559.11" y="115.33" width="3.53" height="5.37" fill="#5b73cc"/>
<rect x="561.94" y="115.33" width="3.53" height="5.37" fill="#d3d8f2"/>
<rect x="564.76" y="115.33" width="3.53" height="5.37" fill="#b5bfea"/>
<rect x="567.59" y="115.33" width="3.53" height="5.37" fill="#d2d7f2"/>
<rect x="570.42" y="115.33" width="3.53" height="5.37" fill="#90a1df"/>
<rect x="573.24" y="115.33" width="3.53" height="5.37" fill="#5970cb"/>
<rect x="576.07" y="115.33" width="3.53" height="5.37" fill="#b9c2eb"/>
<rect x="578.90" y="115.33" width="3.53" height="5.37" fill="#a6b3e5"/>
<rect x="581.72" y="115.33" width="3.53" height="5.37" fill="#dbdef4"/>
<rect x="584.55" y="115.33" width="3.53" height="5.37" fill="#c2caed"/>
<rect x="587.38" y="115.33" width="3.53" height="5.37" fill="#c3cbee"/>
<rect x="590.21" y="115.33" width="3.53" height="5.37" fill="#a5b2e5"/>
<rect x="593.03" y="115.33" width="3.53" height="5.37" fill="#dbdef4"/>
<rect x="595.86" y="115.33" width="3.53" height="5.37" fill="#cbd1f0"/>
<rect x="598.69" y="115.33" width="3.53" height="5.37" fill="#7e92da"/>
<rect x="601.51" y="115.33" width="3.53" height="5.37" fill="#9dace3"/>
<rect x="604.34" y="115.33" width="3.53" height="5.37" fill="#dbdef4"/>
<rect x="607.17" y="115.33" width="3.53" height="5.37" fill="#aebae8"/>
<rect x="610.00" y="115.33" width="3.53" height="5.37" fill="#768cd8"/>
<rect x="612.82" y="115.33" width="3.53" height="5.37" fill="#93a3e0"/>
<rect x="615.65" y="115.33" width="3.53" height="5.37" fill="#aab6e7"/>
<rect x="618.48" y="115.33" width="3.53" height="5.37" fill="#dbdef4"/>
<rect x="621.30" y="115.33" width="3.53" height="5.37" fill="#c7ceef"/>
<rect x="624.13" y="115.33" width="3.53" height="5.37" fill="#c4ccee"/>
<rect x="626.96" y="115.33" width="3.53" height="5.37" fill="#dbdef4"/>
<rect x="629.79" y="115.33" width="3.53" height="5.37" fill="#8a9cde"/>
<rect x="632.61" y="115.33" width="3.53" height="5.37" fill="#7288d7"/>
<rect x="635.44" y="115.33" width="3.53" height="5.37" fill="#6d84d5"/>
<rect x="638.27" y="115.33" width="3.53" height="5.37" fill="#6179d0"/>
<rect x="641.09" y="115.33" width="3.53" height="5.37" fill="#d3d8f2"/>
<rect x="643.92" y="115.33" width="3.53" height="5.37" fill="#b0bbe8"/>
<rect x="646.75" y="115.33" width="3.53" height="5.37" fill="#dbdef4"/>
<rect x="649.58" y="115.33" width="3.53" height="5.37" fill="#a2afe4"/>
<rect x="652.40" y="115.33" width="3.53" height="5.37" fill="#90a0df"/>
<rect x="655.23" y="115.33" width="3.53" height="5.37" fill="#dbdef4"/>
<rect x="658.06" y="115.33" width="3.53" height="5.37" fill="#c2caed"/>
<rect x="660.88" y="115.33" width="3.53" height="5.37" fill="#cfd5f1"/>
<rect x="663.71" y="115.33" width="3.53" height="5.37" fill="#dbdef4"/>
<rect x="666.54" y="115.33" width="3.53" height="5.37" fill="#b2bde9"/>
<rect x="669.36" y="115.33" width="3.53" height="5.37" fill="#b8c2eb"/>
<rect x="672.19" y="115.33" width="3.53" height="5.37" fill="#b5bfea"/>
<rect x="675.02" y="115.33" width="3.53" height="5.37" fill="#c1c9ed"/>
<rect x="677.85" y="115.33" width="3.53" height="5.37" fill="#b6c0ea"/>
<rect x="680.67" y="115.33" width="3.53" height="5.37" fill="#b0bbe8"/>
<text x="546.6" y="120.10" font-size="4.4" text-anchor="end" fill="#000" stroke="#000" stroke-width="0.12" font-weight="normal">AIFM1</text>
<rect x="547.80" y="120.00" width="3.53" height="5.37" fill="#d9ddf4"/>
<rect x="550.63" y="120.00" width="3.53" height="5.37" fill="#93a3e0"/>
<rect x="553.45" y="120.00" width="3.53" height="5.37" fill="#acb8e7"/>
<rect x="556.28" y="120.00" width="3.53" height="5.37" fill="#c4cbee"/>
<rect x="559.11" y="120.00" width="3.53" height="5.37" fill="#95a5e1"/>
<rect x="561.94" y="120.00" width="3.53" height="5.37" fill="#b0bbe8"/>
<rect x="564.76" y="120.00" width="3.53" height="5.37" fill="#dbdef4"/>
<rect x="567.59" y="120.00" width="3.53" height="5.37" fill="#dbdef4"/>
<rect x="570.42" y="120.00" width="3.53" height="5.37" fill="#92a2e0"/>
<rect x="573.24" y="120.00" width="3.53" height="5.37" fill="#cad1f0"/>
<rect x="576.07" y="120.00" width="3.53" height="5.37" fill="#dbdef4"/>
<rect x="578.90" y="120.00" width="3.53" height="5.37" fill="#b4bee9"/>
<rect x="581.72" y="120.00" width="3.53" height="5.37" fill="#d8dcf3"/>
<rect x="584.55" y="120.00" width="3.53" height="5.37" fill="#dbdef4"/>
<rect x="587.38" y="120.00" width="3.53" height="5.37" fill="#bcc5ec"/>
<rect x="590.21" y="120.00" width="3.53" height="5.37" fill="#dbdef4"/>
<rect x="593.03" y="120.00" width="3.53" height="5.37" fill="#dbdef4"/>
<rect x="595.86" y="120.00" width="3.53" height="5.37" fill="#a3b0e5"/>
<rect x="598.69" y="120.00" width="3.53" height="5.37" fill="#bcc5ec"/>
<rect x="601.51" y="120.00" width="3.53" height="5.37" fill="#8497dc"/>
<rect x="604.34" y="120.00" width="3.53" height="5.37" fill="#a2afe4"/>
<rect x="607.17" y="120.00" width="3.53" height="5.37" fill="#a4b2e5"/>
<rect x="610.00" y="120.00" width="3.53" height="5.37" fill="#dbdef4"/>
<rect x="612.82" y="120.00" width="3.53" height="5.37" fill="#576fc9"/>
<rect x="615.65" y="120.00" width="3.53" height="5.37" fill="#ccd2f0"/>
<rect x="618.48" y="120.00" width="3.53" height="5.37" fill="#dbdef4"/>
<rect x="621.30" y="120.00" width="3.53" height="5.37" fill="#dbdef4"/>
<rect x="624.13" y="120.00" width="3.53" height="5.37" fill="#dbdef4"/>
<rect x="626.96" y="120.00" width="3.53" height="5.37" fill="#a9b5e6"/>
<rect x="629.79" y="120.00" width="3.53" height="5.37" fill="#cad0ef"/>
<rect x="632.61" y="120.00" width="3.53" height="5.37" fill="#99a8e2"/>
<rect x="635.44" y="120.00" width="3.53" height="5.37" fill="#93a4e0"/>
<rect x="638.27" y="120.00" width="3.53" height="5.37" fill="#dbdef4"/>
<rect x="641.09" y="120.00" width="3.53" height="5.37" fill="#8a9cde"/>
<rect x="643.92" y="120.00" width="3.53" height="5.37" fill="#a5b2e5"/>
<rect x="646.75" y="120.00" width="3.53" height="5.37" fill="#a7b4e6"/>
<rect x="649.58" y="120.00" width="3.53" height="5.37" fill="#d4d9f2"/>
<rect x="652.40" y="120.00" width="3.53" height="5.37" fill="#657cd2"/>
<rect x="655.23" y="120.00" width="3.53" height="5.37" fill="#b8c1ea"/>
<rect x="658.06" y="120.00" width="3.53" height="5.37" fill="#a5b2e5"/>
<rect x="660.88" y="120.00" width="3.53" height="5.37" fill="#b8c1ea"/>
<rect x="663.71" y="120.00" width="3.53" height="5.37" fill="#dbdef4"/>
<rect x="666.54" y="120.00" width="3.53" height="5.37" fill="#afbbe8"/>
<rect x="669.36" y="120.00" width="3.53" height="5.37" fill="#a5b2e5"/>
<rect x="672.19" y="120.00" width="3.53" height="5.37" fill="#c5ccee"/>
<rect x="675.02" y="120.00" width="3.53" height="5.37" fill="#bfc7ec"/>
<rect x="677.85" y="120.00" width="3.53" height="5.37" fill="#9fade3"/>
<rect x="680.67" y="120.00" width="3.53" height="5.37" fill="#6e85d6"/>
<text x="546.6" y="124.77" font-size="4.4" text-anchor="end" fill="#000" stroke="#000" stroke-width="0.12" font-weight="normal">APOPT1</text>
<rect x="547.80" y="124.67" width="3.53" height="5.37" fill="#8295db"/>
<rect x="550.63" y="124.67" width="3.53" height="5.37" fill="#dbdef4"/>
<rect x="553.45" y="124.67" width="3.53" height="5.37" fill="#dbdef4"/>
<rect x="556.28" y="124.67" width="3.53" height="5.37" fill="#94a4e0"/>
<rect x="559.11" y="124.67" width="3.53" height="5.37" fill="#a9b5e6"/>
<rect x="561.94" y="124.67" width="3.53" height="5.37" fill="#d9ddf4"/>
<rect x="564.76" y="124.67" width="3.53" height="5.37" fill="#dbdef4"/>
<rect x="567.59" y="124.67" width="3.53" height="5.37" fill="#b9c2eb"/>
<rect x="570.42" y="124.67" width="3.53" height="5.37" fill="#9eace3"/>
<rect x="573.24" y="124.67" width="3.53" height="5.37" fill="#d8dcf3"/>
<rect x="576.07" y="124.67" width="3.53" height="5.37" fill="#dbdef4"/>
<rect x="578.90" y="124.67" width="3.53" height="5.37" fill="#dbdef4"/>
<rect x="581.72" y="124.67" width="3.53" height="5.37" fill="#ced4f1"/>
<rect x="584.55" y="124.67" width="3.53" height="5.37" fill="#dbdef4"/>
<rect x="587.38" y="124.67" width="3.53" height="5.37" fill="#cfd4f1"/>
<rect x="590.21" y="124.67" width="3.53" height="5.37" fill="#b5c0ea"/>
<rect x="593.03" y="124.67" width="3.53" height="5.37" fill="#d3d8f2"/>
<rect x="595.86" y="124.67" width="3.53" height="5.37" fill="#a6b3e5"/>
<rect x="598.69" y="124.67" width="3.53" height="5.37" fill="#aeb9e8"/>
<rect x="601.51" y="124.67" width="3.53" height="5.37" fill="#dbdef4"/>
<rect x="604.34" y="124.67" width="3.53" height="5.37" fill="#d7dbf3"/>
<rect x="607.17" y="124.67" width="3.53" height="5.37" fill="#b5bfea"/>
<rect x="610.00" y="124.67" width="3.53" height="5.37" fill="#9eace3"/>
<rect x="612.82" y="124.67" width="3.53" height="5.37" fill="#8799dd"/>
<rect x="615.65" y="124.67" width="3.53" height="5.37" fill="#b9c3eb"/>
<rect x="618.48" y="124.67" width="3.53" height="5.37" fill="#dbdef4"/>
<rect x="621.30" y="124.67" width="3.53" height="5.37" fill="#dbdef4"/>
<rect x="624.13" y="124.67" width="3.53" height="5.37" fill="#dbdef4"/>
<rect x="626.96" y="124.67" width="3.53" height="5.37" fill="#a6b3e5"/>
<rect x="629.79" y="124.67" width="3.53" height="5.37" fill="#c8cfef"/>
<rect x="632.61" y="124.67" width="3.53" height="5.37" fill="#6981d4"/>
<rect x="635.44" y="124.67" width="3.53" height="5.37" fill="#c8ceef"/>
<rect x="638.27" y="124.67" width="3.53" height="5.37" fill="#667ed3"/>
<rect x="641.09" y="124.67" width="3.53" height="5.37" fill="#dbdef4"/>
<rect x="643.92" y="124.67" width="3.53" height="5.37" fill="#98a7e1"/>
<rect x="646.75" y="124.67" width="3.53" height="5.37" fill="#c0c8ed"/>
<rect x="649.58" y="124.67" width="3.53" height="5.37" fill="#c7ceef"/>
<rect x="652.40" y="124.67" width="3.53" height="5.37" fill="#aab6e7"/>
<rect x="655.23" y="124.67" width="3.53" height="5.37" fill="#aab6e7"/>
<rect x="658.06" y="124.67" width="3.53" height="5.37" fill="#cdd3f0"/>
<rect x="660.88" y="124.67" width="3.53" height="5.37" fill="#c0c8ed"/>
<rect x="663.71" y="124.67" width="3.53" height="5.37" fill="#9eace3"/>
<rect x="666.54" y="124.67" width="3.53" height="5.37" fill="#768bd8"/>
<rect x="669.36" y="124.67" width="3.53" height="5.37" fill="#c1c9ed"/>
<rect x="672.19" y="124.67" width="3.53" height="5.37" fill="#adb9e7"/>
<rect x="675.02" y="124.67" width="3.53" height="5.37" fill="#8396db"/>
<rect x="677.85" y="124.67" width="3.53" height="5.37" fill="#dbdef4"/>
<rect x="680.67" y="124.67" width="3.53" height="5.37" fill="#a7b4e6"/>
<text x="546.6" y="129.43" font-size="4.4" text-anchor="end" fill="#000" stroke="#000" stroke-width="0.12" font-weight="normal">PRSS35</text>
<rect x="547.80" y="129.33" width="3.53" height="5.37" fill="#b0bbe8"/>
<rect x="550.63" y="129.33" width="3.53" height="5.37" fill="#b3bee9"/>
<rect x="553.45" y="129.33" width="3.53" height="5.37" fill="#bfc7ec"/>
<rect x="556.28" y="129.33" width="3.53" height="5.37" fill="#a8b4e6"/>
<rect x="559.11" y="129.33" width="3.53" height="5.37" fill="#7087d6"/>
<rect x="561.94" y="129.33" width="3.53" height="5.37" fill="#d7dbf3"/>
<rect x="564.76" y="129.33" width="3.53" height="5.37" fill="#d9dcf4"/>
<rect x="567.59" y="129.33" width="3.53" height="5.37" fill="#98a7e1"/>
<rect x="570.42" y="129.33" width="3.53" height="5.37" fill="#afbbe8"/>
<rect x="573.24" y="129.33" width="3.53" height="5.37" fill="#d4d8f2"/>
<rect x="576.07" y="129.33" width="3.53" height="5.37" fill="#d7dbf3"/>
<rect x="578.90" y="129.33" width="3.53" height="5.37" fill="#dbdef4"/>
<rect x="581.72" y="129.33" width="3.53" height="5.37" fill="#dbdef4"/>
<rect x="584.55" y="129.33" width="3.53" height="5.37" fill="#dbdef4"/>
<rect x="587.38" y="129.33" width="3.53" height="5.37" fill="#b0bbe8"/>
<rect x="590.21" y="129.33" width="3.53" height="5.37" fill="#9cabe3"/>
<rect x="593.03" y="129.33" width="3.53" height="5.37" fill="#aebae8"/>
<rect x="595.86" y="129.33" width="3.53" height="5.37" fill="#9cabe3"/>
<rect x="598.69" y="129.33" width="3.53" height="5.37" fill="#bcc5ec"/>
<rect x="601.51" y="129.33" width="3.53" height="5.37" fill="#c0c8ed"/>
<rect x="604.34" y="129.33" width="3.53" height="5.37" fill="#dbdef4"/>
<rect x="607.17" y="129.33" width="3.53" height="5.37" fill="#afbae8"/>
<rect x="610.00" y="129.33" width="3.53" height="5.37" fill="#7e92da"/>
<rect x="612.82" y="129.33" width="3.53" height="5.37" fill="#b6c0ea"/>
<rect x="615.65" y="129.33" width="3.53" height="5.37" fill="#c1c9ed"/>
<rect x="618.48" y="129.33" width="3.53" height="5.37" fill="#dbdef4"/>
<rect x="621.30" y="129.33" width="3.53" height="5.37" fill="#dbdef4"/>
<rect x="624.13" y="129.33" width="3.53" height="5.37" fill="#dbdef4"/>
<rect x="626.96" y="129.33" width="3.53" height="5.37" fill="#798ed9"/>
<rect x="629.79" y="129.33" width="3.53" height="5.37" fill="#bbc4eb"/>
<rect x="632.61" y="129.33" width="3.53" height="5.37" fill="#afbae8"/>
<rect x="635.44" y="129.33" width="3.53" height="5.37" fill="#a5b2e5"/>
<rect x="638.27" y="129.33" width="3.53" height="5.37" fill="#bac3eb"/>
<rect x="641.09" y="129.33" width="3.53" height="5.37" fill="#dadef4"/>
<rect x="643.92" y="129.33" width="3.53" height="5.37" fill="#d2d7f2"/>
<rect x="646.75" y="129.33" width="3.53" height="5.37" fill="#ced3f1"/>
<rect x="649.58" y="129.33" width="3.53" height="5.37" fill="#dbdef4"/>
<rect x="652.40" y="129.33" width="3.53" height="5.37" fill="#a3b0e4"/>
<rect x="655.23" y="129.33" width="3.53" height="5.37" fill="#ccd2f0"/>
<rect x="658.06" y="129.33" width="3.53" height="5.37" fill="#d9ddf4"/>
<rect x="660.88" y="129.33" width="3.53" height="5.37" fill="#dbdef4"/>
<rect x="663.71" y="129.33" width="3.53" height="5.37" fill="#dbdef4"/>
<rect x="666.54" y="129.33" width="3.53" height="5.37" fill="#cdd3f0"/>
<rect x="669.36" y="129.33" width="3.53" height="5.37" fill="#dbdef4"/>
<rect x="672.19" y="129.33" width="3.53" height="5.37" fill="#dbdef4"/>
<rect x="675.02" y="129.33" width="3.53" height="5.37" fill="#dbdef4"/>
<rect x="677.85" y="129.33" width="3.53" height="5.37" fill="#dbdef4"/>
<rect x="680.67" y="129.33" width="3.53" height="5.37" fill="#7c90da"/>
<text x="546.6" y="134.10" font-size="4.4" text-anchor="end" fill="#000" stroke="#000" stroke-width="0.12" font-weight="normal">TMEM126B</text>
<rect x="547.80" y="134.00" width="3.53" height="5.37" fill="#d1d6f1"/>
<rect x="550.63" y="134.00" width="3.53" height="5.37" fill="#dadef4"/>
<rect x="553.45" y="134.00" width="3.53" height="5.37" fill="#c9d0ef"/>
<rect x="556.28" y="134.00" width="3.53" height="5.37" fill="#cfd5f1"/>
<rect x="559.11" y="134.00" width="3.53" height="5.37" fill="#b9c2eb"/>
<rect x="561.94" y="134.00" width="3.53" height="5.37" fill="#c4cbee"/>
<rect x="564.76" y="134.00" width="3.53" height="5.37" fill="#97a7e1"/>
<rect x="567.59" y="134.00" width="3.53" height="5.37" fill="#dbdef4"/>
<rect x="570.42" y="134.00" width="3.53" height="5.37" fill="#c3cbee"/>
<rect x="573.24" y="134.00" width="3.53" height="5.37" fill="#aeb9e8"/>
<rect x="576.07" y="134.00" width="3.53" height="5.37" fill="#9fade3"/>
<rect x="578.90" y="134.00" width="3.53" height="5.37" fill="#dbdef4"/>
<rect x="581.72" y="134.00" width="3.53" height="5.37" fill="#dbdef4"/>
<rect x="584.55" y="134.00" width="3.53" height="5.37" fill="#dbdef4"/>
<rect x="587.38" y="134.00" width="3.53" height="5.37" fill="#dbdef4"/>
<rect x="590.21" y="134.00" width="3.53" height="5.37" fill="#b6c0ea"/>
<rect x="593.03" y="134.00" width="3.53" height="5.37" fill="#dbdef4"/>
<rect x="595.86" y="134.00" width="3.53" height="5.37" fill="#d3d8f2"/>
<rect x="598.69" y="134.00" width="3.53" height="5.37" fill="#adb8e7"/>
<rect x="601.51" y="134.00" width="3.53" height="5.37" fill="#b8c2eb"/>
<rect x="604.34" y="134.00" width="3.53" height="5.37" fill="#dbdef4"/>
<rect x="607.17" y="134.00" width="3.53" height="5.37" fill="#c7ceef"/>
<rect x="610.00" y="134.00" width="3.53" height="5.37" fill="#abb7e7"/>
<rect x="612.82" y="134.00" width="3.53" height="5.37" fill="#768cd8"/>
<rect x="615.65" y="134.00" width="3.53" height="5.37" fill="#cfd4f1"/>
<rect x="618.48" y="134.00" width="3.53" height="5.37" fill="#dbdef4"/>
<rect x="621.30" y="134.00" width="3.53" height="5.37" fill="#c3cbee"/>
<rect x="624.13" y="134.00" width="3.53" height="5.37" fill="#c3caed"/>
<rect x="626.96" y="134.00" width="3.53" height="5.37" fill="#627ad0"/>
<rect x="629.79" y="134.00" width="3.53" height="5.37" fill="#dbdef4"/>
<rect x="632.61" y="134.00" width="3.53" height="5.37" fill="#99a9e2"/>
<rect x="635.44" y="134.00" width="3.53" height="5.37" fill="#dadef4"/>
<rect x="638.27" y="134.00" width="3.53" height="5.37" fill="#daddf4"/>
<rect x="641.09" y="134.00" width="3.53" height="5.37" fill="#c1c9ed"/>
<rect x="643.92" y="134.00" width="3.53" height="5.37" fill="#daddf4"/>
<rect x="646.75" y="134.00" width="3.53" height="5.37" fill="#d3d8f2"/>
<rect x="649.58" y="134.00" width="3.53" height="5.37" fill="#dbdef4"/>
<rect x="652.40" y="134.00" width="3.53" height="5.37" fill="#bdc5ec"/>
<rect x="655.23" y="134.00" width="3.53" height="5.37" fill="#b9c3eb"/>
<rect x="658.06" y="134.00" width="3.53" height="5.37" fill="#daddf4"/>
<rect x="660.88" y="134.00" width="3.53" height="5.37" fill="#dbdef4"/>
<rect x="663.71" y="134.00" width="3.53" height="5.37" fill="#b1bce9"/>
<rect x="666.54" y="134.00" width="3.53" height="5.37" fill="#dbdef4"/>
<rect x="669.36" y="134.00" width="3.53" height="5.37" fill="#b5bfea"/>
<rect x="672.19" y="134.00" width="3.53" height="5.37" fill="#96a6e1"/>
<rect x="675.02" y="134.00" width="3.53" height="5.37" fill="#dbdef4"/>
<rect x="677.85" y="134.00" width="3.53" height="5.37" fill="#a6b3e6"/>
<rect x="680.67" y="134.00" width="3.53" height="5.37" fill="#dbdef4"/>
<text x="546.6" y="138.77" font-size="4.4" text-anchor="end" fill="#000" stroke="#000" stroke-width="0.12" font-weight="normal">FASTKD5</text>
<rect x="547.80" y="138.67" width="3.53" height="5.37" fill="#bcc5ec"/>
<rect x="550.63" y="138.67" width="3.53" height="5.37" fill="#dbdef4"/>
<rect x="553.45" y="138.67" width="3.53" height="5.37" fill="#dbdef4"/>
<rect x="556.28" y="138.67" width="3.53" height="5.37" fill="#dbdef4"/>
<rect x="559.11" y="138.67" width="3.53" height="5.37" fill="#bfc7ec"/>
<rect x="561.94" y="138.67" width="3.53" height="5.37" fill="#dbdef4"/>
<rect x="564.76" y="138.67" width="3.53" height="5.37" fill="#dbdef4"/>
<rect x="567.59" y="138.67" width="3.53" height="5.37" fill="#dbdef4"/>
<rect x="570.42" y="138.67" width="3.53" height="5.37" fill="#aab6e7"/>
<rect x="573.24" y="138.67" width="3.53" height="5.37" fill="#d4d8f2"/>
<rect x="576.07" y="138.67" width="3.53" height="5.37" fill="#dbdef4"/>
<rect x="578.90" y="138.67" width="3.53" height="5.37" fill="#dbdef4"/>
<rect x="581.72" y="138.67" width="3.53" height="5.37" fill="#dbdef4"/>
<rect x="584.55" y="138.67" width="3.53" height="5.37" fill="#dbdef4"/>
<rect x="587.38" y="138.67" width="3.53" height="5.37" fill="#dbdef4"/>
<rect x="590.21" y="138.67" width="3.53" height="5.37" fill="#cfd4f1"/>
<rect x="593.03" y="138.67" width="3.53" height="5.37" fill="#dbdef4"/>
<rect x="595.86" y="138.67" width="3.53" height="5.37" fill="#abb7e7"/>
<rect x="598.69" y="138.67" width="3.53" height="5.37" fill="#bdc6ec"/>
<rect x="601.51" y="138.67" width="3.53" height="5.37" fill="#bdc6ec"/>
<rect x="604.34" y="138.67" width="3.53" height="5.37" fill="#d7dbf3"/>
<rect x="607.17" y="138.67" width="3.53" height="5.37" fill="#cbd1f0"/>
<rect x="610.00" y="138.67" width="3.53" height="5.37" fill="#768bd8"/>
<rect x="612.82" y="138.67" width="3.53" height="5.37" fill="#dbdef4"/>
<rect x="615.65" y="138.67" width="3.53" height="5.37" fill="#cbd2f0"/>
<rect x="618.48" y="138.67" width="3.53" height="5.37" fill="#c1c9ed"/>
<rect x="621.30" y="138.67" width="3.53" height="5.37" fill="#d4d9f2"/>
<rect x="624.13" y="138.67" width="3.53" height="5.37" fill="#dbdef4"/>
<rect x="626.96" y="138.67" width="3.53" height="5.37" fill="#c7ceef"/>
<rect x="629.79" y="138.67" width="3.53" height="5.37" fill="#cdd3f0"/>
<rect x="632.61" y="138.67" width="3.53" height="5.37" fill="#b7c1ea"/>
<rect x="635.44" y="138.67" width="3.53" height="5.37" fill="#98a7e1"/>
<rect x="638.27" y="138.67" width="3.53" height="5.37" fill="#b7c1ea"/>
<rect x="641.09" y="138.67" width="3.53" height="5.37" fill="#c8cfef"/>
<rect x="643.92" y="138.67" width="3.53" height="5.37" fill="#b1bce8"/>
<rect x="646.75" y="138.67" width="3.53" height="5.37" fill="#dbdef4"/>
<rect x="649.58" y="138.67" width="3.53" height="5.37" fill="#dbdef4"/>
<rect x="652.40" y="138.67" width="3.53" height="5.37" fill="#dbdef4"/>
<rect x="655.23" y="138.67" width="3.53" height="5.37" fill="#c3cbee"/>
<rect x="658.06" y="138.67" width="3.53" height="5.37" fill="#dbdef4"/>
<rect x="660.88" y="138.67" width="3.53" height="5.37" fill="#bcc5ec"/>
<rect x="663.71" y="138.67" width="3.53" height="5.37" fill="#d6dbf3"/>
<rect x="666.54" y="138.67" width="3.53" height="5.37" fill="#b8c2eb"/>
<rect x="669.36" y="138.67" width="3.53" height="5.37" fill="#dbdef4"/>
<rect x="672.19" y="138.67" width="3.53" height="5.37" fill="#dbdef4"/>
<rect x="675.02" y="138.67" width="3.53" height="5.37" fill="#bec7ec"/>
<rect x="677.85" y="138.67" width="3.53" height="5.37" fill="#cfd5f1"/>
<rect x="680.67" y="138.67" width="3.53" height="5.37" fill="#b9c2eb"/>
<text x="546.6" y="143.43" font-size="4.4" text-anchor="end" fill="#000" stroke="#000" stroke-width="0.12" font-weight="normal">NDUFAF7</text>
<rect x="547.80" y="143.33" width="3.53" height="5.37" fill="#b1bce9"/>
<rect x="550.63" y="143.33" width="3.53" height="5.37" fill="#dbdef4"/>
<rect x="553.45" y="143.33" width="3.53" height="5.37" fill="#d5daf3"/>
<rect x="556.28" y="143.33" width="3.53" height="5.37" fill="#c6cdee"/>
<rect x="559.11" y="143.33" width="3.53" height="5.37" fill="#b5bfea"/>
<rect x="561.94" y="143.33" width="3.53" height="5.37" fill="#bbc4eb"/>
<rect x="564.76" y="143.33" width="3.53" height="5.37" fill="#d5d9f3"/>
<rect x="567.59" y="143.33" width="3.53" height="5.37" fill="#bac3eb"/>
<rect x="570.42" y="143.33" width="3.53" height="5.37" fill="#cad1f0"/>
<rect x="573.24" y="143.33" width="3.53" height="5.37" fill="#cdd3f0"/>
<rect x="576.07" y="143.33" width="3.53" height="5.37" fill="#d7dbf3"/>
<rect x="578.90" y="143.33" width="3.53" height="5.37" fill="#dbdef4"/>
<rect x="581.72" y="143.33" width="3.53" height="5.37" fill="#dbdef4"/>
<rect x="584.55" y="143.33" width="3.53" height="5.37" fill="#dbdef4"/>
<rect x="587.38" y="143.33" width="3.53" height="5.37" fill="#dbdef4"/>
<rect x="590.21" y="143.33" width="3.53" height="5.37" fill="#bec7ec"/>
<rect x="593.03" y="143.33" width="3.53" height="5.37" fill="#dbdef4"/>
<rect x="595.86" y="143.33" width="3.53" height="5.37" fill="#dbdef4"/>
<rect x="598.69" y="143.33" width="3.53" height="5.37" fill="#c7ceef"/>
<rect x="601.51" y="143.33" width="3.53" height="5.37" fill="#c8cfef"/>
<rect x="604.34" y="143.33" width="3.53" height="5.37" fill="#dbdef4"/>
<rect x="607.17" y="143.33" width="3.53" height="5.37" fill="#c3cbee"/>
<rect x="610.00" y="143.33" width="3.53" height="5.37" fill="#8194db"/>
<rect x="612.82" y="143.33" width="3.53" height="5.37" fill="#a2b0e4"/>
<rect x="615.65" y="143.33" width="3.53" height="5.37" fill="#dbdef4"/>
<rect x="618.48" y="143.33" width="3.53" height="5.37" fill="#dbdef4"/>
<rect x="621.30" y="143.33" width="3.53" height="5.37" fill="#c6cdee"/>
<rect x="624.13" y="143.33" width="3.53" height="5.37" fill="#9baae2"/>
<rect x="626.96" y="143.33" width="3.53" height="5.37" fill="#bdc6ec"/>
<rect x="629.79" y="143.33" width="3.53" height="5.37" fill="#dbdef4"/>
<rect x="632.61" y="143.33" width="3.53" height="5.37" fill="#94a4e0"/>
<rect x="635.44" y="143.33" width="3.53" height="5.37" fill="#8e9fdf"/>
<rect x="638.27" y="143.33" width="3.53" height="5.37" fill="#c8cfef"/>
<rect x="641.09" y="143.33" width="3.53" height="5.37" fill="#c3cbee"/>
<rect x="643.92" y="143.33" width="3.53" height="5.37" fill="#bdc5ec"/>
<rect x="646.75" y="143.33" width="3.53" height="5.37" fill="#cdd3f1"/>
<rect x="649.58" y="143.33" width="3.53" height="5.37" fill="#dbdef4"/>
<rect x="652.40" y="143.33" width="3.53" height="5.37" fill="#dbdef4"/>
<rect x="655.23" y="143.33" width="3.53" height="5.37" fill="#dbdef4"/>
<rect x="658.06" y="143.33" width="3.53" height="5.37" fill="#c7ceef"/>
<rect x="660.88" y="143.33" width="3.53" height="5.37" fill="#bdc6ec"/>
<rect x="663.71" y="143.33" width="3.53" height="5.37" fill="#dbdef4"/>
<rect x="666.54" y="143.33" width="3.53" height="5.37" fill="#ced4f1"/>
<rect x="669.36" y="143.33" width="3.53" height="5.37" fill="#dbdef4"/>
<rect x="672.19" y="143.33" width="3.53" height="5.37" fill="#b9c2eb"/>
<rect x="675.02" y="143.33" width="3.53" height="5.37" fill="#d6daf3"/>
<rect x="677.85" y="143.33" width="3.53" height="5.37" fill="#dbdef4"/>
<rect x="680.67" y="143.33" width="3.53" height="5.37" fill="#dbdef4"/>
<text x="546.6" y="148.10" font-size="4.4" text-anchor="end" fill="#000" stroke="#000" stroke-width="0.12" font-weight="normal">RARS2</text>
<rect x="547.80" y="148.00" width="3.53" height="5.37" fill="#e8e8f7"/>
<rect x="550.63" y="148.00" width="3.53" height="5.37" fill="#e7dceb"/>
<rect x="553.45" y="148.00" width="3.53" height="5.37" fill="#e8e4f3"/>
<rect x="556.28" y="148.00" width="3.53" height="5.37" fill="#e7dcea"/>
<rect x="559.11" y="148.00" width="3.53" height="5.37" fill="#e7e1ef"/>
<rect x="561.94" y="148.00" width="3.53" height="5.37" fill="#e6d8e6"/>
<rect x="564.76" y="148.00" width="3.53" height="5.37" fill="#e8e4f3"/>
<rect x="567.59" y="148.00" width="3.53" height="5.37" fill="#e6e7f7"/>
<rect x="570.42" y="148.00" width="3.53" height="5.37" fill="#e8e9f8"/>
<rect x="573.24" y="148.00" width="3.53" height="5.37" fill="#e5e7f7"/>
<rect x="576.07" y="148.00" width="3.53" height="5.37" fill="#e8e7f6"/>
<rect x="578.90" y="148.00" width="3.53" height="5.37" fill="#e6d2e0"/>
<rect x="581.72" y="148.00" width="3.53" height="5.37" fill="#e5cad8"/>
<rect x="584.55" y="148.00" width="3.53" height="5.37" fill="#e6d2e0"/>
<rect x="587.38" y="148.00" width="3.53" height="5.37" fill="#e6d0de"/>
<rect x="590.21" y="148.00" width="3.53" height="5.37" fill="#e7e0ee"/>
<rect x="593.03" y="148.00" width="3.53" height="5.37" fill="#e7e1ef"/>
<rect x="595.86" y="148.00" width="3.53" height="5.37" fill="#e6e8f8"/>
<rect x="598.69" y="148.00" width="3.53" height="5.37" fill="#e7e8f8"/>
<rect x="601.51" y="148.00" width="3.53" height="5.37" fill="#e7e1ef"/>
<rect x="604.34" y="148.00" width="3.53" height="5.37" fill="#e6d9e7"/>
<rect x="607.17" y="148.00" width="3.53" height="5.37" fill="#e8e7f6"/>
<rect x="610.00" y="148.00" width="3.53" height="5.37" fill="#e7e0ef"/>
<rect x="612.82" y="148.00" width="3.53" height="5.37" fill="#d7dbf3"/>
<rect x="615.65" y="148.00" width="3.53" height="5.37" fill="#e7e2f1"/>
<rect x="618.48" y="148.00" width="3.53" height="5.37" fill="#e6d0de"/>
<rect x="621.30" y="148.00" width="3.53" height="5.37" fill="#e7d9e7"/>
<rect x="624.13" y="148.00" width="3.53" height="5.37" fill="#e6d7e5"/>
<rect x="626.96" y="148.00" width="3.53" height="5.37" fill="#bfc7ec"/>
<rect x="629.79" y="148.00" width="3.53" height="5.37" fill="#d9ddf4"/>
<rect x="632.61" y="148.00" width="3.53" height="5.37" fill="#d7dbf3"/>
<rect x="635.44" y="148.00" width="3.53" height="5.37" fill="#e7d9e7"/>
<rect x="638.27" y="148.00" width="3.53" height="5.37" fill="#e6d8e7"/>
<rect x="641.09" y="148.00" width="3.53" height="5.37" fill="#e8e9f8"/>
<rect x="643.92" y="148.00" width="3.53" height="5.37" fill="#daddf4"/>
<rect x="646.75" y="148.00" width="3.53" height="5.37" fill="#e2e4f6"/>
<rect x="649.58" y="148.00" width="3.53" height="5.37" fill="#e7ddeb"/>
<rect x="652.40" y="148.00" width="3.53" height="5.37" fill="#e7ddeb"/>
<rect x="655.23" y="148.00" width="3.53" height="5.37" fill="#e7e2f1"/>
<rect x="658.06" y="148.00" width="3.53" height="5.37" fill="#e6d5e3"/>
<rect x="660.88" y="148.00" width="3.53" height="5.37" fill="#e7dceb"/>
<rect x="663.71" y="148.00" width="3.53" height="5.37" fill="#e8e6f5"/>
<rect x="666.54" y="148.00" width="3.53" height="5.37" fill="#e7e0ef"/>
<rect x="669.36" y="148.00" width="3.53" height="5.37" fill="#e7e2f1"/>
<rect x="672.19" y="148.00" width="3.53" height="5.37" fill="#e7dae8"/>
<rect x="675.02" y="148.00" width="3.53" height="5.37" fill="#e7deec"/>
<rect x="677.85" y="148.00" width="3.53" height="5.37" fill="#e7e3f2"/>
<rect x="680.67" y="148.00" width="3.53" height="5.37" fill="#e7ddeb"/>
<text x="546.6" y="152.77" font-size="4.4" text-anchor="end" fill="#000" stroke="#000" stroke-width="0.12" font-weight="normal">MRPS18C</text>
<rect x="547.80" y="152.67" width="3.53" height="5.37" fill="#e7deed"/>
<rect x="550.63" y="152.67" width="3.53" height="5.37" fill="#e7deec"/>
<rect x="553.45" y="152.67" width="3.53" height="5.37" fill="#e6d7e6"/>
<rect x="556.28" y="152.67" width="3.53" height="5.37" fill="#e7dae8"/>
<rect x="559.11" y="152.67" width="3.53" height="5.37" fill="#e8e8f7"/>
<rect x="561.94" y="152.67" width="3.53" height="5.37" fill="#e8e6f5"/>
<rect x="564.76" y="152.67" width="3.53" height="5.37" fill="#e6cfdd"/>
<rect x="567.59" y="152.67" width="3.53" height="5.37" fill="#e7dae8"/>
<rect x="570.42" y="152.67" width="3.53" height="5.37" fill="#e6e7f7"/>
<rect x="573.24" y="152.67" width="3.53" height="5.37" fill="#e7e0ee"/>
<rect x="576.07" y="152.67" width="3.53" height="5.37" fill="#e5e7f7"/>
<rect x="578.90" y="152.67" width="3.53" height="5.37" fill="#e6d4e2"/>
<rect x="581.72" y="152.67" width="3.53" height="5.37" fill="#e7deec"/>
<rect x="584.55" y="152.67" width="3.53" height="5.37" fill="#e6d7e5"/>
<rect x="587.38" y="152.67" width="3.53" height="5.37" fill="#e7e8f8"/>
<rect x="590.21" y="152.67" width="3.53" height="5.37" fill="#e8e7f6"/>
<rect x="593.03" y="152.67" width="3.53" height="5.37" fill="#e5cad7"/>
<rect x="595.86" y="152.67" width="3.53" height="5.37" fill="#e7e2f0"/>
<rect x="598.69" y="152.67" width="3.53" height="5.37" fill="#dde0f5"/>
<rect x="601.51" y="152.67" width="3.53" height="5.37" fill="#e6d2e0"/>
<rect x="604.34" y="152.67" width="3.53" height="5.37" fill="#e8e5f3"/>
<rect x="607.17" y="152.67" width="3.53" height="5.37" fill="#e6d5e3"/>
<rect x="610.00" y="152.67" width="3.53" height="5.37" fill="#e2e4f6"/>
<rect x="612.82" y="152.67" width="3.53" height="5.37" fill="#d2d7f2"/>
<rect x="615.65" y="152.67" width="3.53" height="5.37" fill="#e5cad8"/>
<rect x="618.48" y="152.67" width="3.53" height="5.37" fill="#e7e0ee"/>
<rect x="621.30" y="152.67" width="3.53" height="5.37" fill="#e6d2e0"/>
<rect x="624.13" y="152.67" width="3.53" height="5.37" fill="#e6d1df"/>
<rect x="626.96" y="152.67" width="3.53" height="5.37" fill="#d2d7f2"/>
<rect x="629.79" y="152.67" width="3.53" height="5.37" fill="#e7dbe9"/>
<rect x="632.61" y="152.67" width="3.53" height="5.37" fill="#e4e6f7"/>
<rect x="635.44" y="152.67" width="3.53" height="5.37" fill="#e7d9e7"/>
<rect x="638.27" y="152.67" width="3.53" height="5.37" fill="#e8e5f4"/>
<rect x="641.09" y="152.67" width="3.53" height="5.37" fill="#e3e5f7"/>
<rect x="643.92" y="152.67" width="3.53" height="5.37" fill="#e7e2f0"/>
<rect x="646.75" y="152.67" width="3.53" height="5.37" fill="#e6d6e4"/>
<rect x="649.58" y="152.67" width="3.53" height="5.37" fill="#e6d3e1"/>
<rect x="652.40" y="152.67" width="3.53" height="5.37" fill="#e7d9e7"/>
<rect x="655.23" y="152.67" width="3.53" height="5.37" fill="#e7e0ef"/>
<rect x="658.06" y="152.67" width="3.53" height="5.37" fill="#e8e5f4"/>
<rect x="660.88" y="152.67" width="3.53" height="5.37" fill="#e7dceb"/>
<rect x="663.71" y="152.67" width="3.53" height="5.37" fill="#e7dae8"/>
<rect x="666.54" y="152.67" width="3.53" height="5.37" fill="#e6d2e0"/>
<rect x="669.36" y="152.67" width="3.53" height="5.37" fill="#e6d3e1"/>
<rect x="672.19" y="152.67" width="3.53" height="5.37" fill="#e6d5e4"/>
<rect x="675.02" y="152.67" width="3.53" height="5.37" fill="#e7dcea"/>
<rect x="677.85" y="152.67" width="3.53" height="5.37" fill="#e7dae9"/>
<rect x="680.67" y="152.67" width="3.53" height="5.37" fill="#dee1f5"/>
<text x="546.6" y="157.43" font-size="4.4" text-anchor="end" fill="#000" stroke="#000" stroke-width="0.12" font-weight="normal">NDUFS5</text>
<rect x="547.80" y="157.33" width="3.53" height="5.37" fill="#e6d3e1"/>
<rect x="550.63" y="157.33" width="3.53" height="5.37" fill="#e5c5d2"/>
<rect x="553.45" y="157.33" width="3.53" height="5.37" fill="#e6d1df"/>
<rect x="556.28" y="157.33" width="3.53" height="5.37" fill="#e7ddeb"/>
<rect x="559.11" y="157.33" width="3.53" height="5.37" fill="#e7deed"/>
<rect x="561.94" y="157.33" width="3.53" height="5.37" fill="#e5ccda"/>
<rect x="564.76" y="157.33" width="3.53" height="5.37" fill="#e6d3e1"/>
<rect x="567.59" y="157.33" width="3.53" height="5.37" fill="#e7ddeb"/>
<rect x="570.42" y="157.33" width="3.53" height="5.37" fill="#e7dfee"/>
<rect x="573.24" y="157.33" width="3.53" height="5.37" fill="#e8e6f5"/>
<rect x="576.07" y="157.33" width="3.53" height="5.37" fill="#e6d7e5"/>
<rect x="578.90" y="157.33" width="3.53" height="5.37" fill="#e6d7e5"/>
<rect x="581.72" y="157.33" width="3.53" height="5.37" fill="#e6d2e0"/>
<rect x="584.55" y="157.33" width="3.53" height="5.37" fill="#e4bdca"/>
<rect x="587.38" y="157.33" width="3.53" height="5.37" fill="#e5c6d3"/>
<rect x="590.21" y="157.33" width="3.53" height="5.37" fill="#e7e8f8"/>
<rect x="593.03" y="157.33" width="3.53" height="5.37" fill="#e6d6e4"/>
<rect x="595.86" y="157.33" width="3.53" height="5.37" fill="#e7deec"/>
<rect x="598.69" y="157.33" width="3.53" height="5.37" fill="#e7e0ee"/>
<rect x="601.51" y="157.33" width="3.53" height="5.37" fill="#e4e5f7"/>
<rect x="604.34" y="157.33" width="3.53" height="5.37" fill="#e6cfdc"/>
<rect x="607.17" y="157.33" width="3.53" height="5.37" fill="#dee0f5"/>
<rect x="610.00" y="157.33" width="3.53" height="5.37" fill="#e7d9e7"/>
<rect x="612.82" y="157.33" width="3.53" height="5.37" fill="#e6d8e6"/>
<rect x="615.65" y="157.33" width="3.53" height="5.37" fill="#e7dbe9"/>
<rect x="618.48" y="157.33" width="3.53" height="5.37" fill="#e7dcea"/>
<rect x="621.30" y="157.33" width="3.53" height="5.37" fill="#e6d2e0"/>
<rect x="624.13" y="157.33" width="3.53" height="5.37" fill="#e6d6e4"/>
<rect x="626.96" y="157.33" width="3.53" height="5.37" fill="#cfd5f1"/>
<rect x="629.79" y="157.33" width="3.53" height="5.37" fill="#e7e2f0"/>
<rect x="632.61" y="157.33" width="3.53" height="5.37" fill="#e7d9e7"/>
<rect x="635.44" y="157.33" width="3.53" height="5.37" fill="#e7dae8"/>
<rect x="638.27" y="157.33" width="3.53" height="5.37" fill="#e7e3f2"/>
<rect x="641.09" y="157.33" width="3.53" height="5.37" fill="#e7e2f1"/>
<rect x="643.92" y="157.33" width="3.53" height="5.37" fill="#e7e3f1"/>
<rect x="646.75" y="157.33" width="3.53" height="5.37" fill="#e7dfed"/>
<rect x="649.58" y="157.33" width="3.53" height="5.37" fill="#e2adb9"/>
<rect x="652.40" y="157.33" width="3.53" height="5.37" fill="#e8e5f4"/>
<rect x="655.23" y="157.33" width="3.53" height="5.37" fill="#e5c5d2"/>
<rect x="658.06" y="157.33" width="3.53" height="5.37" fill="#e7d9e7"/>
<rect x="660.88" y="157.33" width="3.53" height="5.37" fill="#e6d7e5"/>
<rect x="663.71" y="157.33" width="3.53" height="5.37" fill="#e6d3e1"/>
<rect x="666.54" y="157.33" width="3.53" height="5.37" fill="#e7dceb"/>
<rect x="669.36" y="157.33" width="3.53" height="5.37" fill="#e5c6d3"/>
<rect x="672.19" y="157.33" width="3.53" height="5.37" fill="#e6d2e0"/>
<rect x="675.02" y="157.33" width="3.53" height="5.37" fill="#e7ddeb"/>
<rect x="677.85" y="157.33" width="3.53" height="5.37" fill="#e6d7e5"/>
<rect x="680.67" y="157.33" width="3.53" height="5.37" fill="#e7dae8"/>
<text x="546.6" y="162.10" font-size="4.4" text-anchor="end" fill="#000" stroke="#000" stroke-width="0.12" font-weight="normal">NDUFAF4</text>
<rect x="547.80" y="162.00" width="3.53" height="5.37" fill="#e6d8e6"/>
<rect x="550.63" y="162.00" width="3.53" height="5.37" fill="#e5cad7"/>
<rect x="553.45" y="162.00" width="3.53" height="5.37" fill="#e5c9d7"/>
<rect x="556.28" y="162.00" width="3.53" height="5.37" fill="#e5c5d3"/>
<rect x="559.11" y="162.00" width="3.53" height="5.37" fill="#e5c9d7"/>
<rect x="561.94" y="162.00" width="3.53" height="5.37" fill="#e7d9e8"/>
<rect x="564.76" y="162.00" width="3.53" height="5.37" fill="#e5c8d6"/>
<rect x="567.59" y="162.00" width="3.53" height="5.37" fill="#e4bbc7"/>
<rect x="570.42" y="162.00" width="3.53" height="5.37" fill="#e7d9e8"/>
<rect x="573.24" y="162.00" width="3.53" height="5.37" fill="#e7d9e7"/>
<rect x="576.07" y="162.00" width="3.53" height="5.37" fill="#e4bcc9"/>
<rect x="578.90" y="162.00" width="3.53" height="5.37" fill="#e4c0cd"/>
<rect x="581.72" y="162.00" width="3.53" height="5.37" fill="#e4becb"/>
<rect x="584.55" y="162.00" width="3.53" height="5.37" fill="#e5c7d4"/>
<rect x="587.38" y="162.00" width="3.53" height="5.37" fill="#e4c0cd"/>
<rect x="590.21" y="162.00" width="3.53" height="5.37" fill="#e6cfdc"/>
<rect x="593.03" y="162.00" width="3.53" height="5.37" fill="#e4bbc8"/>
<rect x="595.86" y="162.00" width="3.53" height="5.37" fill="#e5c6d3"/>
<rect x="598.69" y="162.00" width="3.53" height="5.37" fill="#e5c6d3"/>
<rect x="601.51" y="162.00" width="3.53" height="5.37" fill="#e6d0de"/>
<rect x="604.34" y="162.00" width="3.53" height="5.37" fill="#e5cdda"/>
<rect x="607.17" y="162.00" width="3.53" height="5.37" fill="#e6cedc"/>
<rect x="610.00" y="162.00" width="3.53" height="5.37" fill="#e6d1df"/>
<rect x="612.82" y="162.00" width="3.53" height="5.37" fill="#e5cedb"/>
<rect x="615.65" y="162.00" width="3.53" height="5.37" fill="#e5ccda"/>
<rect x="618.48" y="162.00" width="3.53" height="5.37" fill="#e5c7d5"/>
<rect x="621.30" y="162.00" width="3.53" height="5.37" fill="#e5c9d6"/>
<rect x="624.13" y="162.00" width="3.53" height="5.37" fill="#e5cdda"/>
<rect x="626.96" y="162.00" width="3.53" height="5.37" fill="#e6cfdd"/>
<rect x="629.79" y="162.00" width="3.53" height="5.37" fill="#e4bbc8"/>
<rect x="632.61" y="162.00" width="3.53" height="5.37" fill="#e6d4e2"/>
<rect x="635.44" y="162.00" width="3.53" height="5.37" fill="#e5c4d1"/>
<rect x="638.27" y="162.00" width="3.53" height="5.37" fill="#e5ccda"/>
<rect x="641.09" y="162.00" width="3.53" height="5.37" fill="#e5c7d5"/>
<rect x="643.92" y="162.00" width="3.53" height="5.37" fill="#e5c6d3"/>
<rect x="646.75" y="162.00" width="3.53" height="5.37" fill="#e5ccda"/>
<rect x="649.58" y="162.00" width="3.53" height="5.37" fill="#e3b4c1"/>
<rect x="652.40" y="162.00" width="3.53" height="5.37" fill="#e5c6d3"/>
<rect x="655.23" y="162.00" width="3.53" height="5.37" fill="#e8e4f2"/>
<rect x="658.06" y="162.00" width="3.53" height="5.37" fill="#e5cbd9"/>
<rect x="660.88" y="162.00" width="3.53" height="5.37" fill="#e5c4d2"/>
<rect x="663.71" y="162.00" width="3.53" height="5.37" fill="#e3b4c1"/>
<rect x="666.54" y="162.00" width="3.53" height="5.37" fill="#e6d2e0"/>
<rect x="669.36" y="162.00" width="3.53" height="5.37" fill="#e5c6d3"/>
<rect x="672.19" y="162.00" width="3.53" height="5.37" fill="#e5c5d2"/>
<rect x="675.02" y="162.00" width="3.53" height="5.37" fill="#e6d6e4"/>
<rect x="677.85" y="162.00" width="3.53" height="5.37" fill="#e4bbc8"/>
<rect x="680.67" y="162.00" width="3.53" height="5.37" fill="#e5c8d6"/>
<text x="546.6" y="166.77" font-size="4.4" text-anchor="end" fill="#000" stroke="#000" stroke-width="0.12" font-weight="normal">TIMM8A</text>
<rect x="547.80" y="166.67" width="3.53" height="5.37" fill="#e3b0bc"/>
<rect x="550.63" y="166.67" width="3.53" height="5.37" fill="#e2abb7"/>
<rect x="553.45" y="166.67" width="3.53" height="5.37" fill="#e1a1ab"/>
<rect x="556.28" y="166.67" width="3.53" height="5.37" fill="#e09094"/>
<rect x="559.11" y="166.67" width="3.53" height="5.37" fill="#e0989f"/>
<rect x="561.94" y="166.67" width="3.53" height="5.37" fill="#e3b5c2"/>
<rect x="564.76" y="166.67" width="3.53" height="5.37" fill="#e3afbb"/>
<rect x="567.59" y="166.67" width="3.53" height="5.37" fill="#e0959b"/>
<rect x="570.42" y="166.67" width="3.53" height="5.37" fill="#e2acb8"/>
<rect x="573.24" y="166.67" width="3.53" height="5.37" fill="#e3afbc"/>
<rect x="576.07" y="166.67" width="3.53" height="5.37" fill="#e199a0"/>
<rect x="578.90" y="166.67" width="3.53" height="5.37" fill="#e09399"/>
<rect x="581.72" y="166.67" width="3.53" height="5.37" fill="#df8a8c"/>
<rect x="584.55" y="166.67" width="3.53" height="5.37" fill="#df8e92"/>
<rect x="587.38" y="166.67" width="3.53" height="5.37" fill="#e2a3ae"/>
<rect x="590.21" y="166.67" width="3.53" height="5.37" fill="#e099a0"/>
<rect x="593.03" y="166.67" width="3.53" height="5.37" fill="#e0969c"/>
<rect x="595.86" y="166.67" width="3.53" height="5.37" fill="#e19ba2"/>
<rect x="598.69" y="166.67" width="3.53" height="5.37" fill="#e1a3ad"/>
<rect x="601.51" y="166.67" width="3.53" height="5.37" fill="#e2aab6"/>
<rect x="604.34" y="166.67" width="3.53" height="5.37" fill="#e1a2ac"/>
<rect x="607.17" y="166.67" width="3.53" height="5.37" fill="#e2abb8"/>
<rect x="610.00" y="166.67" width="3.53" height="5.37" fill="#e4b9c6"/>
<rect x="612.82" y="166.67" width="3.53" height="5.37" fill="#e3aeba"/>
<rect x="615.65" y="166.67" width="3.53" height="5.37" fill="#e19ea6"/>
<rect x="618.48" y="166.67" width="3.53" height="5.37" fill="#e2acb9"/>
<rect x="621.30" y="166.67" width="3.53" height="5.37" fill="#e2aab6"/>
<rect x="624.13" y="166.67" width="3.53" height="5.37" fill="#e0989e"/>
<rect x="626.96" y="166.67" width="3.53" height="5.37" fill="#e2a8b4"/>
<rect x="629.79" y="166.67" width="3.53" height="5.37" fill="#e2acb8"/>
<rect x="632.61" y="166.67" width="3.53" height="5.37" fill="#e2a9b5"/>
<rect x="635.44" y="166.67" width="3.53" height="5.37" fill="#e2a6b1"/>
<rect x="638.27" y="166.67" width="3.53" height="5.37" fill="#e2a5b0"/>
<rect x="641.09" y="166.67" width="3.53" height="5.37" fill="#e2a7b3"/>
<rect x="643.92" y="166.67" width="3.53" height="5.37" fill="#e2aab6"/>
<rect x="646.75" y="166.67" width="3.53" height="5.37" fill="#e2a9b5"/>
<rect x="649.58" y="166.67" width="3.53" height="5.37" fill="#df8a8d"/>
<rect x="652.40" y="166.67" width="3.53" height="5.37" fill="#e2a5b1"/>
<rect x="655.23" y="166.67" width="3.53" height="5.37" fill="#e2a4af"/>
<rect x="658.06" y="166.67" width="3.53" height="5.37" fill="#e3aeba"/>
<rect x="660.88" y="166.67" width="3.53" height="5.37" fill="#e2abb8"/>
<rect x="663.71" y="166.67" width="3.53" height="5.37" fill="#e199a0"/>
<rect x="666.54" y="166.67" width="3.53" height="5.37" fill="#e2acb9"/>
<rect x="669.36" y="166.67" width="3.53" height="5.37" fill="#e3aeba"/>
<rect x="672.19" y="166.67" width="3.53" height="5.37" fill="#e2abb7"/>
<rect x="675.02" y="166.67" width="3.53" height="5.37" fill="#e1a0aa"/>
<rect x="677.85" y="166.67" width="3.53" height="5.37" fill="#e2a5b0"/>
<rect x="680.67" y="166.67" width="3.53" height="5.37" fill="#e2a3ae"/>
<text x="546.6" y="171.43" font-size="4.4" text-anchor="end" fill="#000" stroke="#000" stroke-width="0.12" font-weight="normal">TMEM11</text>
<rect x="547.80" y="171.33" width="3.53" height="5.37" fill="#d94937"/>
<rect x="550.63" y="171.33" width="3.53" height="5.37" fill="#d94937"/>
<rect x="553.45" y="171.33" width="3.53" height="5.37" fill="#d8422e"/>
<rect x="556.28" y="171.33" width="3.53" height="5.37" fill="#d94835"/>
<rect x="559.11" y="171.33" width="3.53" height="5.37" fill="#d94c3b"/>
<rect x="561.94" y="171.33" width="3.53" height="5.37" fill="#d94b3a"/>
<rect x="564.76" y="171.33" width="3.53" height="5.37" fill="#d84735"/>
<rect x="567.59" y="171.33" width="3.53" height="5.37" fill="#d94a39"/>
<rect x="570.42" y="171.33" width="3.53" height="5.37" fill="#d94d3c"/>
<rect x="573.24" y="171.33" width="3.53" height="5.37" fill="#d94e3e"/>
<rect x="576.07" y="171.33" width="3.53" height="5.37" fill="#d84431"/>
<rect x="578.90" y="171.33" width="3.53" height="5.37" fill="#d8422e"/>
<rect x="581.72" y="171.33" width="3.53" height="5.37" fill="#d8422e"/>
<rect x="584.55" y="171.33" width="3.53" height="5.37" fill="#d8422e"/>
<rect x="587.38" y="171.33" width="3.53" height="5.37" fill="#d8422e"/>
<rect x="590.21" y="171.33" width="3.53" height="5.37" fill="#d94937"/>
<rect x="593.03" y="171.33" width="3.53" height="5.37" fill="#d84430"/>
<rect x="595.86" y="171.33" width="3.53" height="5.37" fill="#d84734"/>
<rect x="598.69" y="171.33" width="3.53" height="5.37" fill="#d95041"/>
<rect x="601.51" y="171.33" width="3.53" height="5.37" fill="#d94e3d"/>
<rect x="604.34" y="171.33" width="3.53" height="5.37" fill="#d84533"/>
<rect x="607.17" y="171.33" width="3.53" height="5.37" fill="#d84430"/>
<rect x="610.00" y="171.33" width="3.53" height="5.37" fill="#d95041"/>
<rect x="612.82" y="171.33" width="3.53" height="5.37" fill="#d84634"/>
<rect x="615.65" y="171.33" width="3.53" height="5.37" fill="#d8422e"/>
<rect x="618.48" y="171.33" width="3.53" height="5.37" fill="#d8422e"/>
<rect x="621.30" y="171.33" width="3.53" height="5.37" fill="#d94e3e"/>
<rect x="624.13" y="171.33" width="3.53" height="5.37" fill="#d8432f"/>
<rect x="626.96" y="171.33" width="3.53" height="5.37" fill="#d94c3c"/>
<rect x="629.79" y="171.33" width="3.53" height="5.37" fill="#d8422e"/>
<rect x="632.61" y="171.33" width="3.53" height="5.37" fill="#d94d3c"/>
<rect x="635.44" y="171.33" width="3.53" height="5.37" fill="#d94b3a"/>
<rect x="638.27" y="171.33" width="3.53" height="5.37" fill="#d94d3d"/>
<rect x="641.09" y="171.33" width="3.53" height="5.37" fill="#d8422e"/>
<rect x="643.92" y="171.33" width="3.53" height="5.37" fill="#d84734"/>
<rect x="646.75" y="171.33" width="3.53" height="5.37" fill="#d94937"/>
<rect x="649.58" y="171.33" width="3.53" height="5.37" fill="#d8422e"/>
<rect x="652.40" y="171.33" width="3.53" height="5.37" fill="#d84532"/>
<rect x="655.23" y="171.33" width="3.53" height="5.37" fill="#d84330"/>
<rect x="658.06" y="171.33" width="3.53" height="5.37" fill="#d94c3b"/>
<rect x="660.88" y="171.33" width="3.53" height="5.37" fill="#d94c3b"/>
<rect x="663.71" y="171.33" width="3.53" height="5.37" fill="#d94937"/>
<rect x="666.54" y="171.33" width="3.53" height="5.37" fill="#d94a39"/>
<rect x="669.36" y="171.33" width="3.53" height="5.37" fill="#d94938"/>
<rect x="672.19" y="171.33" width="3.53" height="5.37" fill="#d94e3e"/>
<rect x="675.02" y="171.33" width="3.53" height="5.37" fill="#d95041"/>
<rect x="677.85" y="171.33" width="3.53" height="5.37" fill="#d8432f"/>
<rect x="680.67" y="171.33" width="3.53" height="5.37" fill="#d94f3f"/>
<text x="546.6" y="176.10" font-size="4.4" text-anchor="end" fill="#000" stroke="#000" stroke-width="0.12" font-weight="bold">MFN2 gRNA</text>
<line x1="549.21" y1="21.90" x2="549.21" y2="15.38" stroke="#bdbdbd" stroke-width="0.55"/>
<line x1="552.04" y1="21.90" x2="552.04" y2="15.38" stroke="#bdbdbd" stroke-width="0.55"/>
<line x1="549.21" y1="15.38" x2="552.04" y2="15.38" stroke="#bdbdbd" stroke-width="0.55"/>
<line x1="554.87" y1="21.90" x2="554.87" y2="16.85" stroke="#bdbdbd" stroke-width="0.55"/>
<line x1="557.69" y1="21.90" x2="557.69" y2="16.85" stroke="#bdbdbd" stroke-width="0.55"/>
<line x1="554.87" y1="16.85" x2="557.69" y2="16.85" stroke="#bdbdbd" stroke-width="0.55"/>
<line x1="556.28" y1="16.85" x2="556.28" y2="16.02" stroke="#bdbdbd" stroke-width="0.55"/>
<line x1="560.52" y1="21.90" x2="560.52" y2="16.02" stroke="#bdbdbd" stroke-width="0.55"/>
<line x1="556.28" y1="16.02" x2="560.52" y2="16.02" stroke="#bdbdbd" stroke-width="0.55"/>
<line x1="558.40" y1="16.02" x2="558.40" y2="15.62" stroke="#bdbdbd" stroke-width="0.55"/>
<line x1="563.35" y1="21.90" x2="563.35" y2="15.62" stroke="#bdbdbd" stroke-width="0.55"/>
<line x1="558.40" y1="15.62" x2="563.35" y2="15.62" stroke="#bdbdbd" stroke-width="0.55"/>
<line x1="560.88" y1="15.62" x2="560.88" y2="15.22" stroke="#bdbdbd" stroke-width="0.55"/>
<line x1="566.18" y1="21.90" x2="566.18" y2="15.22" stroke="#bdbdbd" stroke-width="0.55"/>
<line x1="560.88" y1="15.22" x2="566.18" y2="15.22" stroke="#bdbdbd" stroke-width="0.55"/>
<line x1="550.63" y1="15.38" x2="550.63" y2="14.39" stroke="#bdbdbd" stroke-width="0.55"/>
<line x1="563.53" y1="15.22" x2="563.53" y2="14.39" stroke="#bdbdbd" stroke-width="0.55"/>
<line x1="550.63" y1="14.39" x2="563.53" y2="14.39" stroke="#bdbdbd" stroke-width="0.55"/>
<line x1="574.66" y1="21.90" x2="574.66" y2="15.72" stroke="#bdbdbd" stroke-width="0.55"/>
<line x1="577.48" y1="21.90" x2="577.48" y2="15.72" stroke="#bdbdbd" stroke-width="0.55"/>
<line x1="574.66" y1="15.72" x2="577.48" y2="15.72" stroke="#bdbdbd" stroke-width="0.55"/>
<line x1="571.83" y1="21.90" x2="571.83" y2="15.32" stroke="#bdbdbd" stroke-width="0.55"/>
<line x1="576.07" y1="15.72" x2="576.07" y2="15.32" stroke="#bdbdbd" stroke-width="0.55"/>
<line x1="571.83" y1="15.32" x2="576.07" y2="15.32" stroke="#bdbdbd" stroke-width="0.55"/>
<line x1="569.00" y1="21.90" x2="569.00" y2="14.23" stroke="#bdbdbd" stroke-width="0.55"/>
<line x1="573.95" y1="15.32" x2="573.95" y2="14.23" stroke="#bdbdbd" stroke-width="0.55"/>
<line x1="569.00" y1="14.23" x2="573.95" y2="14.23" stroke="#bdbdbd" stroke-width="0.55"/>
<line x1="557.08" y1="14.39" x2="557.08" y2="13.06" stroke="#bdbdbd" stroke-width="0.55"/>
<line x1="571.48" y1="14.23" x2="571.48" y2="13.06" stroke="#bdbdbd" stroke-width="0.55"/>
<line x1="557.08" y1="13.06" x2="571.48" y2="13.06" stroke="#bdbdbd" stroke-width="0.55"/>
<line x1="585.97" y1="21.90" x2="585.97" y2="16.24" stroke="#bdbdbd" stroke-width="0.55"/>
<line x1="588.79" y1="21.90" x2="588.79" y2="16.24" stroke="#bdbdbd" stroke-width="0.55"/>
<line x1="585.97" y1="16.24" x2="588.79" y2="16.24" stroke="#bdbdbd" stroke-width="0.55"/>
<line x1="583.14" y1="21.90" x2="583.14" y2="15.61" stroke="#bdbdbd" stroke-width="0.55"/>
<line x1="587.38" y1="16.24" x2="587.38" y2="15.61" stroke="#bdbdbd" stroke-width="0.55"/>
<line x1="583.14" y1="15.61" x2="587.38" y2="15.61" stroke="#bdbdbd" stroke-width="0.55"/>
<line x1="585.26" y1="15.61" x2="585.26" y2="15.21" stroke="#bdbdbd" stroke-width="0.55"/>
<line x1="591.62" y1="21.90" x2="591.62" y2="15.21" stroke="#bdbdbd" stroke-width="0.55"/>
<line x1="585.26" y1="15.21" x2="591.62" y2="15.21" stroke="#bdbdbd" stroke-width="0.55"/>
<line x1="580.31" y1="21.90" x2="580.31" y2="14.23" stroke="#bdbdbd" stroke-width="0.55"/>
<line x1="588.44" y1="15.21" x2="588.44" y2="14.23" stroke="#bdbdbd" stroke-width="0.55"/>
<line x1="580.31" y1="14.23" x2="588.44" y2="14.23" stroke="#bdbdbd" stroke-width="0.55"/>
<line x1="600.10" y1="21.90" x2="600.10" y2="16.57" stroke="#bdbdbd" stroke-width="0.55"/>
<line x1="602.93" y1="21.90" x2="602.93" y2="16.57" stroke="#bdbdbd" stroke-width="0.55"/>
<line x1="600.10" y1="16.57" x2="602.93" y2="16.57" stroke="#bdbdbd" stroke-width="0.55"/>
<line x1="601.51" y1="16.57" x2="601.51" y2="16.17" stroke="#bdbdbd" stroke-width="0.55"/>
<line x1="605.76" y1="21.90" x2="605.76" y2="16.17" stroke="#bdbdbd" stroke-width="0.55"/>
<line x1="601.51" y1="16.17" x2="605.76" y2="16.17" stroke="#bdbdbd" stroke-width="0.55"/>
<line x1="603.63" y1="16.17" x2="603.63" y2="15.77" stroke="#bdbdbd" stroke-width="0.55"/>
<line x1="608.58" y1="21.90" x2="608.58" y2="15.77" stroke="#bdbdbd" stroke-width="0.55"/>
<line x1="603.63" y1="15.77" x2="608.58" y2="15.77" stroke="#bdbdbd" stroke-width="0.55"/>
<line x1="597.27" y1="21.90" x2="597.27" y2="15.37" stroke="#bdbdbd" stroke-width="0.55"/>
<line x1="606.11" y1="15.77" x2="606.11" y2="15.37" stroke="#bdbdbd" stroke-width="0.55"/>
<line x1="597.27" y1="15.37" x2="606.11" y2="15.37" stroke="#bdbdbd" stroke-width="0.55"/>
<line x1="594.45" y1="21.90" x2="594.45" y2="14.97" stroke="#bdbdbd" stroke-width="0.55"/>
<line x1="601.69" y1="15.37" x2="601.69" y2="14.97" stroke="#bdbdbd" stroke-width="0.55"/>
<line x1="594.45" y1="14.97" x2="601.69" y2="14.97" stroke="#bdbdbd" stroke-width="0.55"/>
<line x1="598.07" y1="14.97" x2="598.07" y2="14.57" stroke="#bdbdbd" stroke-width="0.55"/>
<line x1="611.41" y1="21.90" x2="611.41" y2="14.57" stroke="#bdbdbd" stroke-width="0.55"/>
<line x1="598.07" y1="14.57" x2="611.41" y2="14.57" stroke="#bdbdbd" stroke-width="0.55"/>
<line x1="614.24" y1="21.90" x2="614.24" y2="15.00" stroke="#bdbdbd" stroke-width="0.55"/>
<line x1="617.06" y1="21.90" x2="617.06" y2="15.00" stroke="#bdbdbd" stroke-width="0.55"/>
<line x1="614.24" y1="15.00" x2="617.06" y2="15.00" stroke="#bdbdbd" stroke-width="0.55"/>
<line x1="604.74" y1="14.57" x2="604.74" y2="14.10" stroke="#bdbdbd" stroke-width="0.55"/>
<line x1="615.65" y1="15.00" x2="615.65" y2="14.10" stroke="#bdbdbd" stroke-width="0.55"/>
<line x1="604.74" y1="14.10" x2="615.65" y2="14.10" stroke="#bdbdbd" stroke-width="0.55"/>
<line x1="584.38" y1="14.23" x2="584.38" y2="13.19" stroke="#bdbdbd" stroke-width="0.55"/>
<line x1="610.19" y1="14.10" x2="610.19" y2="13.19" stroke="#bdbdbd" stroke-width="0.55"/>
<line x1="584.38" y1="13.19" x2="610.19" y2="13.19" stroke="#bdbdbd" stroke-width="0.55"/>
<line x1="564.28" y1="13.06" x2="564.28" y2="11.82" stroke="#bdbdbd" stroke-width="0.55"/>
<line x1="597.29" y1="13.19" x2="597.29" y2="11.82" stroke="#bdbdbd" stroke-width="0.55"/>
<line x1="564.28" y1="11.82" x2="597.29" y2="11.82" stroke="#bdbdbd" stroke-width="0.55"/>
<line x1="619.89" y1="21.90" x2="619.89" y2="15.01" stroke="#bdbdbd" stroke-width="0.55"/>
<line x1="622.72" y1="21.90" x2="622.72" y2="15.01" stroke="#bdbdbd" stroke-width="0.55"/>
<line x1="619.89" y1="15.01" x2="622.72" y2="15.01" stroke="#bdbdbd" stroke-width="0.55"/>
<line x1="628.37" y1="21.90" x2="628.37" y2="16.48" stroke="#bdbdbd" stroke-width="0.55"/>
<line x1="631.20" y1="21.90" x2="631.20" y2="16.48" stroke="#bdbdbd" stroke-width="0.55"/>
<line x1="628.37" y1="16.48" x2="631.20" y2="16.48" stroke="#bdbdbd" stroke-width="0.55"/>
<line x1="634.03" y1="21.90" x2="634.03" y2="16.52" stroke="#bdbdbd" stroke-width="0.55"/>
<line x1="636.85" y1="21.90" x2="636.85" y2="16.52" stroke="#bdbdbd" stroke-width="0.55"/>
<line x1="634.03" y1="16.52" x2="636.85" y2="16.52" stroke="#bdbdbd" stroke-width="0.55"/>
<line x1="629.79" y1="16.48" x2="629.79" y2="16.08" stroke="#bdbdbd" stroke-width="0.55"/>
<line x1="635.44" y1="16.52" x2="635.44" y2="16.08" stroke="#bdbdbd" stroke-width="0.55"/>
<line x1="629.79" y1="16.08" x2="635.44" y2="16.08" stroke="#bdbdbd" stroke-width="0.55"/>
<line x1="625.54" y1="21.90" x2="625.54" y2="15.59" stroke="#bdbdbd" stroke-width="0.55"/>
<line x1="632.61" y1="16.08" x2="632.61" y2="15.59" stroke="#bdbdbd" stroke-width="0.55"/>
<line x1="625.54" y1="15.59" x2="632.61" y2="15.59" stroke="#bdbdbd" stroke-width="0.55"/>
<line x1="629.08" y1="15.59" x2="629.08" y2="14.94" stroke="#bdbdbd" stroke-width="0.55"/>
<line x1="639.68" y1="21.90" x2="639.68" y2="14.94" stroke="#bdbdbd" stroke-width="0.55"/>
<line x1="629.08" y1="14.94" x2="639.68" y2="14.94" stroke="#bdbdbd" stroke-width="0.55"/>
<line x1="621.30" y1="15.01" x2="621.30" y2="14.18" stroke="#bdbdbd" stroke-width="0.55"/>
<line x1="634.38" y1="14.94" x2="634.38" y2="14.18" stroke="#bdbdbd" stroke-width="0.55"/>
<line x1="621.30" y1="14.18" x2="634.38" y2="14.18" stroke="#bdbdbd" stroke-width="0.55"/>
<line x1="642.51" y1="21.90" x2="642.51" y2="15.50" stroke="#bdbdbd" stroke-width="0.55"/>
<line x1="645.33" y1="21.90" x2="645.33" y2="15.50" stroke="#bdbdbd" stroke-width="0.55"/>
<line x1="642.51" y1="15.50" x2="645.33" y2="15.50" stroke="#bdbdbd" stroke-width="0.55"/>
<line x1="643.92" y1="15.50" x2="643.92" y2="15.10" stroke="#bdbdbd" stroke-width="0.55"/>
<line x1="648.16" y1="21.90" x2="648.16" y2="15.10" stroke="#bdbdbd" stroke-width="0.55"/>
<line x1="643.92" y1="15.10" x2="648.16" y2="15.10" stroke="#bdbdbd" stroke-width="0.55"/>
<line x1="650.99" y1="21.90" x2="650.99" y2="15.10" stroke="#bdbdbd" stroke-width="0.55"/>
<line x1="653.82" y1="21.90" x2="653.82" y2="15.10" stroke="#bdbdbd" stroke-width="0.55"/>
<line x1="650.99" y1="15.10" x2="653.82" y2="15.10" stroke="#bdbdbd" stroke-width="0.55"/>
<line x1="646.04" y1="15.10" x2="646.04" y2="14.19" stroke="#bdbdbd" stroke-width="0.55"/>
<line x1="652.40" y1="15.10" x2="652.40" y2="14.19" stroke="#bdbdbd" stroke-width="0.55"/>
<line x1="646.04" y1="14.19" x2="652.40" y2="14.19" stroke="#bdbdbd" stroke-width="0.55"/>
<line x1="627.84" y1="14.18" x2="627.84" y2="13.49" stroke="#bdbdbd" stroke-width="0.55"/>
<line x1="649.22" y1="14.19" x2="649.22" y2="13.49" stroke="#bdbdbd" stroke-width="0.55"/>
<line x1="627.84" y1="13.49" x2="649.22" y2="13.49" stroke="#bdbdbd" stroke-width="0.55"/>
<line x1="662.30" y1="21.90" x2="662.30" y2="16.29" stroke="#bdbdbd" stroke-width="0.55"/>
<line x1="665.12" y1="21.90" x2="665.12" y2="16.29" stroke="#bdbdbd" stroke-width="0.55"/>
<line x1="662.30" y1="16.29" x2="665.12" y2="16.29" stroke="#bdbdbd" stroke-width="0.55"/>
<line x1="659.47" y1="21.90" x2="659.47" y2="15.89" stroke="#bdbdbd" stroke-width="0.55"/>
<line x1="663.71" y1="16.29" x2="663.71" y2="15.89" stroke="#bdbdbd" stroke-width="0.55"/>
<line x1="659.47" y1="15.89" x2="663.71" y2="15.89" stroke="#bdbdbd" stroke-width="0.55"/>
<line x1="656.64" y1="21.90" x2="656.64" y2="14.93" stroke="#bdbdbd" stroke-width="0.55"/>
<line x1="661.59" y1="15.89" x2="661.59" y2="14.93" stroke="#bdbdbd" stroke-width="0.55"/>
<line x1="656.64" y1="14.93" x2="661.59" y2="14.93" stroke="#bdbdbd" stroke-width="0.55"/>
<line x1="659.12" y1="14.93" x2="659.12" y2="14.53" stroke="#bdbdbd" stroke-width="0.55"/>
<line x1="667.95" y1="21.90" x2="667.95" y2="14.53" stroke="#bdbdbd" stroke-width="0.55"/>
<line x1="659.12" y1="14.53" x2="667.95" y2="14.53" stroke="#bdbdbd" stroke-width="0.55"/>
<line x1="676.43" y1="21.90" x2="676.43" y2="16.51" stroke="#bdbdbd" stroke-width="0.55"/>
<line x1="679.26" y1="21.90" x2="679.26" y2="16.51" stroke="#bdbdbd" stroke-width="0.55"/>
<line x1="676.43" y1="16.51" x2="679.26" y2="16.51" stroke="#bdbdbd" stroke-width="0.55"/>
<line x1="673.61" y1="21.90" x2="673.61" y2="15.51" stroke="#bdbdbd" stroke-width="0.55"/>
<line x1="677.85" y1="16.51" x2="677.85" y2="15.51" stroke="#bdbdbd" stroke-width="0.55"/>
<line x1="673.61" y1="15.51" x2="677.85" y2="15.51" stroke="#bdbdbd" stroke-width="0.55"/>
<line x1="675.73" y1="15.51" x2="675.73" y2="15.11" stroke="#bdbdbd" stroke-width="0.55"/>
<line x1="682.09" y1="21.90" x2="682.09" y2="15.11" stroke="#bdbdbd" stroke-width="0.55"/>
<line x1="675.73" y1="15.11" x2="682.09" y2="15.11" stroke="#bdbdbd" stroke-width="0.55"/>
<line x1="670.78" y1="21.90" x2="670.78" y2="14.22" stroke="#bdbdbd" stroke-width="0.55"/>
<line x1="678.91" y1="15.11" x2="678.91" y2="14.22" stroke="#bdbdbd" stroke-width="0.55"/>
<line x1="670.78" y1="14.22" x2="678.91" y2="14.22" stroke="#bdbdbd" stroke-width="0.55"/>
<line x1="663.53" y1="14.53" x2="663.53" y2="13.35" stroke="#bdbdbd" stroke-width="0.55"/>
<line x1="674.84" y1="14.22" x2="674.84" y2="13.35" stroke="#bdbdbd" stroke-width="0.55"/>
<line x1="663.53" y1="13.35" x2="674.84" y2="13.35" stroke="#bdbdbd" stroke-width="0.55"/>
<line x1="638.53" y1="13.49" x2="638.53" y2="11.71" stroke="#bdbdbd" stroke-width="0.55"/>
<line x1="669.19" y1="13.35" x2="669.19" y2="11.71" stroke="#bdbdbd" stroke-width="0.55"/>
<line x1="638.53" y1="11.71" x2="669.19" y2="11.71" stroke="#bdbdbd" stroke-width="0.55"/>
<line x1="580.78" y1="11.82" x2="580.78" y2="10.03" stroke="#bdbdbd" stroke-width="0.55"/>
<line x1="653.86" y1="11.71" x2="653.86" y2="10.03" stroke="#bdbdbd" stroke-width="0.55"/>
<line x1="580.78" y1="10.03" x2="653.86" y2="10.03" stroke="#bdbdbd" stroke-width="0.55"/>
<line x1="550.30" y1="11.40" x2="574.00" y2="11.40" stroke="#bdbdbd" stroke-width="0.55"/>
<line x1="653.00" y1="10.40" x2="681.20" y2="10.40" stroke="#bdbdbd" stroke-width="0.55"/>
<line x1="550.30" y1="11.40" x2="550.30" y2="14.50" stroke="#bdbdbd" stroke-width="0.55"/>
<line x1="681.20" y1="10.40" x2="681.20" y2="14.50" stroke="#bdbdbd" stroke-width="0.55"/>
<rect x="652" y="103.1" width="25.8" height="27.7" fill="#fff"/>
<defs><linearGradient id="lg" x1="0" y1="0" x2="0" y2="1"><stop offset="0" stop-color="#2e4cb2"/><stop offset="0.5" stop-color="#e6e6f2"/><stop offset="1" stop-color="#d8402e"/></linearGradient></defs>
<rect x="654.9" y="105" width="5.9" height="24.9" fill="url(#lg)"/>
<text x="662.3" y="111.1" font-size="5.1" fill="#222">Min</text>
<text x="662.3" y="120.1" font-size="5.1" fill="#222">Mean</text>
<text x="662.3" y="129.0" font-size="5.1" fill="#222">Max</text>
</svg>
</body></html>
